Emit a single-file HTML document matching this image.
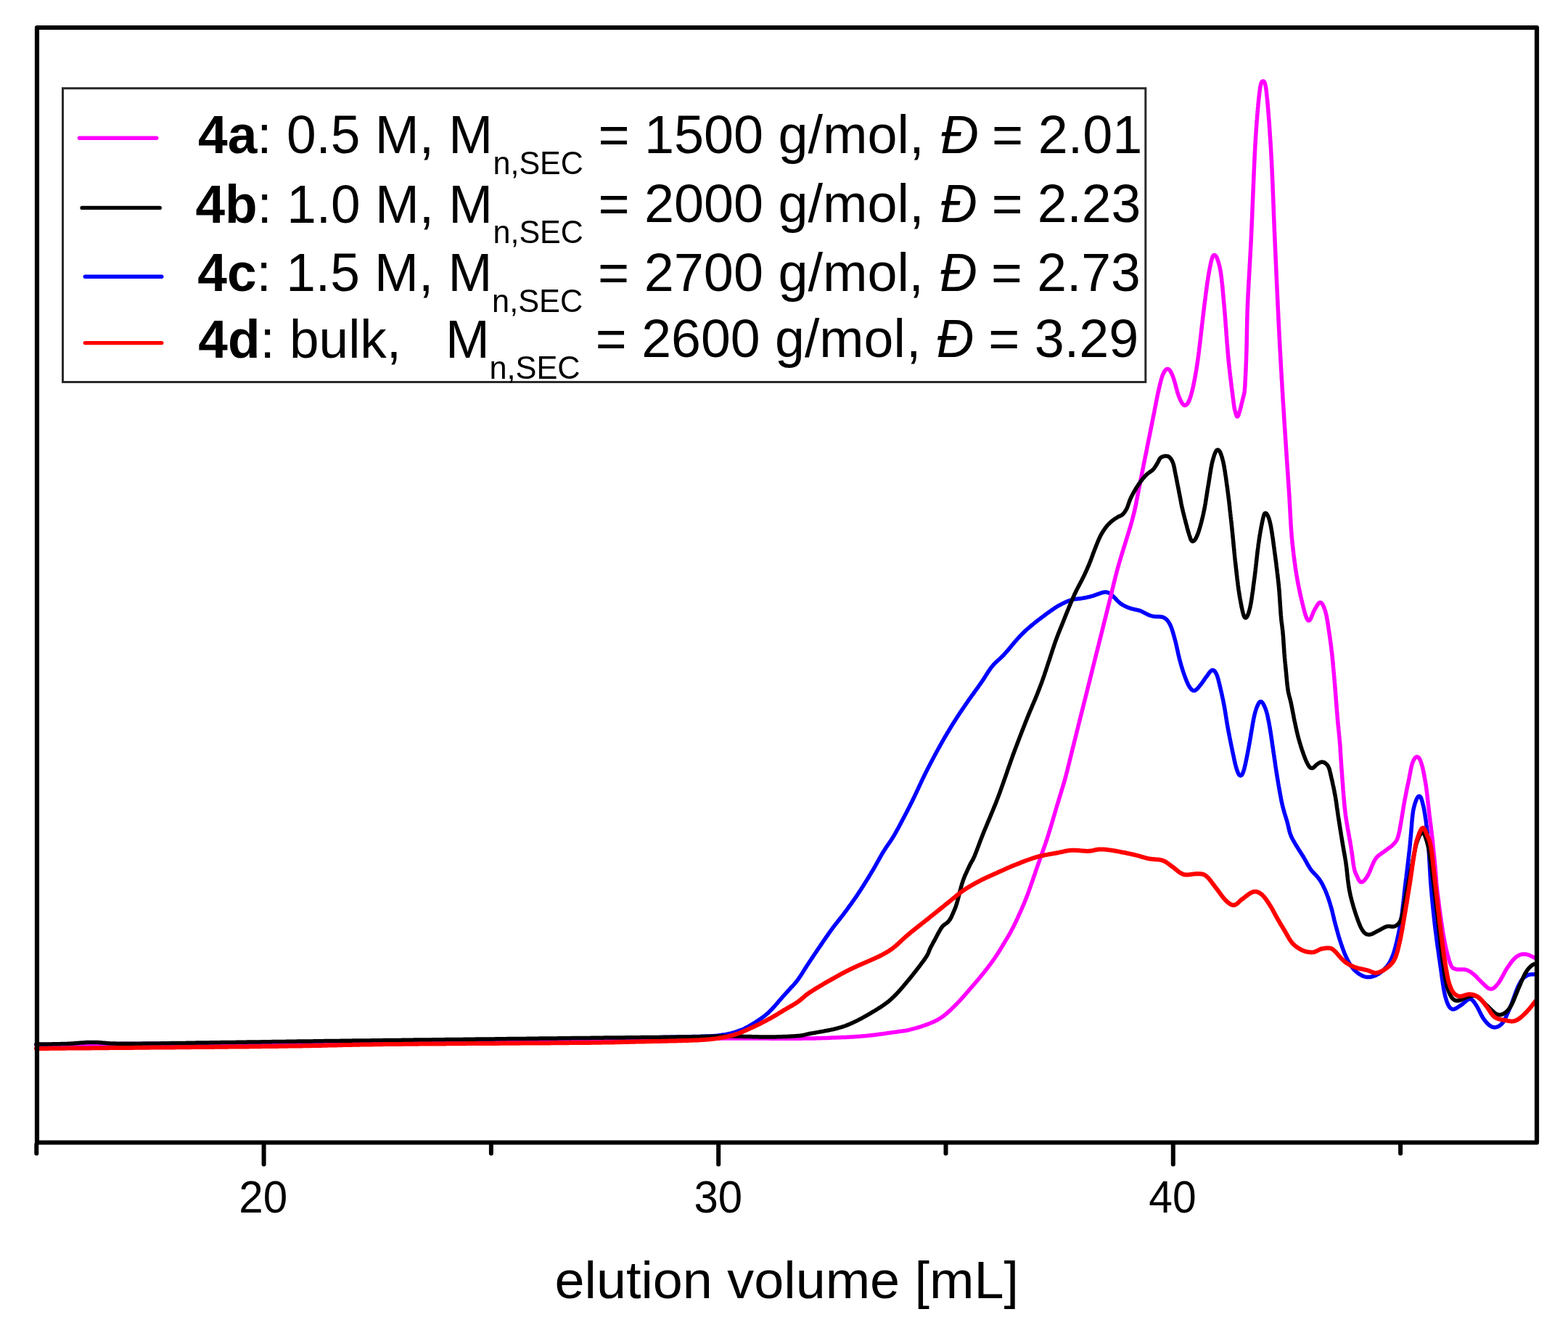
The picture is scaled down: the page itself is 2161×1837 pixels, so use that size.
<!DOCTYPE html>
<html><head><meta charset="utf-8"><title>SEC elugrams</title>
<style>
html,body{margin:0;padding:0;background:#fff;overflow:hidden;width:2161px;height:1837px;}
svg{display:block;}
text{font-family:"Liberation Sans",Arial,sans-serif;fill:#000;}
</style></head><body>
<svg width="2161" height="1837" viewBox="0 0 2161 1837">
<rect x="0" y="0" width="2161" height="1837" fill="#fff"/>
<path d="M50.0,1440.0 L52.9,1440.0 L54.0,1440.0 L55.2,1440.0 L56.5,1439.9 L57.7,1439.9 L59.1,1439.9 L60.5,1439.9 L62.0,1439.9 L63.5,1439.9 L65.0,1439.9 L66.5,1439.9 L68.0,1439.9 L69.5,1439.9 L71.0,1439.8 L72.5,1439.8 L74.0,1439.8 L75.5,1439.8 L77.0,1439.8 L78.5,1439.8 L80.0,1439.8 L81.5,1439.8 L83.0,1439.8 L84.5,1439.7 L86.0,1439.7 L87.5,1439.7 L89.0,1439.7 L90.5,1439.7 L92.0,1439.7 L93.5,1439.7 L95.0,1439.7 L96.5,1439.7 L98.0,1439.6 L99.5,1439.6 L101.0,1439.6 L102.5,1439.6 L104.0,1439.6 L105.5,1439.6 L107.0,1439.6 L108.5,1439.6 L110.0,1439.6 L111.5,1439.5 L113.0,1439.5 L114.5,1439.5 L116.0,1439.5 L117.5,1439.5 L119.0,1439.5 L120.5,1439.5 L122.0,1439.5 L123.5,1439.5 L125.0,1439.4 L126.5,1439.4 L128.0,1439.4 L129.5,1439.4 L131.0,1439.4 L132.5,1439.4 L134.0,1439.4 L135.5,1439.4 L137.0,1439.4 L138.5,1439.3 L140.0,1439.3 L141.5,1439.3 L143.0,1439.3 L144.5,1439.3 L146.0,1439.3 L147.5,1439.3 L149.0,1439.3 L150.5,1439.3 L152.0,1439.2 L153.5,1439.2 L155.0,1439.2 L156.5,1439.2 L158.0,1439.2 L159.5,1439.2 L161.0,1439.2 L162.5,1439.2 L164.0,1439.2 L165.5,1439.1 L167.0,1439.1 L168.5,1439.1 L170.0,1439.1 L171.5,1439.1 L173.0,1439.1 L174.5,1439.1 L176.0,1439.1 L177.5,1439.1 L179.0,1439.0 L180.5,1439.0 L182.0,1439.0 L183.5,1439.0 L185.0,1439.0 L186.5,1439.0 L188.0,1439.0 L189.5,1439.0 L191.0,1438.9 L192.5,1438.9 L194.0,1438.9 L195.5,1438.9 L197.0,1438.9 L198.5,1438.9 L200.0,1438.9 L201.5,1438.9 L203.0,1438.9 L204.5,1438.8 L206.0,1438.8 L207.5,1438.8 L209.0,1438.8 L210.5,1438.8 L212.0,1438.8 L213.5,1438.8 L215.0,1438.8 L216.5,1438.7 L218.0,1438.7 L219.5,1438.7 L221.0,1438.7 L222.5,1438.7 L224.0,1438.7 L225.5,1438.7 L227.0,1438.7 L228.5,1438.6 L230.0,1438.6 L231.5,1438.6 L233.0,1438.6 L234.5,1438.6 L236.0,1438.6 L237.5,1438.6 L239.0,1438.6 L240.5,1438.5 L242.0,1438.5 L243.5,1438.5 L245.0,1438.5 L246.5,1438.5 L248.0,1438.5 L249.5,1438.5 L251.0,1438.5 L252.5,1438.4 L254.0,1438.4 L255.5,1438.4 L257.0,1438.4 L258.5,1438.4 L260.0,1438.4 L261.5,1438.4 L263.0,1438.4 L264.5,1438.3 L266.0,1438.3 L267.5,1438.3 L269.0,1438.3 L270.5,1438.3 L272.0,1438.3 L273.5,1438.3 L275.0,1438.2 L276.5,1438.2 L278.0,1438.2 L279.5,1438.2 L281.0,1438.2 L282.5,1438.2 L284.0,1438.2 L285.5,1438.1 L287.0,1438.1 L288.5,1438.1 L290.0,1438.1 L291.5,1438.1 L293.0,1438.1 L294.5,1438.1 L296.0,1438.0 L297.5,1438.0 L299.0,1438.0 L300.5,1438.0 L302.0,1438.0 L303.5,1438.0 L305.0,1437.9 L306.5,1437.9 L308.0,1437.9 L309.5,1437.9 L311.0,1437.9 L312.5,1437.9 L314.0,1437.9 L315.5,1437.8 L317.0,1437.8 L318.5,1437.8 L320.0,1437.8 L321.5,1437.8 L323.0,1437.8 L324.5,1437.7 L326.0,1437.7 L327.5,1437.7 L329.0,1437.7 L330.5,1437.7 L332.0,1437.7 L333.5,1437.6 L335.0,1437.6 L336.5,1437.6 L338.0,1437.6 L339.5,1437.6 L341.0,1437.6 L342.5,1437.5 L344.0,1437.5 L345.5,1437.5 L347.0,1437.5 L348.5,1437.5 L350.0,1437.5 L351.5,1437.4 L353.0,1437.4 L354.5,1437.4 L356.0,1437.4 L357.5,1437.4 L359.0,1437.3 L360.5,1437.3 L362.0,1437.3 L363.5,1437.3 L365.0,1437.3 L366.5,1437.3 L368.0,1437.2 L369.5,1437.2 L371.0,1437.2 L372.5,1437.2 L374.0,1437.2 L375.5,1437.1 L377.0,1437.1 L378.5,1437.1 L380.0,1437.1 L381.5,1437.1 L383.0,1437.1 L384.5,1437.0 L386.0,1437.0 L387.5,1437.0 L389.0,1437.0 L390.5,1437.0 L392.0,1436.9 L393.5,1436.9 L395.0,1436.9 L396.5,1436.9 L398.0,1436.9 L399.5,1436.8 L401.0,1436.8 L402.5,1436.8 L404.0,1436.8 L405.5,1436.8 L407.0,1436.8 L408.5,1436.7 L410.0,1436.7 L411.5,1436.7 L413.0,1436.7 L414.5,1436.7 L416.0,1436.6 L417.5,1436.6 L419.0,1436.6 L420.5,1436.6 L422.0,1436.6 L423.5,1436.5 L425.0,1436.5 L426.5,1436.5 L428.0,1436.5 L429.5,1436.5 L431.0,1436.4 L432.5,1436.4 L434.0,1436.4 L435.5,1436.4 L437.0,1436.4 L438.5,1436.3 L440.0,1436.3 L441.5,1436.3 L443.0,1436.3 L444.5,1436.3 L446.0,1436.2 L447.5,1436.2 L449.0,1436.2 L450.5,1436.2 L452.0,1436.2 L453.5,1436.1 L455.0,1436.1 L456.5,1436.1 L458.0,1436.1 L459.5,1436.1 L461.0,1436.0 L462.5,1436.0 L464.0,1436.0 L465.5,1436.0 L467.0,1436.0 L468.5,1435.9 L470.0,1435.9 L471.5,1435.9 L473.0,1435.9 L474.5,1435.9 L476.0,1435.8 L477.5,1435.8 L479.0,1435.8 L480.5,1435.8 L482.0,1435.8 L483.5,1435.7 L485.0,1435.7 L486.5,1435.7 L488.0,1435.7 L489.5,1435.7 L491.0,1435.6 L492.5,1435.6 L494.0,1435.6 L495.5,1435.6 L497.0,1435.6 L498.5,1435.5 L500.0,1435.5 L501.5,1435.5 L503.0,1435.5 L504.5,1435.5 L506.0,1435.4 L507.5,1435.4 L509.0,1435.4 L510.5,1435.4 L512.0,1435.4 L513.5,1435.3 L515.0,1435.3 L516.5,1435.3 L518.0,1435.3 L519.5,1435.3 L521.0,1435.2 L522.5,1435.2 L524.0,1435.2 L525.5,1435.2 L527.0,1435.2 L528.5,1435.2 L530.0,1435.1 L531.5,1435.1 L533.0,1435.1 L534.5,1435.1 L536.0,1435.1 L537.5,1435.0 L539.0,1435.0 L540.5,1435.0 L542.0,1435.0 L543.5,1435.0 L545.0,1434.9 L546.5,1434.9 L548.0,1434.9 L549.5,1434.9 L551.0,1434.9 L552.5,1434.8 L554.0,1434.8 L555.5,1434.8 L557.0,1434.8 L558.5,1434.8 L560.0,1434.7 L561.5,1434.7 L563.0,1434.7 L564.5,1434.7 L566.0,1434.7 L567.5,1434.6 L569.0,1434.6 L570.5,1434.6 L572.0,1434.6 L573.5,1434.6 L575.0,1434.5 L576.5,1434.5 L578.0,1434.5 L579.5,1434.5 L581.0,1434.5 L582.5,1434.5 L584.0,1434.4 L585.5,1434.4 L587.0,1434.4 L588.5,1434.4 L590.0,1434.4 L591.5,1434.3 L593.0,1434.3 L594.5,1434.3 L596.0,1434.3 L597.5,1434.3 L599.0,1434.2 L600.5,1434.2 L602.0,1434.2 L603.5,1434.2 L605.0,1434.2 L606.5,1434.1 L608.0,1434.1 L609.5,1434.1 L611.0,1434.1 L612.5,1434.1 L614.0,1434.0 L615.5,1434.0 L617.0,1434.0 L618.5,1434.0 L620.0,1434.0 L621.5,1433.9 L623.0,1433.9 L624.5,1433.9 L626.0,1433.9 L627.5,1433.9 L629.0,1433.9 L630.5,1433.8 L632.0,1433.8 L633.5,1433.8 L635.0,1433.8 L636.5,1433.8 L638.0,1433.7 L639.5,1433.7 L641.0,1433.7 L642.5,1433.7 L644.0,1433.7 L645.5,1433.6 L647.0,1433.6 L648.5,1433.6 L650.0,1433.6 L651.5,1433.6 L653.0,1433.5 L654.5,1433.5 L656.0,1433.5 L657.5,1433.5 L659.0,1433.5 L660.5,1433.4 L662.0,1433.4 L663.5,1433.4 L665.0,1433.4 L666.5,1433.4 L668.0,1433.3 L669.5,1433.3 L671.0,1433.3 L672.5,1433.3 L674.0,1433.3 L675.5,1433.2 L677.0,1433.2 L678.5,1433.2 L680.0,1433.2 L681.5,1433.2 L683.0,1433.1 L684.5,1433.1 L686.0,1433.1 L687.5,1433.1 L689.0,1433.1 L690.5,1433.0 L692.0,1433.0 L693.5,1433.0 L695.0,1433.0 L696.5,1433.0 L698.0,1432.9 L699.5,1432.9 L701.0,1432.9 L702.5,1432.9 L704.0,1432.9 L705.5,1432.8 L707.0,1432.8 L708.5,1432.8 L710.0,1432.8 L711.5,1432.8 L713.0,1432.7 L714.5,1432.7 L716.0,1432.7 L717.5,1432.7 L719.0,1432.7 L720.5,1432.6 L722.0,1432.6 L723.5,1432.6 L725.0,1432.6 L726.5,1432.6 L728.0,1432.5 L729.5,1432.5 L731.0,1432.5 L732.5,1432.5 L734.0,1432.5 L735.5,1432.4 L737.0,1432.4 L738.5,1432.4 L740.0,1432.4 L741.5,1432.4 L743.0,1432.3 L744.5,1432.3 L746.0,1432.3 L747.5,1432.3 L749.0,1432.2 L750.5,1432.2 L752.0,1432.2 L753.5,1432.2 L755.0,1432.2 L756.5,1432.1 L758.0,1432.1 L759.5,1432.1 L761.0,1432.1 L762.5,1432.1 L764.0,1432.0 L765.5,1432.0 L767.0,1432.0 L768.5,1432.0 L770.0,1431.9 L771.5,1431.9 L773.0,1431.9 L774.5,1431.9 L776.0,1431.9 L777.5,1431.8 L779.0,1431.8 L780.5,1431.8 L782.0,1431.8 L783.5,1431.8 L785.0,1431.7 L786.5,1431.7 L788.0,1431.7 L789.5,1431.7 L791.0,1431.6 L792.5,1431.6 L794.0,1431.6 L795.4,1431.6 L796.9,1431.5 L798.4,1431.5 L799.9,1431.5 L801.4,1431.5 L802.9,1431.5 L804.4,1431.4 L805.9,1431.4 L807.4,1431.4 L808.9,1431.4 L810.4,1431.3 L811.9,1431.3 L813.4,1431.3 L814.9,1431.3 L816.4,1431.2 L817.9,1431.2 L819.4,1431.2 L820.9,1431.2 L822.4,1431.1 L823.9,1431.1 L825.4,1431.1 L826.9,1431.1 L828.4,1431.1 L829.9,1431.0 L831.4,1431.0 L832.9,1431.0 L834.4,1431.0 L835.9,1430.9 L837.4,1430.9 L838.9,1430.9 L840.4,1430.9 L841.9,1430.8 L843.4,1430.8 L844.9,1430.8 L846.4,1430.8 L847.9,1430.7 L849.4,1430.7 L850.9,1430.7 L852.4,1430.7 L853.9,1430.6 L855.4,1430.6 L856.9,1430.6 L858.4,1430.6 L859.9,1430.5 L861.4,1430.5 L862.9,1430.5 L864.4,1430.5 L865.9,1430.4 L867.4,1430.4 L868.9,1430.4 L870.4,1430.3 L871.9,1430.3 L873.4,1430.3 L874.9,1430.3 L876.4,1430.2 L877.9,1430.2 L879.4,1430.2 L880.9,1430.2 L882.4,1430.1 L883.9,1430.1 L885.4,1430.1 L886.9,1430.1 L888.4,1430.0 L889.9,1430.0 L891.4,1430.0 L892.9,1429.9 L894.4,1429.9 L895.9,1429.9 L897.4,1429.9 L898.9,1429.8 L900.4,1429.8 L901.9,1429.8 L903.4,1429.7 L904.9,1429.7 L906.4,1429.7 L907.9,1429.7 L909.4,1429.6 L910.9,1429.6 L912.4,1429.6 L913.9,1429.5 L915.4,1429.5 L916.9,1429.5 L918.4,1429.5 L919.9,1429.4 L921.4,1429.4 L922.9,1429.4 L924.4,1429.3 L925.9,1429.3 L927.4,1429.3 L928.9,1429.2 L930.4,1429.2 L931.9,1429.2 L933.4,1429.1 L934.9,1429.1 L936.4,1429.1 L937.9,1429.0 L939.4,1429.0 L940.9,1429.0 L942.4,1428.9 L943.9,1428.9 L945.4,1428.9 L946.9,1428.8 L948.4,1428.8 L949.9,1428.8 L951.4,1428.7 L952.9,1428.7 L954.4,1428.6 L955.9,1428.6 L957.4,1428.6 L958.9,1428.5 L960.4,1428.5 L961.9,1428.4 L963.4,1428.4 L964.9,1428.4 L966.4,1428.3 L967.9,1428.3 L969.4,1428.2 L970.9,1428.2 L972.4,1428.1 L973.9,1428.1 L975.4,1428.0 L976.9,1428.0 L978.4,1427.9 L979.9,1427.9 L981.4,1427.8 L982.9,1427.7 L984.4,1427.6 L985.9,1427.5 L987.4,1427.4 L988.9,1427.2 L990.4,1427.0 L991.9,1426.8 L993.3,1426.6 L994.8,1426.3 L996.3,1426.1 L997.8,1425.9 L999.3,1425.7 L1000.7,1425.4 L1002.2,1425.1 L1003.7,1424.8 L1005.1,1424.5 L1006.6,1424.2 L1008.1,1423.8 L1009.5,1423.4 L1011.0,1423.0 L1012.4,1422.6 L1013.8,1422.1 L1015.2,1421.7 L1016.7,1421.2 L1018.1,1420.7 L1019.5,1420.2 L1020.9,1419.6 L1022.3,1419.1 L1023.7,1418.5 L1025.0,1417.9 L1026.4,1417.2 L1027.7,1416.5 L1029.0,1415.8 L1030.4,1415.1 L1031.7,1414.4 L1033.0,1413.6 L1034.3,1412.9 L1035.6,1412.1 L1036.9,1411.4 L1038.1,1410.6 L1039.4,1409.8 L1040.7,1409.0 L1042.0,1408.2 L1043.2,1407.4 L1044.5,1406.6 L1045.7,1405.7 L1047.0,1404.9 L1048.2,1404.1 L1049.4,1403.2 L1050.6,1402.3 L1051.9,1401.4 L1053.0,1400.5 L1054.2,1399.6 L1055.4,1398.6 L1056.5,1397.7 L1057.7,1396.7 L1058.8,1395.7 L1059.9,1394.6 L1060.9,1393.6 L1062.0,1392.5 L1063.0,1391.5 L1064.1,1390.4 L1065.1,1389.3 L1066.1,1388.2 L1067.1,1387.1 L1068.1,1386.0 L1069.1,1384.8 L1070.1,1383.7 L1071.1,1382.6 L1072.1,1381.4 L1073.0,1380.3 L1074.0,1379.1 L1075.0,1378.0 L1076.0,1376.9 L1077.0,1375.7 L1077.9,1374.6 L1078.9,1373.5 L1079.9,1372.4 L1081.0,1371.3 L1082.0,1370.2 L1083.0,1369.0 L1084.0,1367.9 L1085.0,1366.8 L1086.0,1365.7 L1087.0,1364.6 L1088.0,1363.5 L1089.0,1362.3 L1090.0,1361.2 L1091.0,1360.1 L1092.1,1359.1 L1093.1,1358.0 L1094.1,1356.9 L1095.1,1355.7 L1096.1,1354.6 L1097.0,1353.5 L1098.0,1352.3 L1098.9,1351.1 L1099.8,1349.9 L1100.7,1348.7 L1101.5,1347.4 L1102.3,1346.2 L1103.2,1344.9 L1104.0,1343.7 L1104.8,1342.4 L1105.6,1341.2 L1106.4,1339.9 L1107.2,1338.6 L1108.0,1337.4 L1108.8,1336.1 L1109.6,1334.8 L1110.4,1333.6 L1111.2,1332.3 L1112.0,1331.0 L1112.8,1329.8 L1113.7,1328.5 L1114.5,1327.3 L1115.3,1326.0 L1116.1,1324.8 L1117.0,1323.5 L1117.8,1322.3 L1118.6,1321.0 L1119.5,1319.8 L1120.3,1318.5 L1121.1,1317.3 L1122.0,1316.0 L1122.8,1314.8 L1123.7,1313.5 L1124.5,1312.3 L1125.3,1311.1 L1126.2,1309.8 L1127.0,1308.6 L1127.8,1307.3 L1128.7,1306.1 L1129.5,1304.8 L1130.4,1303.6 L1131.2,1302.4 L1132.1,1301.1 L1132.9,1299.9 L1133.7,1298.6 L1134.6,1297.4 L1135.4,1296.2 L1136.3,1294.9 L1137.1,1293.7 L1138.0,1292.5 L1138.8,1291.2 L1139.7,1290.0 L1140.6,1288.8 L1141.4,1287.5 L1142.3,1286.3 L1143.1,1285.1 L1144.0,1283.9 L1144.9,1282.6 L1145.8,1281.4 L1146.7,1280.2 L1147.5,1279.0 L1148.4,1277.8 L1149.4,1276.6 L1150.3,1275.4 L1151.2,1274.2 L1152.1,1273.0 L1153.0,1271.9 L1154.0,1270.7 L1154.9,1269.5 L1155.8,1268.3 L1156.8,1267.2 L1157.7,1266.0 L1158.6,1264.8 L1159.5,1263.6 L1160.5,1262.5 L1161.4,1261.3 L1162.3,1260.1 L1163.2,1258.9 L1164.1,1257.7 L1165.0,1256.5 L1165.9,1255.3 L1166.8,1254.1 L1167.7,1252.9 L1168.6,1251.7 L1169.5,1250.4 L1170.3,1249.2 L1171.2,1248.0 L1172.1,1246.8 L1173.0,1245.6 L1173.8,1244.4 L1174.7,1243.1 L1175.6,1241.9 L1176.4,1240.7 L1177.3,1239.5 L1178.2,1238.2 L1179.0,1237.0 L1179.9,1235.8 L1180.7,1234.5 L1181.6,1233.3 L1182.4,1232.0 L1183.2,1230.8 L1184.0,1229.5 L1184.9,1228.3 L1185.7,1227.0 L1186.5,1225.8 L1187.3,1224.5 L1188.1,1223.2 L1188.9,1222.0 L1189.7,1220.7 L1190.5,1219.4 L1191.3,1218.2 L1192.1,1216.9 L1192.9,1215.6 L1193.7,1214.4 L1194.5,1213.1 L1195.3,1211.8 L1196.1,1210.5 L1196.9,1209.2 L1197.6,1208.0 L1198.4,1206.7 L1199.2,1205.4 L1200.0,1204.1 L1200.7,1202.8 L1201.5,1201.5 L1202.3,1200.3 L1203.1,1199.0 L1203.8,1197.7 L1204.6,1196.4 L1205.3,1195.1 L1206.1,1193.8 L1206.8,1192.5 L1207.5,1191.2 L1208.3,1189.9 L1209.0,1188.5 L1209.7,1187.2 L1210.5,1185.9 L1211.2,1184.6 L1211.9,1183.3 L1212.7,1182.0 L1213.4,1180.7 L1214.1,1179.4 L1214.9,1178.1 L1215.6,1176.8 L1216.4,1175.5 L1217.2,1174.2 L1218.0,1172.9 L1218.8,1171.7 L1219.6,1170.4 L1220.4,1169.2 L1221.2,1167.9 L1222.1,1166.7 L1222.9,1165.4 L1223.8,1164.2 L1224.6,1163.0 L1225.5,1161.7 L1226.3,1160.5 L1227.2,1159.3 L1228.0,1158.0 L1228.8,1156.8 L1229.6,1155.5 L1230.4,1154.2 L1231.2,1152.9 L1232.0,1151.7 L1232.7,1150.4 L1233.5,1149.1 L1234.2,1147.8 L1235.0,1146.5 L1235.7,1145.1 L1236.4,1143.8 L1237.2,1142.5 L1237.9,1141.2 L1238.6,1139.9 L1239.3,1138.6 L1240.0,1137.2 L1240.7,1135.9 L1241.4,1134.6 L1242.1,1133.3 L1242.8,1131.9 L1243.5,1130.6 L1244.2,1129.3 L1244.9,1128.0 L1245.6,1126.6 L1246.3,1125.3 L1247.0,1124.0 L1247.7,1122.6 L1248.4,1121.3 L1249.1,1120.0 L1249.8,1118.6 L1250.5,1117.3 L1251.1,1116.0 L1251.8,1114.6 L1252.5,1113.3 L1253.2,1112.0 L1253.9,1110.6 L1254.5,1109.3 L1255.2,1107.9 L1255.9,1106.6 L1256.6,1105.3 L1257.2,1103.9 L1257.9,1102.6 L1258.5,1101.2 L1259.2,1099.9 L1259.8,1098.5 L1260.5,1097.2 L1261.1,1095.8 L1261.8,1094.5 L1262.4,1093.1 L1263.1,1091.8 L1263.7,1090.4 L1264.3,1089.0 L1265.0,1087.7 L1265.6,1086.3 L1266.2,1085.0 L1266.9,1083.6 L1267.5,1082.2 L1268.1,1080.9 L1268.8,1079.5 L1269.4,1078.2 L1270.0,1076.8 L1270.7,1075.4 L1271.3,1074.1 L1272.0,1072.7 L1272.6,1071.4 L1273.3,1070.0 L1273.9,1068.7 L1274.6,1067.3 L1275.3,1066.0 L1275.9,1064.7 L1276.6,1063.3 L1277.3,1062.0 L1278.0,1060.6 L1278.6,1059.3 L1279.3,1058.0 L1280.0,1056.6 L1280.7,1055.3 L1281.4,1054.0 L1282.1,1052.6 L1282.8,1051.3 L1283.5,1050.0 L1284.2,1048.6 L1284.9,1047.3 L1285.6,1046.0 L1286.3,1044.7 L1287.0,1043.3 L1287.7,1042.0 L1288.4,1040.7 L1289.1,1039.4 L1289.8,1038.1 L1290.5,1036.7 L1291.2,1035.4 L1292.0,1034.1 L1292.7,1032.8 L1293.4,1031.5 L1294.1,1030.2 L1294.9,1028.9 L1295.6,1027.5 L1296.3,1026.2 L1297.1,1024.9 L1297.8,1023.6 L1298.5,1022.3 L1299.3,1021.0 L1300.0,1019.7 L1300.8,1018.4 L1301.5,1017.1 L1302.3,1015.8 L1303.0,1014.5 L1303.8,1013.2 L1304.6,1011.9 L1305.3,1010.6 L1306.1,1009.4 L1306.9,1008.1 L1307.6,1006.8 L1308.4,1005.5 L1309.2,1004.2 L1310.0,1002.9 L1310.7,1001.6 L1311.5,1000.4 L1312.3,999.1 L1313.1,997.8 L1313.9,996.5 L1314.7,995.3 L1315.5,994.0 L1316.3,992.7 L1317.1,991.5 L1317.9,990.2 L1318.7,989.0 L1319.5,987.7 L1320.4,986.4 L1321.2,985.2 L1322.0,983.9 L1322.8,982.7 L1323.7,981.4 L1324.5,980.2 L1325.4,979.0 L1326.2,977.7 L1327.0,976.5 L1327.9,975.2 L1328.7,974.0 L1329.6,972.7 L1330.4,971.5 L1331.3,970.3 L1332.1,969.0 L1333.0,967.8 L1333.8,966.6 L1334.7,965.3 L1335.5,964.1 L1336.4,962.9 L1337.3,961.7 L1338.2,960.4 L1339.0,959.2 L1339.9,958.0 L1340.8,956.8 L1341.7,955.6 L1342.5,954.4 L1343.4,953.1 L1344.3,951.9 L1345.2,950.7 L1346.1,949.5 L1346.9,948.3 L1347.8,947.1 L1348.7,945.8 L1349.5,944.6 L1350.4,943.4 L1351.3,942.2 L1352.1,940.9 L1353.0,939.7 L1353.8,938.5 L1354.6,937.2 L1355.5,936.0 L1356.3,934.7 L1357.1,933.4 L1357.9,932.2 L1358.7,930.9 L1359.5,929.6 L1360.3,928.4 L1361.1,927.1 L1361.9,925.9 L1362.8,924.6 L1363.6,923.4 L1364.5,922.1 L1365.3,920.9 L1366.2,919.7 L1367.2,918.5 L1368.1,917.4 L1369.1,916.2 L1370.1,915.1 L1371.1,914.1 L1372.2,913.0 L1373.3,912.0 L1374.4,911.0 L1375.5,910.0 L1376.6,909.0 L1377.7,908.0 L1378.8,907.0 L1379.9,905.9 L1381.0,904.9 L1382.1,903.8 L1383.1,902.8 L1384.1,901.7 L1385.1,900.5 L1386.1,899.4 L1387.1,898.3 L1388.1,897.2 L1389.1,896.0 L1390.0,894.9 L1391.0,893.7 L1392.0,892.6 L1392.9,891.4 L1393.9,890.3 L1394.8,889.1 L1395.8,888.0 L1396.8,886.8 L1397.7,885.7 L1398.7,884.5 L1399.7,883.4 L1400.7,882.2 L1401.7,881.1 L1402.7,880.0 L1403.7,878.9 L1404.7,877.8 L1405.7,876.7 L1406.8,875.6 L1407.8,874.6 L1408.9,873.5 L1410.0,872.5 L1411.0,871.4 L1412.1,870.4 L1413.2,869.4 L1414.3,868.3 L1415.4,867.3 L1416.5,866.3 L1417.7,865.3 L1418.8,864.4 L1419.9,863.4 L1421.1,862.4 L1422.2,861.5 L1423.4,860.5 L1424.6,859.5 L1425.7,858.6 L1426.9,857.7 L1428.1,856.7 L1429.3,855.8 L1430.4,854.9 L1431.6,854.0 L1432.8,853.1 L1434.0,852.2 L1435.2,851.3 L1436.4,850.4 L1437.6,849.5 L1438.8,848.6 L1440.0,847.7 L1441.2,846.8 L1442.4,845.9 L1443.6,845.0 L1444.9,844.1 L1446.1,843.3 L1447.3,842.4 L1448.5,841.5 L1449.7,840.6 L1451.0,839.8 L1452.2,838.9 L1453.5,838.1 L1454.7,837.3 L1456.0,836.4 L1457.2,835.7 L1458.5,834.9 L1459.8,834.2 L1461.2,833.5 L1462.5,832.8 L1463.8,832.1 L1465.2,831.4 L1466.5,830.8 L1467.9,830.1 L1469.3,829.5 L1470.6,828.9 L1472.0,828.4 L1473.4,827.8 L1474.8,827.3 L1476.3,826.9 L1477.7,826.4 L1479.2,826.1 L1480.6,825.8 L1482.1,825.6 L1483.6,825.4 L1485.1,825.2 L1486.6,825.1 L1488.1,825.0 L1489.6,824.8 L1491.0,824.6 L1492.5,824.3 L1494.0,824.1 L1495.5,823.8 L1496.9,823.5 L1498.4,823.1 L1499.9,822.8 L1501.3,822.5 L1502.8,822.1 L1504.2,821.7 L1505.7,821.3 L1507.1,820.8 L1508.5,820.3 L1509.9,819.8 L1511.3,819.3 L1512.7,818.8 L1514.2,818.3 L1515.6,817.8 L1517.0,817.3 L1518.4,816.9 L1519.9,816.5 L1521.3,816.2 L1522.8,816.1 L1524.3,816.1 L1525.8,816.3 L1527.2,816.7 L1528.6,817.3 L1529.9,818.0 L1531.1,818.9 L1532.2,819.9 L1533.3,820.9 L1534.4,822.0 L1535.4,823.0 L1536.5,824.1 L1537.5,825.2 L1538.5,826.3 L1539.6,827.4 L1540.6,828.5 L1541.7,829.5 L1542.8,830.5 L1544.0,831.4 L1545.2,832.3 L1546.5,833.1 L1547.7,833.9 L1549.1,834.6 L1550.4,835.3 L1551.8,835.9 L1553.1,836.5 L1554.5,837.1 L1555.9,837.6 L1557.3,838.1 L1558.8,838.6 L1560.2,839.0 L1561.7,839.3 L1563.1,839.7 L1564.6,840.0 L1566.0,840.3 L1567.5,840.7 L1569.0,841.0 L1570.4,841.4 L1571.8,841.9 L1573.2,842.5 L1574.6,843.1 L1575.9,843.8 L1577.2,844.5 L1578.5,845.2 L1579.9,845.9 L1581.2,846.6 L1582.6,847.2 L1584.0,847.8 L1585.4,848.3 L1586.8,848.7 L1588.2,849.1 L1589.7,849.4 L1591.2,849.6 L1592.7,849.7 L1594.2,849.8 L1595.7,849.8 L1597.2,849.8 L1598.7,849.9 L1600.2,850.0 L1601.6,850.3 L1603.1,850.7 L1604.4,851.3 L1605.7,852.1 L1606.9,853.0 L1608.0,854.0 L1609.0,855.1 L1609.9,856.3 L1610.7,857.5 L1611.5,858.8 L1612.2,860.1 L1612.9,861.5 L1613.5,862.8 L1614.1,864.2 L1614.6,865.6 L1615.1,867.0 L1615.6,868.5 L1616.0,869.9 L1616.5,871.3 L1616.9,872.8 L1617.3,874.2 L1617.7,875.6 L1618.1,877.1 L1618.5,878.5 L1618.9,880.0 L1619.3,881.4 L1619.7,882.9 L1620.1,884.3 L1620.4,885.8 L1620.8,887.2 L1621.1,888.7 L1621.4,890.2 L1621.8,891.6 L1622.1,893.1 L1622.4,894.6 L1622.7,896.0 L1623.1,897.5 L1623.4,899.0 L1623.7,900.4 L1624.0,901.9 L1624.4,903.3 L1624.7,904.8 L1625.1,906.3 L1625.4,907.7 L1625.8,909.2 L1626.2,910.6 L1626.6,912.1 L1627.0,913.5 L1627.4,915.0 L1627.8,916.4 L1628.2,917.8 L1628.7,919.3 L1629.1,920.7 L1629.5,922.1 L1630.0,923.6 L1630.4,925.0 L1630.9,926.4 L1631.4,927.9 L1631.9,929.3 L1632.4,930.7 L1632.9,932.1 L1633.4,933.5 L1633.9,934.9 L1634.5,936.3 L1635.0,937.7 L1635.6,939.1 L1636.2,940.5 L1636.8,941.8 L1637.4,943.2 L1638.1,944.5 L1638.9,945.8 L1639.7,947.1 L1640.5,948.3 L1641.5,949.5 L1642.5,950.5 L1643.7,951.3 L1645.1,951.8 L1646.5,951.7 L1647.8,951.1 L1648.9,950.2 L1650.0,949.2 L1651.0,948.1 L1652.0,947.0 L1652.9,945.8 L1653.9,944.6 L1654.8,943.5 L1655.7,942.3 L1656.6,941.1 L1657.5,939.9 L1658.4,938.6 L1659.2,937.4 L1660.1,936.1 L1660.9,934.9 L1661.8,933.7 L1662.7,932.5 L1663.6,931.3 L1664.5,930.1 L1665.3,928.9 L1666.2,927.6 L1667.1,926.5 L1668.1,925.3 L1669.2,924.3 L1670.4,923.6 L1671.7,923.5 L1673.0,924.0 L1674.1,924.9 L1674.9,926.1 L1675.7,927.4 L1676.4,928.8 L1677.0,930.1 L1677.5,931.5 L1678.0,932.9 L1678.4,934.4 L1678.9,935.8 L1679.3,937.3 L1679.6,938.7 L1680.0,940.2 L1680.3,941.6 L1680.7,943.1 L1681.0,944.5 L1681.4,946.0 L1681.7,947.5 L1682.1,948.9 L1682.4,950.4 L1682.8,951.8 L1683.1,953.3 L1683.4,954.8 L1683.8,956.2 L1684.1,957.7 L1684.4,959.2 L1684.7,960.6 L1685.0,962.1 L1685.4,963.6 L1685.7,965.0 L1686.0,966.5 L1686.2,968.0 L1686.5,969.4 L1686.8,970.9 L1687.1,972.4 L1687.4,973.9 L1687.6,975.3 L1687.9,976.8 L1688.1,978.3 L1688.4,979.8 L1688.6,981.3 L1688.9,982.7 L1689.1,984.2 L1689.3,985.7 L1689.6,987.2 L1689.8,988.7 L1690.0,990.2 L1690.3,991.6 L1690.5,993.1 L1690.7,994.6 L1691.0,996.1 L1691.2,997.6 L1691.5,999.0 L1691.7,1000.5 L1692.0,1002.0 L1692.3,1003.5 L1692.5,1004.9 L1692.8,1006.4 L1693.1,1007.9 L1693.4,1009.4 L1693.7,1010.8 L1693.9,1012.3 L1694.2,1013.8 L1694.5,1015.2 L1694.8,1016.7 L1695.1,1018.2 L1695.4,1019.7 L1695.7,1021.1 L1696.0,1022.6 L1696.3,1024.1 L1696.6,1025.5 L1696.9,1027.0 L1697.2,1028.5 L1697.5,1030.0 L1697.8,1031.4 L1698.1,1032.9 L1698.4,1034.4 L1698.7,1035.8 L1699.0,1037.3 L1699.3,1038.8 L1699.7,1040.2 L1700.0,1041.7 L1700.3,1043.2 L1700.6,1044.6 L1700.9,1046.1 L1701.2,1047.6 L1701.5,1049.0 L1701.8,1050.5 L1702.2,1052.0 L1702.5,1053.4 L1702.9,1054.9 L1703.3,1056.3 L1703.7,1057.8 L1704.1,1059.2 L1704.6,1060.6 L1705.1,1062.0 L1705.6,1063.5 L1706.1,1064.8 L1706.8,1066.2 L1707.5,1067.5 L1708.5,1068.5 L1709.6,1068.9 L1710.8,1068.5 L1711.7,1067.6 L1712.5,1066.3 L1713.0,1064.9 L1713.6,1063.5 L1714.0,1062.1 L1714.5,1060.6 L1714.9,1059.2 L1715.2,1057.7 L1715.6,1056.3 L1715.9,1054.8 L1716.3,1053.4 L1716.6,1051.9 L1716.9,1050.4 L1717.2,1049.0 L1717.5,1047.5 L1717.8,1046.0 L1718.1,1044.6 L1718.4,1043.1 L1718.7,1041.6 L1719.0,1040.1 L1719.3,1038.7 L1719.6,1037.2 L1719.8,1035.7 L1720.1,1034.3 L1720.4,1032.8 L1720.7,1031.3 L1721.0,1029.8 L1721.2,1028.4 L1721.5,1026.9 L1721.8,1025.4 L1722.0,1023.9 L1722.3,1022.5 L1722.6,1021.0 L1722.8,1019.5 L1723.1,1018.0 L1723.3,1016.5 L1723.6,1015.1 L1723.8,1013.6 L1724.0,1012.1 L1724.3,1010.6 L1724.5,1009.1 L1724.8,1007.7 L1725.0,1006.2 L1725.3,1004.7 L1725.5,1003.2 L1725.8,1001.7 L1726.0,1000.3 L1726.3,998.8 L1726.5,997.3 L1726.8,995.8 L1727.1,994.4 L1727.3,992.9 L1727.6,991.4 L1727.9,989.9 L1728.2,988.5 L1728.6,987.0 L1728.9,985.5 L1729.2,984.1 L1729.6,982.6 L1730.0,981.2 L1730.4,979.7 L1730.9,978.3 L1731.3,976.9 L1731.8,975.5 L1732.4,974.1 L1733.0,972.7 L1733.6,971.3 L1734.2,970.0 L1735.0,968.7 L1735.8,967.6 L1736.9,966.9 L1738.1,966.9 L1739.3,967.7 L1740.2,968.8 L1741.0,970.0 L1741.7,971.4 L1742.4,972.7 L1743.0,974.1 L1743.6,975.4 L1744.1,976.8 L1744.6,978.3 L1745.1,979.7 L1745.5,981.1 L1745.9,982.6 L1746.3,984.0 L1746.7,985.5 L1747.0,986.9 L1747.3,988.4 L1747.6,989.9 L1747.9,991.3 L1748.2,992.8 L1748.5,994.3 L1748.8,995.7 L1749.1,997.2 L1749.3,998.7 L1749.6,1000.2 L1749.8,1001.7 L1750.1,1003.1 L1750.4,1004.6 L1750.6,1006.1 L1750.8,1007.6 L1751.1,1009.1 L1751.3,1010.5 L1751.5,1012.0 L1751.8,1013.5 L1752.0,1015.0 L1752.2,1016.5 L1752.4,1018.0 L1752.6,1019.4 L1752.9,1020.9 L1753.1,1022.4 L1753.3,1023.9 L1753.5,1025.4 L1753.7,1026.9 L1753.9,1028.3 L1754.1,1029.8 L1754.4,1031.3 L1754.6,1032.8 L1754.8,1034.3 L1755.0,1035.8 L1755.2,1037.2 L1755.4,1038.7 L1755.7,1040.2 L1755.9,1041.7 L1756.1,1043.2 L1756.3,1044.7 L1756.5,1046.2 L1756.7,1047.6 L1757.0,1049.1 L1757.2,1050.6 L1757.4,1052.1 L1757.6,1053.6 L1757.8,1055.1 L1758.0,1056.5 L1758.3,1058.0 L1758.5,1059.5 L1758.7,1061.0 L1758.9,1062.5 L1759.2,1064.0 L1759.4,1065.4 L1759.6,1066.9 L1759.9,1068.4 L1760.1,1069.9 L1760.3,1071.4 L1760.6,1072.8 L1760.8,1074.3 L1761.1,1075.8 L1761.3,1077.3 L1761.6,1078.8 L1761.8,1080.2 L1762.1,1081.7 L1762.3,1083.2 L1762.6,1084.7 L1762.8,1086.2 L1763.1,1087.6 L1763.4,1089.1 L1763.6,1090.6 L1763.9,1092.1 L1764.2,1093.5 L1764.4,1095.0 L1764.7,1096.5 L1765.0,1098.0 L1765.3,1099.4 L1765.5,1100.9 L1765.8,1102.4 L1766.1,1103.9 L1766.4,1105.3 L1766.7,1106.8 L1767.1,1108.3 L1767.4,1109.7 L1767.7,1111.2 L1768.1,1112.6 L1768.5,1114.1 L1768.9,1115.5 L1769.3,1117.0 L1769.7,1118.4 L1770.1,1119.9 L1770.5,1121.3 L1771.0,1122.7 L1771.4,1124.2 L1771.9,1125.6 L1772.3,1127.0 L1772.8,1128.5 L1773.2,1129.9 L1773.6,1131.3 L1774.0,1132.8 L1774.4,1134.2 L1774.8,1135.7 L1775.1,1137.1 L1775.5,1138.6 L1775.8,1140.1 L1776.1,1141.5 L1776.5,1143.0 L1776.8,1144.4 L1777.2,1145.9 L1777.6,1147.3 L1778.1,1148.8 L1778.6,1150.2 L1779.1,1151.6 L1779.7,1153.0 L1780.3,1154.3 L1781.0,1155.7 L1781.7,1157.0 L1782.4,1158.3 L1783.2,1159.6 L1783.9,1160.9 L1784.7,1162.2 L1785.4,1163.5 L1786.2,1164.8 L1787.0,1166.1 L1787.8,1167.3 L1788.6,1168.6 L1789.4,1169.9 L1790.2,1171.2 L1791.0,1172.4 L1791.8,1173.7 L1792.6,1174.9 L1793.4,1176.2 L1794.2,1177.5 L1795.0,1178.7 L1795.8,1180.0 L1796.6,1181.3 L1797.3,1182.6 L1798.1,1183.9 L1798.8,1185.2 L1799.6,1186.5 L1800.3,1187.8 L1801.0,1189.1 L1801.7,1190.4 L1802.5,1191.8 L1803.2,1193.1 L1804.0,1194.3 L1804.8,1195.6 L1805.6,1196.9 L1806.4,1198.1 L1807.3,1199.3 L1808.3,1200.5 L1809.3,1201.6 L1810.3,1202.7 L1811.3,1203.8 L1812.4,1204.9 L1813.4,1205.9 L1814.4,1207.0 L1815.4,1208.2 L1816.4,1209.3 L1817.3,1210.5 L1818.2,1211.7 L1819.1,1212.9 L1819.9,1214.2 L1820.7,1215.4 L1821.4,1216.7 L1822.2,1218.0 L1822.9,1219.4 L1823.5,1220.7 L1824.2,1222.1 L1824.8,1223.4 L1825.5,1224.8 L1826.1,1226.1 L1826.7,1227.5 L1827.3,1228.9 L1827.8,1230.3 L1828.4,1231.7 L1828.9,1233.1 L1829.4,1234.5 L1830.0,1235.9 L1830.5,1237.3 L1830.9,1238.7 L1831.4,1240.2 L1831.9,1241.6 L1832.3,1243.0 L1832.8,1244.4 L1833.2,1245.9 L1833.6,1247.3 L1834.1,1248.8 L1834.5,1250.2 L1834.9,1251.6 L1835.3,1253.1 L1835.7,1254.5 L1836.1,1256.0 L1836.4,1257.4 L1836.8,1258.9 L1837.1,1260.4 L1837.5,1261.8 L1837.8,1263.3 L1838.2,1264.7 L1838.5,1266.2 L1838.8,1267.7 L1839.2,1269.1 L1839.6,1270.6 L1839.9,1272.0 L1840.3,1273.5 L1840.7,1274.9 L1841.1,1276.4 L1841.5,1277.8 L1841.9,1279.3 L1842.3,1280.7 L1842.7,1282.2 L1843.1,1283.6 L1843.5,1285.0 L1843.9,1286.5 L1844.3,1287.9 L1844.7,1289.4 L1845.1,1290.8 L1845.6,1292.2 L1846.0,1293.7 L1846.5,1295.1 L1846.9,1296.5 L1847.4,1298.0 L1847.9,1299.4 L1848.3,1300.8 L1848.8,1302.2 L1849.3,1303.7 L1849.8,1305.1 L1850.3,1306.5 L1850.8,1307.9 L1851.3,1309.3 L1851.8,1310.7 L1852.4,1312.1 L1852.9,1313.5 L1853.5,1314.9 L1854.1,1316.3 L1854.7,1317.7 L1855.3,1319.0 L1855.9,1320.4 L1856.6,1321.7 L1857.3,1323.1 L1858.0,1324.4 L1858.7,1325.7 L1859.4,1327.0 L1860.2,1328.3 L1861.0,1329.6 L1861.8,1330.8 L1862.7,1332.0 L1863.6,1333.2 L1864.5,1334.4 L1865.5,1335.6 L1866.5,1336.7 L1867.6,1337.7 L1868.7,1338.7 L1869.8,1339.7 L1871.0,1340.6 L1872.2,1341.5 L1873.4,1342.4 L1874.7,1343.2 L1876.0,1343.9 L1877.3,1344.6 L1878.7,1345.2 L1880.1,1345.7 L1881.5,1346.1 L1883.0,1346.4 L1884.5,1346.5 L1886.0,1346.5 L1887.5,1346.4 L1889.0,1346.2 L1890.4,1346.0 L1891.9,1345.6 L1893.3,1345.2 L1894.7,1344.7 L1896.1,1344.1 L1897.5,1343.4 L1898.8,1342.7 L1900.1,1342.0 L1901.3,1341.1 L1902.5,1340.2 L1903.7,1339.3 L1904.9,1338.4 L1906.0,1337.4 L1907.1,1336.4 L1908.2,1335.3 L1909.2,1334.2 L1910.2,1333.1 L1911.2,1332.0 L1912.2,1330.8 L1913.0,1329.6 L1913.9,1328.4 L1914.7,1327.1 L1915.4,1325.8 L1916.1,1324.5 L1916.8,1323.1 L1917.4,1321.8 L1918.0,1320.4 L1918.6,1319.0 L1919.2,1317.6 L1919.7,1316.2 L1920.2,1314.8 L1920.7,1313.4 L1921.1,1312.0 L1921.6,1310.5 L1922.0,1309.1 L1922.4,1307.6 L1922.8,1306.2 L1923.2,1304.8 L1923.6,1303.3 L1923.9,1301.8 L1924.3,1300.4 L1924.7,1298.9 L1925.0,1297.5 L1925.3,1296.0 L1925.7,1294.6 L1926.0,1293.1 L1926.3,1291.6 L1926.7,1290.2 L1927.0,1288.7 L1927.3,1287.2 L1927.6,1285.8 L1927.9,1284.3 L1928.2,1282.8 L1928.5,1281.4 L1928.8,1279.9 L1929.0,1278.4 L1929.3,1276.9 L1929.6,1275.5 L1929.9,1274.0 L1930.1,1272.5 L1930.4,1271.0 L1930.6,1269.5 L1930.9,1268.1 L1931.1,1266.6 L1931.3,1265.1 L1931.5,1263.6 L1931.8,1262.1 L1932.0,1260.6 L1932.2,1259.2 L1932.4,1257.7 L1932.6,1256.2 L1932.7,1254.7 L1932.9,1253.2 L1933.1,1251.7 L1933.3,1250.2 L1933.4,1248.7 L1933.6,1247.2 L1933.8,1245.8 L1933.9,1244.3 L1934.1,1242.8 L1934.3,1241.3 L1934.4,1239.8 L1934.6,1238.3 L1934.8,1236.8 L1934.9,1235.3 L1935.1,1233.8 L1935.2,1232.3 L1935.4,1230.8 L1935.6,1229.4 L1935.7,1227.9 L1935.9,1226.4 L1936.1,1224.9 L1936.3,1223.4 L1936.4,1221.9 L1936.6,1220.4 L1936.8,1218.9 L1937.0,1217.4 L1937.1,1215.9 L1937.3,1214.5 L1937.5,1213.0 L1937.7,1211.5 L1937.9,1210.0 L1938.1,1208.5 L1938.2,1207.0 L1938.4,1205.5 L1938.6,1204.0 L1938.8,1202.5 L1939.0,1201.1 L1939.2,1199.6 L1939.3,1198.1 L1939.5,1196.6 L1939.7,1195.1 L1939.9,1193.6 L1940.1,1192.1 L1940.3,1190.6 L1940.4,1189.1 L1940.6,1187.7 L1940.8,1186.2 L1941.0,1184.7 L1941.1,1183.2 L1941.3,1181.7 L1941.5,1180.2 L1941.7,1178.7 L1941.8,1177.2 L1942.0,1175.7 L1942.2,1174.2 L1942.3,1172.8 L1942.5,1171.3 L1942.6,1169.8 L1942.8,1168.3 L1942.9,1166.8 L1943.1,1165.3 L1943.2,1163.8 L1943.4,1162.3 L1943.5,1160.8 L1943.6,1159.3 L1943.8,1157.8 L1943.9,1156.3 L1944.0,1154.8 L1944.2,1153.3 L1944.3,1151.9 L1944.5,1150.4 L1944.6,1148.9 L1944.7,1147.4 L1944.9,1145.9 L1945.0,1144.4 L1945.1,1142.9 L1945.2,1141.4 L1945.4,1139.9 L1945.5,1138.4 L1945.6,1136.9 L1945.7,1135.4 L1945.8,1133.9 L1945.9,1132.4 L1946.1,1130.9 L1946.2,1129.4 L1946.3,1127.9 L1946.5,1126.4 L1946.7,1125.0 L1946.8,1123.5 L1947.0,1122.0 L1947.2,1120.5 L1947.4,1119.0 L1947.6,1117.5 L1947.9,1116.0 L1948.2,1114.6 L1948.5,1113.1 L1948.9,1111.7 L1949.3,1110.2 L1949.7,1108.8 L1950.1,1107.3 L1950.6,1105.9 L1951.1,1104.5 L1951.6,1103.1 L1952.2,1101.7 L1952.8,1100.4 L1953.6,1099.0 L1954.4,1097.9 L1955.5,1097.2 L1956.6,1097.3 L1957.5,1098.1 L1958.3,1099.3 L1958.9,1100.7 L1959.3,1102.1 L1959.8,1103.6 L1960.2,1105.0 L1960.6,1106.5 L1960.9,1107.9 L1961.3,1109.4 L1961.6,1110.8 L1962.0,1112.3 L1962.3,1113.8 L1962.6,1115.2 L1962.9,1116.7 L1963.1,1118.2 L1963.4,1119.7 L1963.6,1121.1 L1963.9,1122.6 L1964.1,1124.1 L1964.3,1125.6 L1964.5,1127.1 L1964.8,1128.5 L1965.0,1130.0 L1965.2,1131.5 L1965.4,1133.0 L1965.6,1134.5 L1965.7,1136.0 L1965.9,1137.5 L1966.1,1139.0 L1966.3,1140.4 L1966.5,1141.9 L1966.7,1143.4 L1966.9,1144.9 L1967.0,1146.4 L1967.2,1147.9 L1967.3,1149.4 L1967.5,1150.9 L1967.6,1152.4 L1967.8,1153.9 L1967.9,1155.4 L1968.0,1156.9 L1968.2,1158.3 L1968.3,1159.8 L1968.4,1161.3 L1968.5,1162.8 L1968.6,1164.3 L1968.7,1165.8 L1968.8,1167.3 L1968.9,1168.8 L1969.0,1170.3 L1969.1,1171.8 L1969.2,1173.3 L1969.3,1174.8 L1969.4,1176.3 L1969.5,1177.8 L1969.6,1179.3 L1969.7,1180.8 L1969.8,1182.3 L1969.8,1183.8 L1969.9,1185.3 L1970.0,1186.8 L1970.1,1188.3 L1970.2,1189.8 L1970.3,1191.3 L1970.4,1192.8 L1970.4,1194.3 L1970.5,1195.8 L1970.6,1197.3 L1970.7,1198.8 L1970.8,1200.3 L1970.9,1201.8 L1971.0,1203.3 L1971.0,1204.8 L1971.1,1206.3 L1971.2,1207.8 L1971.3,1209.2 L1971.4,1210.7 L1971.5,1212.2 L1971.6,1213.7 L1971.7,1215.2 L1971.8,1216.7 L1972.0,1218.2 L1972.1,1219.7 L1972.2,1221.2 L1972.3,1222.7 L1972.4,1224.2 L1972.6,1225.7 L1972.7,1227.2 L1972.8,1228.7 L1972.9,1230.2 L1973.1,1231.7 L1973.2,1233.2 L1973.3,1234.7 L1973.5,1236.2 L1973.6,1237.7 L1973.8,1239.1 L1973.9,1240.6 L1974.0,1242.1 L1974.2,1243.6 L1974.3,1245.1 L1974.5,1246.6 L1974.6,1248.1 L1974.8,1249.6 L1974.9,1251.1 L1975.1,1252.6 L1975.2,1254.1 L1975.4,1255.6 L1975.5,1257.1 L1975.7,1258.6 L1975.9,1260.0 L1976.0,1261.5 L1976.2,1263.0 L1976.3,1264.5 L1976.5,1266.0 L1976.7,1267.5 L1976.8,1269.0 L1977.0,1270.5 L1977.2,1272.0 L1977.3,1273.5 L1977.5,1275.0 L1977.7,1276.4 L1977.9,1277.9 L1978.1,1279.4 L1978.2,1280.9 L1978.4,1282.4 L1978.6,1283.9 L1978.8,1285.4 L1979.0,1286.9 L1979.2,1288.4 L1979.4,1289.8 L1979.6,1291.3 L1979.7,1292.8 L1979.9,1294.3 L1980.1,1295.8 L1980.3,1297.3 L1980.5,1298.8 L1980.7,1300.2 L1980.9,1301.7 L1981.1,1303.2 L1981.3,1304.7 L1981.5,1306.2 L1981.8,1307.7 L1982.0,1309.2 L1982.2,1310.6 L1982.4,1312.1 L1982.6,1313.6 L1982.8,1315.1 L1983.0,1316.6 L1983.2,1318.1 L1983.4,1319.6 L1983.6,1321.0 L1983.9,1322.5 L1984.1,1324.0 L1984.3,1325.5 L1984.5,1327.0 L1984.7,1328.5 L1984.9,1330.0 L1985.1,1331.4 L1985.4,1332.9 L1985.6,1334.4 L1985.8,1335.9 L1986.0,1337.4 L1986.2,1338.9 L1986.4,1340.4 L1986.6,1341.8 L1986.8,1343.3 L1987.0,1344.8 L1987.2,1346.3 L1987.4,1347.8 L1987.6,1349.3 L1987.8,1350.7 L1988.1,1352.2 L1988.3,1353.7 L1988.5,1355.2 L1988.7,1356.7 L1989.0,1358.2 L1989.2,1359.6 L1989.4,1361.1 L1989.7,1362.6 L1990.0,1364.1 L1990.2,1365.6 L1990.5,1367.0 L1990.8,1368.5 L1991.1,1370.0 L1991.5,1371.4 L1991.8,1372.9 L1992.2,1374.3 L1992.6,1375.8 L1993.0,1377.2 L1993.5,1378.7 L1993.9,1380.1 L1994.5,1381.5 L1995.0,1382.9 L1995.6,1384.2 L1996.3,1385.6 L1997.1,1386.9 L1997.9,1388.1 L1998.9,1389.2 L2000.1,1390.1 L2001.4,1390.7 L2002.8,1390.9 L2004.2,1390.7 L2005.6,1390.2 L2006.9,1389.5 L2008.2,1388.8 L2009.4,1387.9 L2010.7,1387.1 L2011.9,1386.2 L2013.2,1385.4 L2014.4,1384.6 L2015.6,1383.7 L2016.7,1382.7 L2017.9,1381.7 L2019.0,1380.7 L2020.1,1379.7 L2021.3,1378.8 L2022.5,1377.9 L2023.8,1377.2 L2025.2,1376.8 L2026.6,1376.8 L2027.9,1377.3 L2029.1,1378.1 L2030.2,1379.2 L2031.1,1380.3 L2032.0,1381.6 L2032.8,1382.8 L2033.7,1384.0 L2034.5,1385.3 L2035.3,1386.6 L2036.1,1387.9 L2036.8,1389.2 L2037.5,1390.5 L2038.1,1391.8 L2038.8,1393.2 L2039.5,1394.5 L2040.1,1395.9 L2040.8,1397.2 L2041.5,1398.6 L2042.2,1399.9 L2042.9,1401.2 L2043.7,1402.5 L2044.5,1403.8 L2045.3,1405.0 L2046.2,1406.2 L2047.2,1407.3 L2048.2,1408.5 L2049.2,1409.6 L2050.2,1410.7 L2051.3,1411.7 L2052.4,1412.7 L2053.6,1413.6 L2054.9,1414.4 L2056.2,1415.1 L2057.6,1415.5 L2059.1,1415.8 L2060.5,1415.8 L2062.0,1415.6 L2063.4,1415.2 L2064.8,1414.6 L2066.1,1413.9 L2067.3,1413.0 L2068.5,1412.1 L2069.6,1411.0 L2070.5,1409.9 L2071.5,1408.7 L2072.3,1407.5 L2073.1,1406.2 L2073.8,1404.9 L2074.5,1403.6 L2075.2,1402.2 L2075.8,1400.9 L2076.4,1399.5 L2077.0,1398.1 L2077.6,1396.8 L2078.2,1395.4 L2078.8,1394.0 L2079.4,1392.6 L2080.0,1391.2 L2080.6,1389.9 L2081.2,1388.5 L2081.7,1387.1 L2082.3,1385.7 L2082.9,1384.3 L2083.4,1382.9 L2083.9,1381.5 L2084.4,1380.1 L2084.9,1378.7 L2085.5,1377.3 L2086.0,1375.9 L2086.5,1374.5 L2087.0,1373.0 L2087.5,1371.6 L2088.0,1370.2 L2088.5,1368.8 L2089.0,1367.4 L2089.6,1366.0 L2090.1,1364.6 L2090.7,1363.2 L2091.2,1361.8 L2091.8,1360.4 L2092.4,1359.1 L2093.1,1357.7 L2093.7,1356.4 L2094.5,1355.1 L2095.2,1353.8 L2096.0,1352.5 L2096.8,1351.2 L2097.7,1350.0 L2098.7,1348.9 L2099.7,1347.8 L2100.8,1346.8 L2102.0,1345.9 L2103.3,1345.0 L2104.6,1344.3 L2105.9,1343.7 L2107.3,1343.3 L2108.8,1343.0 L2110.3,1342.8 L2111.8,1342.7 L2113.3,1342.7 L2114.7,1342.7 L2115.8,1342.7 L2117.3,1342.6" fill="none" stroke="#0000ff" stroke-width="5.5" stroke-linejoin="round" stroke-linecap="round"/>
<path d="M50.0,1439.5 L52.9,1439.5 L54.0,1439.5 L55.2,1439.5 L56.5,1439.4 L57.7,1439.4 L59.1,1439.4 L60.5,1439.4 L62.0,1439.4 L63.5,1439.4 L65.0,1439.4 L66.5,1439.4 L68.0,1439.4 L69.5,1439.4 L71.0,1439.3 L72.5,1439.3 L74.0,1439.3 L75.5,1439.3 L77.0,1439.3 L78.5,1439.3 L80.0,1439.3 L81.5,1439.3 L83.0,1439.3 L84.5,1439.2 L86.0,1439.2 L87.5,1439.2 L89.0,1439.2 L90.5,1439.2 L92.0,1439.2 L93.5,1439.2 L95.0,1439.2 L96.5,1439.2 L98.0,1439.1 L99.5,1439.1 L101.0,1439.1 L102.5,1439.1 L104.0,1439.1 L105.5,1439.1 L107.0,1439.1 L108.5,1439.1 L110.0,1439.1 L111.5,1439.0 L113.0,1439.0 L114.5,1439.0 L116.0,1439.0 L117.5,1439.0 L119.0,1439.0 L120.5,1439.0 L122.0,1439.0 L123.5,1439.0 L125.0,1438.9 L126.5,1438.9 L128.0,1438.9 L129.5,1438.9 L131.0,1438.9 L132.5,1438.9 L134.0,1438.9 L135.5,1438.9 L137.0,1438.9 L138.5,1438.8 L140.0,1438.8 L141.5,1438.8 L143.0,1438.8 L144.5,1438.8 L146.0,1438.8 L147.5,1438.8 L149.0,1438.8 L150.5,1438.8 L152.0,1438.7 L153.5,1438.7 L155.0,1438.7 L156.5,1438.7 L158.0,1438.7 L159.5,1438.7 L161.0,1438.7 L162.5,1438.7 L164.0,1438.7 L165.5,1438.6 L167.0,1438.6 L168.5,1438.6 L170.0,1438.6 L171.5,1438.6 L173.0,1438.6 L174.5,1438.6 L176.0,1438.6 L177.5,1438.6 L179.0,1438.5 L180.5,1438.5 L182.0,1438.5 L183.5,1438.5 L185.0,1438.5 L186.5,1438.5 L188.0,1438.5 L189.5,1438.5 L191.0,1438.4 L192.5,1438.4 L194.0,1438.4 L195.5,1438.4 L197.0,1438.4 L198.5,1438.4 L200.0,1438.4 L201.5,1438.4 L203.0,1438.4 L204.5,1438.3 L206.0,1438.3 L207.5,1438.3 L209.0,1438.3 L210.5,1438.3 L212.0,1438.3 L213.5,1438.3 L215.0,1438.3 L216.5,1438.2 L218.0,1438.2 L219.5,1438.2 L221.0,1438.2 L222.5,1438.2 L224.0,1438.2 L225.5,1438.2 L227.0,1438.2 L228.5,1438.1 L230.0,1438.1 L231.5,1438.1 L233.0,1438.1 L234.5,1438.1 L236.0,1438.1 L237.5,1438.1 L239.0,1438.1 L240.5,1438.0 L242.0,1438.0 L243.5,1438.0 L245.0,1438.0 L246.5,1438.0 L248.0,1438.0 L249.5,1438.0 L251.0,1438.0 L252.5,1437.9 L254.0,1437.9 L255.5,1437.9 L257.0,1437.9 L258.5,1437.9 L260.0,1437.9 L261.5,1437.9 L263.0,1437.9 L264.5,1437.8 L266.0,1437.8 L267.5,1437.8 L269.0,1437.8 L270.5,1437.8 L272.0,1437.8 L273.5,1437.8 L275.0,1437.7 L276.5,1437.7 L278.0,1437.7 L279.5,1437.7 L281.0,1437.7 L282.5,1437.7 L284.0,1437.7 L285.5,1437.6 L287.0,1437.6 L288.5,1437.6 L290.0,1437.6 L291.5,1437.6 L293.0,1437.6 L294.5,1437.6 L296.0,1437.5 L297.5,1437.5 L299.0,1437.5 L300.5,1437.5 L302.0,1437.5 L303.5,1437.5 L305.0,1437.4 L306.5,1437.4 L308.0,1437.4 L309.5,1437.4 L311.0,1437.4 L312.5,1437.4 L314.0,1437.4 L315.5,1437.3 L317.0,1437.3 L318.5,1437.3 L320.0,1437.3 L321.5,1437.3 L323.0,1437.3 L324.5,1437.2 L326.0,1437.2 L327.5,1437.2 L329.0,1437.2 L330.5,1437.2 L332.0,1437.2 L333.5,1437.1 L335.0,1437.1 L336.5,1437.1 L338.0,1437.1 L339.5,1437.1 L341.0,1437.0 L342.5,1437.0 L344.0,1437.0 L345.5,1437.0 L347.0,1437.0 L348.5,1437.0 L350.0,1436.9 L351.5,1436.9 L353.0,1436.9 L354.5,1436.9 L356.0,1436.9 L357.5,1436.9 L359.0,1436.8 L360.5,1436.8 L362.0,1436.8 L363.5,1436.8 L365.0,1436.8 L366.5,1436.7 L368.0,1436.7 L369.5,1436.7 L371.0,1436.7 L372.5,1436.7 L374.0,1436.6 L375.5,1436.6 L377.0,1436.6 L378.5,1436.6 L380.0,1436.6 L381.5,1436.6 L383.0,1436.5 L384.5,1436.5 L386.0,1436.5 L387.5,1436.5 L389.0,1436.5 L390.5,1436.4 L392.0,1436.4 L393.5,1436.4 L395.0,1436.4 L396.5,1436.4 L398.0,1436.3 L399.5,1436.3 L401.0,1436.3 L402.5,1436.3 L404.0,1436.3 L405.5,1436.2 L407.0,1436.2 L408.5,1436.2 L410.0,1436.2 L411.5,1436.2 L413.0,1436.1 L414.5,1436.1 L416.0,1436.1 L417.5,1436.1 L419.0,1436.1 L420.5,1436.0 L422.0,1436.0 L423.5,1436.0 L425.0,1436.0 L426.5,1436.0 L428.0,1435.9 L429.5,1435.9 L431.0,1435.9 L432.5,1435.9 L434.0,1435.9 L435.5,1435.8 L437.0,1435.8 L438.5,1435.8 L440.0,1435.8 L441.5,1435.8 L443.0,1435.7 L444.5,1435.7 L446.0,1435.7 L447.5,1435.7 L449.0,1435.7 L450.5,1435.6 L452.0,1435.6 L453.5,1435.6 L455.0,1435.6 L456.5,1435.6 L458.0,1435.5 L459.5,1435.5 L461.0,1435.5 L462.5,1435.5 L464.0,1435.5 L465.5,1435.4 L467.0,1435.4 L468.5,1435.4 L470.0,1435.4 L471.5,1435.4 L473.0,1435.4 L474.5,1435.3 L476.0,1435.3 L477.5,1435.3 L479.0,1435.3 L480.5,1435.3 L482.0,1435.2 L483.5,1435.2 L485.0,1435.2 L486.5,1435.2 L488.0,1435.2 L489.5,1435.1 L491.0,1435.1 L492.5,1435.1 L494.0,1435.1 L495.5,1435.1 L497.0,1435.0 L498.5,1435.0 L500.0,1435.0 L501.5,1435.0 L503.0,1435.0 L504.5,1434.9 L506.0,1434.9 L507.5,1434.9 L509.0,1434.9 L510.5,1434.9 L512.0,1434.8 L513.5,1434.8 L515.0,1434.8 L516.5,1434.8 L518.0,1434.8 L519.5,1434.8 L521.0,1434.7 L522.5,1434.7 L524.0,1434.7 L525.5,1434.7 L527.0,1434.7 L528.5,1434.6 L530.0,1434.6 L531.5,1434.6 L533.0,1434.6 L534.5,1434.6 L536.0,1434.5 L537.5,1434.5 L539.0,1434.5 L540.5,1434.5 L542.0,1434.5 L543.5,1434.5 L545.0,1434.4 L546.5,1434.4 L548.0,1434.4 L549.5,1434.4 L551.0,1434.4 L552.5,1434.3 L554.0,1434.3 L555.5,1434.3 L557.0,1434.3 L558.5,1434.3 L560.0,1434.3 L561.5,1434.2 L563.0,1434.2 L564.5,1434.2 L566.0,1434.2 L567.5,1434.2 L569.0,1434.1 L570.5,1434.1 L572.0,1434.1 L573.5,1434.1 L575.0,1434.1 L576.5,1434.1 L578.0,1434.0 L579.5,1434.0 L581.0,1434.0 L582.5,1434.0 L584.0,1434.0 L585.5,1433.9 L587.0,1433.9 L588.5,1433.9 L590.0,1433.9 L591.5,1433.9 L593.0,1433.8 L594.5,1433.8 L596.0,1433.8 L597.5,1433.8 L599.0,1433.8 L600.5,1433.7 L602.0,1433.7 L603.5,1433.7 L605.0,1433.7 L606.5,1433.7 L608.0,1433.7 L609.5,1433.6 L611.0,1433.6 L612.5,1433.6 L614.0,1433.6 L615.5,1433.6 L617.0,1433.5 L618.5,1433.5 L620.0,1433.5 L621.5,1433.5 L623.0,1433.5 L624.5,1433.4 L626.0,1433.4 L627.5,1433.4 L629.0,1433.4 L630.5,1433.4 L632.0,1433.3 L633.5,1433.3 L635.0,1433.3 L636.5,1433.3 L638.0,1433.3 L639.5,1433.3 L641.0,1433.2 L642.5,1433.2 L644.0,1433.2 L645.5,1433.2 L647.0,1433.2 L648.5,1433.1 L650.0,1433.1 L651.5,1433.1 L653.0,1433.1 L654.5,1433.1 L656.0,1433.0 L657.5,1433.0 L659.0,1433.0 L660.5,1433.0 L662.0,1433.0 L663.5,1433.0 L665.0,1432.9 L666.5,1432.9 L668.0,1432.9 L669.5,1432.9 L671.0,1432.9 L672.5,1432.8 L674.0,1432.8 L675.5,1432.8 L677.0,1432.8 L678.5,1432.8 L680.0,1432.8 L681.5,1432.7 L683.0,1432.7 L684.5,1432.7 L686.0,1432.7 L687.5,1432.7 L689.0,1432.6 L690.5,1432.6 L692.0,1432.6 L693.5,1432.6 L695.0,1432.6 L696.5,1432.6 L698.0,1432.5 L699.5,1432.5 L701.0,1432.5 L702.5,1432.5 L704.0,1432.5 L705.5,1432.4 L707.0,1432.4 L708.5,1432.4 L710.0,1432.4 L711.5,1432.4 L713.0,1432.4 L714.5,1432.3 L716.0,1432.3 L717.5,1432.3 L719.0,1432.3 L720.5,1432.3 L722.0,1432.3 L723.5,1432.2 L725.0,1432.2 L726.5,1432.2 L728.0,1432.2 L729.5,1432.2 L731.0,1432.2 L732.5,1432.1 L734.0,1432.1 L735.5,1432.1 L737.0,1432.1 L738.5,1432.1 L740.0,1432.1 L741.5,1432.0 L743.0,1432.0 L744.5,1432.0 L746.0,1432.0 L747.5,1432.0 L749.0,1432.0 L750.5,1432.0 L752.0,1431.9 L753.5,1431.9 L755.0,1431.9 L756.5,1431.9 L758.0,1431.9 L759.5,1431.9 L761.0,1431.8 L762.5,1431.8 L764.0,1431.8 L765.5,1431.8 L767.0,1431.8 L768.5,1431.8 L770.0,1431.8 L771.5,1431.7 L773.0,1431.7 L774.5,1431.7 L776.0,1431.7 L777.5,1431.7 L779.0,1431.7 L780.5,1431.7 L782.0,1431.6 L783.5,1431.6 L785.0,1431.6 L786.5,1431.6 L788.0,1431.6 L789.5,1431.6 L791.0,1431.6 L792.5,1431.6 L794.0,1431.5 L795.5,1431.5 L797.0,1431.5 L798.5,1431.5 L800.0,1431.5 L801.5,1431.5 L803.0,1431.5 L804.5,1431.5 L806.0,1431.5 L807.5,1431.4 L809.0,1431.4 L810.5,1431.4 L812.0,1431.4 L813.5,1431.4 L815.0,1431.4 L816.5,1431.4 L818.0,1431.4 L819.5,1431.4 L821.0,1431.4 L822.5,1431.3 L824.0,1431.3 L825.5,1431.3 L827.0,1431.3 L828.5,1431.3 L830.0,1431.3 L831.5,1431.3 L833.0,1431.3 L834.5,1431.3 L836.0,1431.3 L837.5,1431.3 L839.0,1431.3 L840.5,1431.3 L842.0,1431.2 L843.5,1431.2 L845.0,1431.2 L846.5,1431.2 L848.0,1431.2 L849.5,1431.2 L851.0,1431.2 L852.5,1431.2 L854.0,1431.2 L855.5,1431.2 L857.0,1431.2 L858.5,1431.2 L860.0,1431.2 L861.5,1431.2 L863.0,1431.2 L864.5,1431.2 L866.0,1431.2 L867.5,1431.1 L869.0,1431.1 L870.5,1431.1 L872.0,1431.1 L873.5,1431.1 L875.0,1431.1 L876.5,1431.1 L878.0,1431.1 L879.5,1431.1 L881.0,1431.1 L882.5,1431.1 L884.0,1431.1 L885.5,1431.1 L887.0,1431.1 L888.5,1431.1 L890.0,1431.1 L891.5,1431.1 L893.0,1431.1 L894.5,1431.1 L896.0,1431.1 L897.5,1431.1 L899.0,1431.1 L900.5,1431.1 L902.0,1431.1 L903.5,1431.1 L905.0,1431.1 L906.5,1431.1 L908.0,1431.1 L909.5,1431.1 L911.0,1431.0 L912.5,1431.0 L914.0,1431.0 L915.5,1431.0 L917.0,1431.0 L918.5,1431.0 L920.0,1431.0 L921.5,1431.0 L923.0,1431.0 L924.5,1431.0 L926.0,1431.0 L927.5,1431.0 L929.0,1431.0 L930.5,1431.0 L932.0,1431.0 L933.5,1431.0 L935.0,1431.0 L936.5,1431.0 L938.0,1431.0 L939.5,1431.0 L941.0,1431.0 L942.5,1431.0 L944.0,1431.0 L945.5,1431.0 L947.0,1431.0 L948.5,1431.0 L950.0,1431.0 L951.5,1431.0 L953.0,1431.0 L954.5,1431.0 L956.0,1431.0 L957.5,1431.0 L959.0,1431.0 L960.5,1431.0 L962.0,1431.0 L963.5,1431.0 L965.0,1431.0 L966.5,1431.0 L968.0,1431.0 L969.5,1431.0 L971.0,1431.0 L972.5,1431.0 L974.0,1431.0 L975.5,1431.0 L977.0,1431.0 L978.5,1431.0 L980.0,1431.0 L981.5,1431.0 L983.0,1431.0 L984.5,1431.0 L986.0,1431.0 L987.5,1431.0 L989.0,1431.0 L990.5,1431.0 L992.0,1431.0 L993.5,1431.0 L995.0,1431.0 L996.5,1431.0 L998.0,1431.0 L999.5,1431.0 L1001.0,1431.0 L1002.5,1431.0 L1004.0,1431.0 L1005.5,1431.0 L1007.0,1431.0 L1008.5,1431.0 L1010.0,1431.0 L1011.5,1431.0 L1013.0,1431.0 L1014.5,1431.0 L1016.0,1431.0 L1017.5,1431.0 L1019.0,1431.0 L1020.5,1431.0 L1022.0,1431.0 L1023.5,1431.0 L1025.0,1431.0 L1026.5,1431.0 L1028.0,1431.0 L1029.5,1431.0 L1031.0,1431.0 L1032.5,1431.0 L1034.0,1431.0 L1035.5,1431.0 L1037.0,1431.0 L1038.5,1431.1 L1040.0,1431.1 L1041.5,1431.1 L1043.0,1431.1 L1044.5,1431.1 L1046.0,1431.1 L1047.5,1431.1 L1049.0,1431.1 L1050.5,1431.1 L1052.0,1431.1 L1053.5,1431.1 L1055.0,1431.1 L1056.5,1431.1 L1058.0,1431.1 L1059.5,1431.1 L1061.0,1431.2 L1062.5,1431.2 L1064.0,1431.2 L1065.5,1431.2 L1067.0,1431.2 L1068.5,1431.2 L1070.0,1431.2 L1071.5,1431.2 L1073.0,1431.2 L1074.5,1431.2 L1076.0,1431.2 L1077.5,1431.2 L1079.0,1431.2 L1080.5,1431.2 L1082.0,1431.2 L1083.5,1431.2 L1085.0,1431.2 L1086.5,1431.2 L1088.0,1431.2 L1089.5,1431.2 L1091.0,1431.2 L1092.5,1431.2 L1094.0,1431.2 L1095.5,1431.2 L1097.0,1431.2 L1098.5,1431.2 L1100.0,1431.2 L1101.5,1431.2 L1103.0,1431.2 L1104.5,1431.2 L1106.0,1431.1 L1107.5,1431.1 L1109.0,1431.1 L1110.5,1431.1 L1112.0,1431.1 L1113.5,1431.1 L1115.0,1431.0 L1116.5,1431.0 L1118.0,1431.0 L1119.5,1431.0 L1121.0,1430.9 L1122.5,1430.9 L1124.0,1430.9 L1125.5,1430.8 L1127.0,1430.8 L1128.4,1430.8 L1129.9,1430.7 L1131.4,1430.7 L1132.9,1430.6 L1134.4,1430.6 L1135.9,1430.5 L1137.4,1430.5 L1138.9,1430.4 L1140.4,1430.4 L1141.9,1430.3 L1143.4,1430.3 L1144.9,1430.2 L1146.4,1430.1 L1147.9,1430.1 L1149.4,1430.0 L1150.9,1430.0 L1152.4,1429.9 L1153.9,1429.8 L1155.4,1429.8 L1156.9,1429.7 L1158.4,1429.7 L1159.9,1429.6 L1161.4,1429.6 L1162.9,1429.5 L1164.4,1429.4 L1165.9,1429.4 L1167.4,1429.3 L1168.9,1429.2 L1170.4,1429.2 L1171.9,1429.1 L1173.4,1429.0 L1174.9,1428.9 L1176.4,1428.8 L1177.9,1428.7 L1179.4,1428.6 L1180.9,1428.6 L1182.4,1428.4 L1183.9,1428.3 L1185.4,1428.2 L1186.9,1428.1 L1188.4,1428.0 L1189.9,1427.8 L1191.4,1427.7 L1192.9,1427.6 L1194.4,1427.4 L1195.8,1427.3 L1197.3,1427.1 L1198.8,1426.9 L1200.3,1426.8 L1201.8,1426.6 L1203.3,1426.4 L1204.8,1426.2 L1206.3,1426.1 L1207.8,1425.9 L1209.2,1425.7 L1210.7,1425.5 L1212.2,1425.3 L1213.7,1425.1 L1215.2,1424.9 L1216.7,1424.7 L1218.2,1424.5 L1219.7,1424.3 L1221.1,1424.1 L1222.6,1423.8 L1224.1,1423.6 L1225.6,1423.4 L1227.1,1423.2 L1228.6,1423.0 L1230.1,1422.8 L1231.5,1422.6 L1233.0,1422.4 L1234.5,1422.2 L1236.0,1422.0 L1237.5,1421.8 L1239.0,1421.5 L1240.5,1421.3 L1241.9,1421.2 L1243.4,1421.0 L1244.9,1420.8 L1246.4,1420.6 L1247.9,1420.4 L1249.4,1420.1 L1250.8,1419.8 L1252.3,1419.4 L1253.7,1419.1 L1255.2,1418.7 L1256.6,1418.3 L1258.1,1417.9 L1259.5,1417.6 L1261.0,1417.2 L1262.4,1416.8 L1263.9,1416.4 L1265.3,1415.9 L1266.8,1415.5 L1268.2,1415.1 L1269.6,1414.6 L1271.0,1414.2 L1272.5,1413.7 L1273.9,1413.2 L1275.3,1412.7 L1276.7,1412.1 L1278.1,1411.6 L1279.5,1411.1 L1280.9,1410.5 L1282.3,1410.0 L1283.7,1409.4 L1285.0,1408.8 L1286.4,1408.2 L1287.8,1407.6 L1289.1,1406.9 L1290.5,1406.3 L1291.8,1405.6 L1293.1,1404.8 L1294.4,1404.1 L1295.7,1403.3 L1296.9,1402.5 L1298.1,1401.6 L1299.4,1400.8 L1300.6,1399.9 L1301.7,1399.0 L1302.9,1398.0 L1304.1,1397.1 L1305.2,1396.1 L1306.3,1395.1 L1307.5,1394.1 L1308.6,1393.1 L1309.7,1392.1 L1310.8,1391.1 L1311.8,1390.0 L1312.9,1389.0 L1314.0,1387.9 L1315.1,1386.9 L1316.1,1385.8 L1317.2,1384.8 L1318.2,1383.7 L1319.3,1382.6 L1320.3,1381.5 L1321.4,1380.5 L1322.4,1379.4 L1323.4,1378.3 L1324.4,1377.2 L1325.4,1376.0 L1326.4,1374.9 L1327.4,1373.8 L1328.4,1372.7 L1329.4,1371.5 L1330.4,1370.4 L1331.4,1369.3 L1332.3,1368.1 L1333.3,1367.0 L1334.3,1365.9 L1335.3,1364.7 L1336.3,1363.6 L1337.2,1362.5 L1338.2,1361.3 L1339.2,1360.2 L1340.2,1359.1 L1341.2,1357.9 L1342.2,1356.8 L1343.1,1355.7 L1344.1,1354.5 L1345.1,1353.4 L1346.1,1352.2 L1347.0,1351.1 L1348.0,1350.0 L1349.0,1348.8 L1349.9,1347.7 L1350.9,1346.5 L1351.8,1345.3 L1352.8,1344.2 L1353.7,1343.0 L1354.7,1341.9 L1355.6,1340.7 L1356.6,1339.5 L1357.5,1338.3 L1358.4,1337.2 L1359.3,1336.0 L1360.3,1334.8 L1361.2,1333.6 L1362.1,1332.4 L1363.0,1331.2 L1363.9,1330.0 L1364.8,1328.8 L1365.7,1327.6 L1366.6,1326.4 L1367.5,1325.2 L1368.3,1324.0 L1369.2,1322.8 L1370.1,1321.5 L1370.9,1320.3 L1371.8,1319.1 L1372.6,1317.8 L1373.4,1316.6 L1374.3,1315.3 L1375.1,1314.1 L1375.9,1312.8 L1376.7,1311.5 L1377.5,1310.3 L1378.3,1309.0 L1379.1,1307.7 L1379.8,1306.4 L1380.6,1305.1 L1381.4,1303.9 L1382.2,1302.6 L1382.9,1301.3 L1383.7,1300.0 L1384.5,1298.7 L1385.2,1297.4 L1386.0,1296.1 L1386.8,1294.8 L1387.5,1293.6 L1388.3,1292.3 L1389.1,1291.0 L1389.8,1289.7 L1390.6,1288.4 L1391.3,1287.1 L1392.1,1285.8 L1392.8,1284.5 L1393.5,1283.1 L1394.2,1281.8 L1394.9,1280.5 L1395.6,1279.2 L1396.3,1277.8 L1397.0,1276.5 L1397.7,1275.2 L1398.3,1273.8 L1399.0,1272.5 L1399.6,1271.1 L1400.3,1269.8 L1400.9,1268.4 L1401.5,1267.0 L1402.2,1265.7 L1402.8,1264.3 L1403.4,1262.9 L1404.0,1261.6 L1404.6,1260.2 L1405.3,1258.8 L1405.9,1257.5 L1406.5,1256.1 L1407.1,1254.7 L1407.7,1253.4 L1408.3,1252.0 L1408.9,1250.6 L1409.5,1249.2 L1410.1,1247.9 L1410.7,1246.5 L1411.3,1245.1 L1411.9,1243.7 L1412.4,1242.3 L1413.0,1241.0 L1413.6,1239.6 L1414.1,1238.2 L1414.7,1236.8 L1415.2,1235.4 L1415.7,1234.0 L1416.3,1232.6 L1416.8,1231.2 L1417.3,1229.8 L1417.8,1228.3 L1418.3,1226.9 L1418.8,1225.5 L1419.3,1224.1 L1419.8,1222.7 L1420.3,1221.3 L1420.8,1219.9 L1421.3,1218.4 L1421.8,1217.0 L1422.3,1215.6 L1422.8,1214.2 L1423.3,1212.8 L1423.7,1211.3 L1424.2,1209.9 L1424.7,1208.5 L1425.2,1207.1 L1425.7,1205.7 L1426.2,1204.3 L1426.7,1202.8 L1427.1,1201.4 L1427.6,1200.0 L1428.1,1198.6 L1428.6,1197.2 L1429.1,1195.7 L1429.6,1194.3 L1430.1,1192.9 L1430.6,1191.5 L1431.1,1190.1 L1431.6,1188.7 L1432.1,1187.3 L1432.6,1185.8 L1433.1,1184.4 L1433.6,1183.0 L1434.1,1181.6 L1434.6,1180.2 L1435.1,1178.8 L1435.6,1177.4 L1436.1,1175.9 L1436.6,1174.5 L1437.1,1173.1 L1437.6,1171.7 L1438.1,1170.3 L1438.6,1168.9 L1439.1,1167.4 L1439.6,1166.0 L1440.1,1164.6 L1440.6,1163.2 L1441.1,1161.8 L1441.5,1160.4 L1442.0,1158.9 L1442.5,1157.5 L1443.0,1156.1 L1443.4,1154.7 L1443.9,1153.2 L1444.4,1151.8 L1444.8,1150.4 L1445.3,1149.0 L1445.7,1147.5 L1446.1,1146.1 L1446.6,1144.7 L1447.0,1143.2 L1447.4,1141.8 L1447.9,1140.3 L1448.3,1138.9 L1448.7,1137.5 L1449.2,1136.0 L1449.6,1134.6 L1450.0,1133.2 L1450.4,1131.7 L1450.9,1130.3 L1451.3,1128.8 L1451.7,1127.4 L1452.1,1126.0 L1452.6,1124.5 L1453.0,1123.1 L1453.4,1121.7 L1453.8,1120.2 L1454.3,1118.8 L1454.7,1117.3 L1455.1,1115.9 L1455.5,1114.5 L1456.0,1113.0 L1456.4,1111.6 L1456.8,1110.1 L1457.3,1108.7 L1457.7,1107.3 L1458.1,1105.8 L1458.6,1104.4 L1459.0,1103.0 L1459.4,1101.5 L1459.8,1100.1 L1460.3,1098.7 L1460.7,1097.2 L1461.1,1095.8 L1461.6,1094.3 L1462.0,1092.9 L1462.5,1091.5 L1462.9,1090.0 L1463.3,1088.6 L1463.8,1087.2 L1464.2,1085.7 L1464.7,1084.3 L1465.1,1082.9 L1465.5,1081.4 L1466.0,1080.0 L1466.4,1078.6 L1466.8,1077.1 L1467.2,1075.7 L1467.6,1074.2 L1468.0,1072.8 L1468.4,1071.3 L1468.8,1069.9 L1469.2,1068.4 L1469.5,1067.0 L1469.9,1065.5 L1470.3,1064.1 L1470.7,1062.6 L1471.0,1061.2 L1471.4,1059.7 L1471.7,1058.3 L1472.1,1056.8 L1472.5,1055.3 L1472.8,1053.9 L1473.2,1052.4 L1473.6,1051.0 L1473.9,1049.5 L1474.3,1048.1 L1474.6,1046.6 L1475.0,1045.2 L1475.3,1043.7 L1475.7,1042.2 L1476.1,1040.8 L1476.4,1039.3 L1476.8,1037.9 L1477.1,1036.4 L1477.5,1035.0 L1477.9,1033.5 L1478.2,1032.0 L1478.6,1030.6 L1478.9,1029.1 L1479.3,1027.7 L1479.7,1026.2 L1480.0,1024.8 L1480.4,1023.3 L1480.7,1021.9 L1481.1,1020.4 L1481.5,1018.9 L1481.8,1017.5 L1482.2,1016.0 L1482.6,1014.6 L1482.9,1013.1 L1483.3,1011.7 L1483.6,1010.2 L1484.0,1008.8 L1484.4,1007.3 L1484.7,1005.8 L1485.1,1004.4 L1485.5,1002.9 L1485.8,1001.5 L1486.2,1000.0 L1486.5,998.6 L1486.9,997.1 L1487.3,995.7 L1487.6,994.2 L1488.0,992.7 L1488.4,991.3 L1488.7,989.8 L1489.1,988.4 L1489.4,986.9 L1489.8,985.5 L1490.2,984.0 L1490.5,982.6 L1490.9,981.1 L1491.3,979.6 L1491.6,978.2 L1492.0,976.7 L1492.4,975.3 L1492.7,973.8 L1493.1,972.4 L1493.5,970.9 L1493.8,969.5 L1494.2,968.0 L1494.6,966.6 L1494.9,965.1 L1495.3,963.6 L1495.7,962.2 L1496.0,960.7 L1496.4,959.3 L1496.8,957.8 L1497.1,956.4 L1497.5,954.9 L1497.9,953.5 L1498.2,952.0 L1498.6,950.6 L1498.9,949.1 L1499.3,947.6 L1499.7,946.2 L1500.0,944.7 L1500.4,943.3 L1500.8,941.8 L1501.1,940.4 L1501.5,938.9 L1501.9,937.5 L1502.2,936.0 L1502.6,934.5 L1502.9,933.1 L1503.3,931.6 L1503.7,930.2 L1504.0,928.7 L1504.4,927.3 L1504.8,925.8 L1505.1,924.4 L1505.5,922.9 L1505.8,921.4 L1506.2,920.0 L1506.6,918.5 L1506.9,917.1 L1507.3,915.6 L1507.7,914.2 L1508.0,912.7 L1508.4,911.3 L1508.8,909.8 L1509.1,908.3 L1509.5,906.9 L1509.8,905.4 L1510.2,904.0 L1510.6,902.5 L1510.9,901.1 L1511.3,899.6 L1511.7,898.2 L1512.0,896.7 L1512.4,895.3 L1512.8,893.8 L1513.1,892.3 L1513.5,890.9 L1513.9,889.4 L1514.2,888.0 L1514.6,886.5 L1515.0,885.1 L1515.3,883.6 L1515.7,882.2 L1516.1,880.7 L1516.4,879.2 L1516.8,877.8 L1517.2,876.3 L1517.5,874.9 L1517.9,873.4 L1518.3,872.0 L1518.6,870.5 L1519.0,869.1 L1519.3,867.6 L1519.7,866.2 L1520.1,864.7 L1520.4,863.2 L1520.8,861.8 L1521.2,860.3 L1521.5,858.9 L1521.9,857.4 L1522.3,856.0 L1522.6,854.5 L1523.0,853.1 L1523.3,851.6 L1523.7,850.1 L1524.1,848.7 L1524.4,847.2 L1524.8,845.8 L1525.2,844.3 L1525.5,842.9 L1525.9,841.4 L1526.2,840.0 L1526.6,838.5 L1527.0,837.0 L1527.3,835.6 L1527.7,834.1 L1528.1,832.7 L1528.4,831.2 L1528.8,829.8 L1529.1,828.3 L1529.5,826.9 L1529.9,825.4 L1530.2,823.9 L1530.6,822.5 L1530.9,821.0 L1531.3,819.6 L1531.7,818.1 L1532.0,816.7 L1532.4,815.2 L1532.7,813.7 L1533.1,812.3 L1533.4,810.8 L1533.8,809.4 L1534.1,807.9 L1534.5,806.5 L1534.8,805.0 L1535.2,803.5 L1535.5,802.1 L1535.9,800.6 L1536.3,799.2 L1536.6,797.7 L1537.0,796.3 L1537.3,794.8 L1537.7,793.3 L1538.1,791.9 L1538.5,790.4 L1538.8,789.0 L1539.2,787.5 L1539.6,786.1 L1540.0,784.6 L1540.4,783.2 L1540.8,781.8 L1541.2,780.3 L1541.6,778.9 L1542.0,777.4 L1542.4,776.0 L1542.9,774.5 L1543.3,773.1 L1543.7,771.7 L1544.1,770.2 L1544.6,768.8 L1545.0,767.4 L1545.4,765.9 L1545.9,764.5 L1546.3,763.0 L1546.7,761.6 L1547.2,760.2 L1547.6,758.7 L1548.1,757.3 L1548.5,755.9 L1549.0,754.4 L1549.4,753.0 L1549.9,751.6 L1550.3,750.2 L1550.7,748.7 L1551.2,747.3 L1551.6,745.9 L1552.1,744.4 L1552.5,743.0 L1553.0,741.6 L1553.4,740.1 L1553.8,738.7 L1554.3,737.3 L1554.7,735.8 L1555.2,734.4 L1555.6,733.0 L1556.0,731.5 L1556.5,730.1 L1556.9,728.7 L1557.4,727.2 L1557.8,725.8 L1558.2,724.3 L1558.6,722.9 L1559.0,721.5 L1559.5,720.0 L1559.9,718.6 L1560.3,717.1 L1560.6,715.7 L1561.0,714.2 L1561.4,712.8 L1561.8,711.3 L1562.1,709.9 L1562.5,708.4 L1562.9,707.0 L1563.2,705.5 L1563.6,704.0 L1563.9,702.6 L1564.2,701.1 L1564.5,699.6 L1564.8,698.2 L1565.2,696.7 L1565.5,695.2 L1565.8,693.8 L1566.0,692.3 L1566.3,690.8 L1566.6,689.4 L1566.9,687.9 L1567.2,686.4 L1567.5,684.9 L1567.7,683.5 L1568.0,682.0 L1568.3,680.5 L1568.6,679.0 L1568.9,677.6 L1569.1,676.1 L1569.4,674.6 L1569.7,673.2 L1570.0,671.7 L1570.3,670.2 L1570.6,668.7 L1570.9,667.3 L1571.2,665.8 L1571.5,664.3 L1571.8,662.9 L1572.1,661.4 L1572.4,659.9 L1572.7,658.4 L1573.0,657.0 L1573.3,655.5 L1573.5,654.0 L1573.8,652.6 L1574.1,651.1 L1574.4,649.6 L1574.7,648.1 L1575.0,646.7 L1575.3,645.2 L1575.6,643.7 L1575.8,642.3 L1576.1,640.8 L1576.4,639.3 L1576.7,637.8 L1577.0,636.4 L1577.3,634.9 L1577.6,633.4 L1577.9,632.0 L1578.2,630.5 L1578.5,629.0 L1578.8,627.5 L1579.1,626.1 L1579.4,624.6 L1579.7,623.1 L1580.0,621.7 L1580.3,620.2 L1580.6,618.7 L1580.8,617.2 L1581.1,615.8 L1581.4,614.3 L1581.7,612.8 L1582.0,611.4 L1582.3,609.9 L1582.6,608.4 L1582.9,607.0 L1583.2,605.5 L1583.5,604.0 L1583.8,602.5 L1584.1,601.1 L1584.4,599.6 L1584.7,598.1 L1585.0,596.7 L1585.3,595.2 L1585.6,593.7 L1585.9,592.2 L1586.2,590.8 L1586.5,589.3 L1586.8,587.8 L1587.1,586.4 L1587.4,584.9 L1587.7,583.4 L1587.9,582.0 L1588.2,580.5 L1588.5,579.0 L1588.8,577.5 L1589.1,576.1 L1589.4,574.6 L1589.7,573.1 L1590.0,571.7 L1590.3,570.2 L1590.6,568.7 L1590.9,567.2 L1591.1,565.8 L1591.4,564.3 L1591.7,562.8 L1592.0,561.3 L1592.3,559.9 L1592.6,558.4 L1592.9,556.9 L1593.1,555.5 L1593.4,554.0 L1593.7,552.5 L1594.0,551.0 L1594.3,549.6 L1594.6,548.1 L1594.9,546.6 L1595.2,545.2 L1595.5,543.7 L1595.8,542.2 L1596.1,540.8 L1596.5,539.3 L1596.8,537.8 L1597.1,536.4 L1597.5,534.9 L1597.8,533.4 L1598.1,532.0 L1598.5,530.5 L1598.8,529.1 L1599.2,527.6 L1599.6,526.2 L1599.9,524.7 L1600.3,523.3 L1600.7,521.8 L1601.2,520.4 L1601.6,518.9 L1602.1,517.5 L1602.7,516.1 L1603.3,514.8 L1604.0,513.4 L1604.7,512.1 L1605.5,510.9 L1606.4,509.7 L1607.6,508.8 L1608.8,508.4 L1610.1,508.6 L1611.3,509.3 L1612.3,510.4 L1613.1,511.6 L1613.8,512.9 L1614.5,514.3 L1615.1,515.6 L1615.7,517.0 L1616.3,518.4 L1616.8,519.8 L1617.3,521.2 L1617.8,522.6 L1618.2,524.1 L1618.7,525.5 L1619.1,526.9 L1619.5,528.4 L1619.9,529.8 L1620.3,531.3 L1620.6,532.7 L1621.0,534.2 L1621.4,535.6 L1621.8,537.1 L1622.2,538.5 L1622.6,540.0 L1623.0,541.4 L1623.5,542.8 L1624.0,544.3 L1624.4,545.7 L1625.0,547.1 L1625.6,548.5 L1626.2,549.8 L1626.8,551.2 L1627.4,552.6 L1628.1,553.9 L1628.9,555.2 L1629.7,556.4 L1630.7,557.5 L1631.8,558.4 L1633.1,558.7 L1634.4,558.3 L1635.5,557.5 L1636.5,556.4 L1637.3,555.1 L1638.0,553.8 L1638.6,552.5 L1639.2,551.1 L1639.8,549.7 L1640.3,548.3 L1640.7,546.9 L1641.2,545.4 L1641.6,544.0 L1642.0,542.5 L1642.4,541.1 L1642.8,539.6 L1643.2,538.2 L1643.5,536.7 L1643.9,535.3 L1644.2,533.8 L1644.5,532.3 L1644.8,530.9 L1645.1,529.4 L1645.4,527.9 L1645.7,526.5 L1646.0,525.0 L1646.3,523.5 L1646.6,522.0 L1646.8,520.6 L1647.1,519.1 L1647.4,517.6 L1647.6,516.1 L1647.9,514.7 L1648.1,513.2 L1648.4,511.7 L1648.6,510.2 L1648.9,508.7 L1649.1,507.3 L1649.3,505.8 L1649.6,504.3 L1649.8,502.8 L1650.0,501.3 L1650.2,499.9 L1650.5,498.4 L1650.7,496.9 L1650.9,495.4 L1651.1,493.9 L1651.3,492.4 L1651.5,490.9 L1651.7,489.5 L1651.9,488.0 L1652.1,486.5 L1652.3,485.0 L1652.5,483.5 L1652.6,482.0 L1652.8,480.5 L1653.0,479.0 L1653.2,477.5 L1653.4,476.1 L1653.5,474.6 L1653.7,473.1 L1653.9,471.6 L1654.1,470.1 L1654.2,468.6 L1654.4,467.1 L1654.6,465.6 L1654.8,464.1 L1654.9,462.6 L1655.1,461.2 L1655.3,459.7 L1655.4,458.2 L1655.6,456.7 L1655.8,455.2 L1655.9,453.7 L1656.1,452.2 L1656.3,450.7 L1656.4,449.2 L1656.6,447.7 L1656.8,446.3 L1657.0,444.8 L1657.1,443.3 L1657.3,441.8 L1657.5,440.3 L1657.6,438.8 L1657.8,437.3 L1658.0,435.8 L1658.2,434.3 L1658.3,432.8 L1658.5,431.4 L1658.7,429.9 L1658.9,428.4 L1659.1,426.9 L1659.3,425.4 L1659.5,423.9 L1659.6,422.4 L1659.8,420.9 L1660.0,419.4 L1660.2,418.0 L1660.4,416.5 L1660.6,415.0 L1660.8,413.5 L1661.0,412.0 L1661.2,410.5 L1661.3,409.0 L1661.5,407.5 L1661.7,406.1 L1661.9,404.6 L1662.1,403.1 L1662.3,401.6 L1662.5,400.1 L1662.7,398.6 L1662.9,397.1 L1663.1,395.6 L1663.3,394.2 L1663.5,392.7 L1663.7,391.2 L1663.9,389.7 L1664.1,388.2 L1664.4,386.7 L1664.6,385.3 L1664.8,383.8 L1665.0,382.3 L1665.3,380.8 L1665.5,379.3 L1665.8,377.8 L1666.0,376.4 L1666.3,374.9 L1666.6,373.4 L1666.9,371.9 L1667.1,370.5 L1667.4,369.0 L1667.7,367.5 L1668.0,366.1 L1668.3,364.6 L1668.6,363.1 L1668.9,361.7 L1669.3,360.2 L1669.6,358.7 L1670.0,357.3 L1670.4,355.9 L1670.9,354.4 L1671.5,353.1 L1672.3,352.0 L1673.4,351.4 L1674.5,351.7 L1675.5,352.6 L1676.3,353.8 L1677.0,355.1 L1677.6,356.5 L1678.1,357.9 L1678.6,359.3 L1679.1,360.8 L1679.5,362.2 L1679.9,363.7 L1680.3,365.1 L1680.6,366.6 L1681.0,368.0 L1681.3,369.5 L1681.6,371.0 L1681.9,372.4 L1682.1,373.9 L1682.4,375.4 L1682.6,376.9 L1682.8,378.4 L1683.0,379.8 L1683.2,381.3 L1683.4,382.8 L1683.6,384.3 L1683.8,385.8 L1683.9,387.3 L1684.1,388.8 L1684.3,390.3 L1684.4,391.8 L1684.6,393.3 L1684.7,394.7 L1684.9,396.2 L1685.0,397.7 L1685.1,399.2 L1685.3,400.7 L1685.4,402.2 L1685.5,403.7 L1685.7,405.2 L1685.8,406.7 L1685.9,408.2 L1686.1,409.7 L1686.2,411.2 L1686.3,412.7 L1686.5,414.2 L1686.6,415.7 L1686.7,417.2 L1686.9,418.6 L1687.0,420.1 L1687.1,421.6 L1687.3,423.1 L1687.4,424.6 L1687.5,426.1 L1687.7,427.6 L1687.8,429.1 L1687.9,430.6 L1688.0,432.1 L1688.2,433.6 L1688.3,435.1 L1688.4,436.6 L1688.5,438.1 L1688.6,439.6 L1688.8,441.1 L1688.9,442.6 L1689.0,444.1 L1689.1,445.6 L1689.2,447.0 L1689.3,448.5 L1689.4,450.0 L1689.6,451.5 L1689.7,453.0 L1689.8,454.5 L1689.9,456.0 L1690.0,457.5 L1690.1,459.0 L1690.2,460.5 L1690.3,462.0 L1690.5,463.5 L1690.6,465.0 L1690.7,466.5 L1690.8,468.0 L1690.9,469.5 L1691.0,471.0 L1691.1,472.5 L1691.2,474.0 L1691.4,475.5 L1691.5,477.0 L1691.6,478.5 L1691.7,480.0 L1691.8,481.4 L1692.0,482.9 L1692.1,484.4 L1692.2,485.9 L1692.3,487.4 L1692.5,488.9 L1692.6,490.4 L1692.7,491.9 L1692.9,493.4 L1693.0,494.9 L1693.2,496.4 L1693.3,497.9 L1693.5,499.4 L1693.6,500.9 L1693.8,502.4 L1693.9,503.9 L1694.1,505.3 L1694.3,506.8 L1694.4,508.3 L1694.6,509.8 L1694.8,511.3 L1694.9,512.8 L1695.1,514.3 L1695.3,515.8 L1695.4,517.3 L1695.6,518.8 L1695.8,520.2 L1696.0,521.7 L1696.1,523.2 L1696.3,524.7 L1696.5,526.2 L1696.7,527.7 L1696.9,529.2 L1697.0,530.7 L1697.2,532.2 L1697.4,533.6 L1697.6,535.1 L1697.8,536.6 L1698.0,538.1 L1698.2,539.6 L1698.4,541.1 L1698.6,542.6 L1698.7,544.1 L1698.9,545.6 L1699.1,547.0 L1699.3,548.5 L1699.5,550.0 L1699.7,551.5 L1699.9,553.0 L1700.1,554.5 L1700.3,556.0 L1700.5,557.4 L1700.7,558.9 L1700.9,560.4 L1701.1,561.9 L1701.4,563.4 L1701.7,564.8 L1702.2,566.3 L1702.6,567.7 L1702.9,569.2 L1703.3,570.6 L1703.8,572.0 L1704.3,573.3 L1705.0,574.1 L1705.8,573.9 L1706.5,572.8 L1707.1,571.5 L1707.5,570.1 L1708.0,568.6 L1708.4,567.2 L1708.9,565.8 L1709.2,564.3 L1709.6,562.9 L1710.0,561.4 L1710.3,559.9 L1710.7,558.5 L1711.0,557.0 L1711.4,555.6 L1711.8,554.1 L1712.1,552.7 L1712.5,551.2 L1712.8,549.7 L1713.2,548.3 L1713.6,546.8 L1714.0,545.4 L1714.4,544.0 L1714.7,542.5 L1715.0,541.0 L1715.2,539.5 L1715.3,538.1 L1715.4,536.6 L1715.6,535.1 L1715.7,533.6 L1715.8,532.1 L1715.9,530.6 L1716.0,529.1 L1716.0,527.6 L1716.1,526.1 L1716.2,524.6 L1716.3,523.1 L1716.4,521.6 L1716.4,520.1 L1716.5,518.6 L1716.6,517.1 L1716.7,515.6 L1716.7,514.1 L1716.8,512.6 L1716.9,511.1 L1716.9,509.6 L1717.0,508.1 L1717.1,506.6 L1717.1,505.1 L1717.2,503.6 L1717.2,502.1 L1717.3,500.6 L1717.4,499.1 L1717.4,497.6 L1717.5,496.1 L1717.5,494.6 L1717.6,493.1 L1717.6,491.6 L1717.7,490.1 L1717.7,488.6 L1717.8,487.1 L1717.8,485.6 L1717.9,484.1 L1717.9,482.6 L1718.0,481.1 L1718.0,479.6 L1718.1,478.1 L1718.1,476.6 L1718.1,475.1 L1718.2,473.6 L1718.2,472.1 L1718.2,470.6 L1718.2,469.1 L1718.3,467.6 L1718.3,466.1 L1718.3,464.6 L1718.4,463.1 L1718.4,461.6 L1718.4,460.1 L1718.4,458.6 L1718.5,457.1 L1718.5,455.6 L1718.5,454.1 L1718.5,452.6 L1718.6,451.1 L1718.6,449.6 L1718.6,448.1 L1718.7,446.6 L1718.7,445.1 L1718.7,443.6 L1718.8,442.1 L1718.8,440.6 L1718.8,439.1 L1718.9,437.6 L1718.9,436.1 L1719.0,434.6 L1719.0,433.1 L1719.1,431.6 L1719.1,430.1 L1719.1,428.6 L1719.2,427.1 L1719.2,425.6 L1719.3,424.1 L1719.4,422.6 L1719.4,421.1 L1719.5,419.6 L1719.5,418.1 L1719.6,416.6 L1719.7,415.1 L1719.7,413.6 L1719.8,412.1 L1719.9,410.6 L1719.9,409.2 L1720.0,407.7 L1720.1,406.2 L1720.2,404.7 L1720.2,403.2 L1720.3,401.7 L1720.4,400.2 L1720.5,398.7 L1720.6,397.2 L1720.6,395.7 L1720.7,394.2 L1720.8,392.7 L1720.9,391.2 L1721.0,389.7 L1721.0,388.2 L1721.1,386.7 L1721.2,385.2 L1721.3,383.7 L1721.4,382.2 L1721.5,380.7 L1721.6,379.2 L1721.6,377.7 L1721.7,376.2 L1721.8,374.7 L1721.9,373.2 L1722.0,371.7 L1722.1,370.2 L1722.2,368.7 L1722.2,367.2 L1722.3,365.7 L1722.4,364.2 L1722.5,362.7 L1722.6,361.2 L1722.7,359.7 L1722.7,358.2 L1722.8,356.7 L1722.9,355.2 L1723.0,353.7 L1723.1,352.2 L1723.2,350.7 L1723.2,349.2 L1723.3,347.7 L1723.4,346.2 L1723.5,344.7 L1723.6,343.3 L1723.6,341.8 L1723.7,340.3 L1723.8,338.8 L1723.9,337.3 L1724.0,335.8 L1724.0,334.3 L1724.1,332.8 L1724.2,331.3 L1724.3,329.8 L1724.3,328.3 L1724.4,326.8 L1724.5,325.3 L1724.5,323.8 L1724.6,322.3 L1724.7,320.8 L1724.7,319.3 L1724.8,317.8 L1724.9,316.3 L1724.9,314.8 L1725.0,313.3 L1725.1,311.8 L1725.1,310.3 L1725.2,308.8 L1725.3,307.3 L1725.3,305.8 L1725.4,304.3 L1725.5,302.8 L1725.5,301.3 L1725.6,299.8 L1725.7,298.3 L1725.7,296.8 L1725.8,295.3 L1725.8,293.8 L1725.9,292.3 L1726.0,290.8 L1726.0,289.3 L1726.1,287.8 L1726.1,286.3 L1726.2,284.8 L1726.3,283.3 L1726.3,281.8 L1726.4,280.3 L1726.5,278.8 L1726.5,277.3 L1726.6,275.8 L1726.6,274.3 L1726.7,272.8 L1726.8,271.3 L1726.8,269.8 L1726.9,268.3 L1726.9,266.8 L1727.0,265.3 L1727.1,263.8 L1727.1,262.3 L1727.2,260.8 L1727.2,259.3 L1727.3,257.8 L1727.4,256.3 L1727.4,254.8 L1727.5,253.3 L1727.6,251.8 L1727.6,250.3 L1727.7,248.8 L1727.7,247.3 L1727.8,245.8 L1727.9,244.3 L1727.9,242.8 L1728.0,241.3 L1728.1,239.8 L1728.1,238.4 L1728.2,236.9 L1728.2,235.4 L1728.3,233.9 L1728.4,232.4 L1728.4,230.9 L1728.5,229.4 L1728.6,227.9 L1728.6,226.4 L1728.7,224.9 L1728.8,223.4 L1728.9,221.9 L1728.9,220.4 L1729.0,218.9 L1729.1,217.4 L1729.1,215.9 L1729.2,214.4 L1729.3,212.9 L1729.4,211.4 L1729.4,209.9 L1729.5,208.4 L1729.6,206.9 L1729.7,205.4 L1729.7,203.9 L1729.8,202.4 L1729.9,200.9 L1730.0,199.4 L1730.1,197.9 L1730.2,196.4 L1730.3,194.9 L1730.3,193.4 L1730.4,191.9 L1730.5,190.4 L1730.6,188.9 L1730.7,187.4 L1730.8,185.9 L1730.9,184.4 L1731.0,182.9 L1731.1,181.4 L1731.2,179.9 L1731.3,178.4 L1731.4,176.9 L1731.5,175.4 L1731.6,173.9 L1731.7,172.5 L1731.8,171.0 L1731.9,169.5 L1732.0,168.0 L1732.1,166.5 L1732.3,165.0 L1732.4,163.5 L1732.5,162.0 L1732.6,160.5 L1732.7,159.0 L1732.8,157.5 L1733.0,156.0 L1733.1,154.5 L1733.2,153.0 L1733.4,151.5 L1733.5,150.0 L1733.6,148.5 L1733.8,147.0 L1733.9,145.5 L1734.0,144.0 L1734.2,142.6 L1734.3,141.1 L1734.5,139.6 L1734.6,138.1 L1734.8,136.6 L1734.9,135.1 L1735.1,133.6 L1735.3,132.1 L1735.4,130.6 L1735.6,129.1 L1735.8,127.6 L1736.0,126.2 L1736.2,124.7 L1736.4,123.2 L1736.6,121.7 L1736.8,120.2 L1737.1,118.7 L1737.4,117.3 L1737.8,115.8 L1738.2,114.4 L1738.8,113.1 L1739.7,112.1 L1740.8,111.8 L1741.9,112.3 L1742.8,113.4 L1743.3,114.7 L1743.7,116.2 L1744.0,117.6 L1744.3,119.1 L1744.6,120.6 L1744.8,122.1 L1745.0,123.5 L1745.2,125.0 L1745.4,126.5 L1745.6,128.0 L1745.7,129.5 L1745.9,131.0 L1746.0,132.5 L1746.2,134.0 L1746.3,135.5 L1746.5,137.0 L1746.6,138.4 L1746.8,139.9 L1746.9,141.4 L1747.0,142.9 L1747.2,144.4 L1747.3,145.9 L1747.4,147.4 L1747.6,148.9 L1747.7,150.4 L1747.8,151.9 L1747.9,153.4 L1748.0,154.9 L1748.2,156.4 L1748.3,157.9 L1748.4,159.4 L1748.5,160.9 L1748.6,162.4 L1748.7,163.9 L1748.9,165.4 L1749.0,166.9 L1749.1,168.3 L1749.2,169.8 L1749.3,171.3 L1749.4,172.8 L1749.5,174.3 L1749.6,175.8 L1749.7,177.3 L1749.8,178.8 L1749.9,180.3 L1750.0,181.8 L1750.1,183.3 L1750.2,184.8 L1750.3,186.3 L1750.4,187.8 L1750.5,189.3 L1750.6,190.8 L1750.7,192.3 L1750.8,193.8 L1750.9,195.3 L1751.0,196.8 L1751.1,198.3 L1751.2,199.8 L1751.3,201.3 L1751.4,202.8 L1751.5,204.3 L1751.6,205.8 L1751.7,207.3 L1751.7,208.8 L1751.8,210.3 L1751.9,211.8 L1752.0,213.3 L1752.1,214.8 L1752.2,216.2 L1752.2,217.7 L1752.3,219.2 L1752.4,220.7 L1752.5,222.2 L1752.6,223.7 L1752.6,225.2 L1752.7,226.7 L1752.8,228.2 L1752.8,229.7 L1752.9,231.2 L1753.0,232.7 L1753.1,234.2 L1753.1,235.7 L1753.2,237.2 L1753.3,238.7 L1753.3,240.2 L1753.4,241.7 L1753.5,243.2 L1753.5,244.7 L1753.6,246.2 L1753.6,247.7 L1753.7,249.2 L1753.8,250.7 L1753.8,252.2 L1753.9,253.7 L1754.0,255.2 L1754.0,256.7 L1754.1,258.2 L1754.1,259.7 L1754.2,261.2 L1754.3,262.7 L1754.3,264.2 L1754.4,265.7 L1754.4,267.2 L1754.5,268.7 L1754.6,270.2 L1754.6,271.7 L1754.7,273.2 L1754.7,274.7 L1754.8,276.2 L1754.8,277.7 L1754.9,279.2 L1755.0,280.7 L1755.0,282.2 L1755.1,283.7 L1755.1,285.2 L1755.2,286.7 L1755.2,288.2 L1755.3,289.7 L1755.4,291.2 L1755.4,292.7 L1755.5,294.2 L1755.5,295.7 L1755.6,297.2 L1755.6,298.7 L1755.7,300.2 L1755.8,301.7 L1755.8,303.2 L1755.9,304.7 L1755.9,306.2 L1756.0,307.7 L1756.1,309.2 L1756.1,310.7 L1756.2,312.2 L1756.2,313.7 L1756.3,315.2 L1756.4,316.7 L1756.4,318.2 L1756.5,319.7 L1756.6,321.2 L1756.6,322.7 L1756.7,324.2 L1756.8,325.7 L1756.8,327.2 L1756.9,328.6 L1757.0,330.1 L1757.0,331.6 L1757.1,333.1 L1757.2,334.6 L1757.2,336.1 L1757.3,337.6 L1757.4,339.1 L1757.4,340.6 L1757.5,342.1 L1757.5,343.6 L1757.6,345.1 L1757.7,346.6 L1757.8,348.1 L1757.8,349.6 L1757.9,351.1 L1758.0,352.6 L1758.0,354.1 L1758.1,355.6 L1758.2,357.1 L1758.2,358.6 L1758.3,360.1 L1758.4,361.6 L1758.4,363.1 L1758.5,364.6 L1758.6,366.1 L1758.6,367.6 L1758.7,369.1 L1758.8,370.6 L1758.8,372.1 L1758.9,373.6 L1759.0,375.1 L1759.0,376.6 L1759.1,378.1 L1759.2,379.6 L1759.2,381.1 L1759.3,382.6 L1759.4,384.1 L1759.4,385.6 L1759.5,387.1 L1759.6,388.6 L1759.6,390.1 L1759.7,391.6 L1759.8,393.1 L1759.9,394.6 L1759.9,396.1 L1760.0,397.6 L1760.1,399.1 L1760.1,400.6 L1760.2,402.1 L1760.3,403.6 L1760.3,405.1 L1760.4,406.6 L1760.5,408.1 L1760.5,409.6 L1760.6,411.1 L1760.7,412.6 L1760.8,414.1 L1760.8,415.6 L1760.9,417.1 L1761.0,418.6 L1761.0,420.1 L1761.1,421.6 L1761.2,423.1 L1761.3,424.5 L1761.3,426.0 L1761.4,427.5 L1761.5,429.0 L1761.5,430.5 L1761.6,432.0 L1761.7,433.5 L1761.8,435.0 L1761.8,436.5 L1761.9,438.0 L1762.0,439.5 L1762.1,441.0 L1762.1,442.5 L1762.2,444.0 L1762.3,445.5 L1762.3,447.0 L1762.4,448.5 L1762.5,450.0 L1762.6,451.5 L1762.6,453.0 L1762.7,454.5 L1762.8,456.0 L1762.9,457.5 L1763.0,459.0 L1763.0,460.5 L1763.1,462.0 L1763.2,463.5 L1763.3,465.0 L1763.3,466.5 L1763.4,468.0 L1763.5,469.5 L1763.6,471.0 L1763.7,472.5 L1763.7,474.0 L1763.8,475.5 L1763.9,477.0 L1764.0,478.5 L1764.0,480.0 L1764.1,481.5 L1764.2,483.0 L1764.3,484.5 L1764.4,486.0 L1764.5,487.5 L1764.5,489.0 L1764.6,490.5 L1764.7,492.0 L1764.8,493.5 L1764.9,495.0 L1765.0,496.5 L1765.0,498.0 L1765.1,499.4 L1765.2,500.9 L1765.3,502.4 L1765.4,503.9 L1765.5,505.4 L1765.5,506.9 L1765.6,508.4 L1765.7,509.9 L1765.8,511.4 L1765.9,512.9 L1766.0,514.4 L1766.1,515.9 L1766.2,517.4 L1766.2,518.9 L1766.3,520.4 L1766.4,521.9 L1766.5,523.4 L1766.6,524.9 L1766.7,526.4 L1766.8,527.9 L1766.9,529.4 L1766.9,530.9 L1767.0,532.4 L1767.1,533.9 L1767.2,535.4 L1767.3,536.9 L1767.4,538.4 L1767.5,539.9 L1767.6,541.4 L1767.7,542.9 L1767.8,544.4 L1767.9,545.9 L1767.9,547.4 L1768.0,548.9 L1768.1,550.4 L1768.2,551.9 L1768.3,553.4 L1768.4,554.9 L1768.5,556.3 L1768.6,557.8 L1768.7,559.3 L1768.8,560.8 L1768.9,562.3 L1769.0,563.8 L1769.1,565.3 L1769.2,566.8 L1769.3,568.3 L1769.4,569.8 L1769.5,571.3 L1769.5,572.8 L1769.6,574.3 L1769.7,575.8 L1769.8,577.3 L1769.9,578.8 L1770.0,580.3 L1770.1,581.8 L1770.2,583.3 L1770.3,584.8 L1770.4,586.3 L1770.5,587.8 L1770.6,589.3 L1770.7,590.8 L1770.8,592.3 L1770.9,593.8 L1771.0,595.3 L1771.1,596.8 L1771.2,598.3 L1771.3,599.8 L1771.4,601.3 L1771.5,602.8 L1771.6,604.3 L1771.7,605.7 L1771.8,607.2 L1771.9,608.7 L1772.0,610.2 L1772.1,611.7 L1772.2,613.2 L1772.3,614.7 L1772.4,616.2 L1772.5,617.7 L1772.6,619.2 L1772.7,620.7 L1772.8,622.2 L1772.9,623.7 L1773.0,625.2 L1773.1,626.7 L1773.2,628.2 L1773.3,629.7 L1773.4,631.2 L1773.5,632.7 L1773.6,634.2 L1773.7,635.7 L1773.8,637.2 L1773.9,638.7 L1774.0,640.2 L1774.1,641.7 L1774.2,643.2 L1774.3,644.7 L1774.4,646.2 L1774.5,647.7 L1774.6,649.1 L1774.7,650.6 L1774.8,652.1 L1774.9,653.6 L1775.0,655.1 L1775.1,656.6 L1775.2,658.1 L1775.3,659.6 L1775.4,661.1 L1775.5,662.6 L1775.6,664.1 L1775.7,665.6 L1775.8,667.1 L1775.9,668.6 L1776.0,670.1 L1776.1,671.6 L1776.2,673.1 L1776.3,674.6 L1776.4,676.1 L1776.5,677.6 L1776.6,679.1 L1776.7,680.6 L1776.8,682.1 L1776.9,683.6 L1777.0,685.1 L1777.1,686.6 L1777.1,688.1 L1777.2,689.6 L1777.3,691.1 L1777.4,692.6 L1777.5,694.1 L1777.6,695.6 L1777.6,697.1 L1777.7,698.5 L1777.8,700.0 L1777.9,701.5 L1778.0,703.0 L1778.0,704.5 L1778.1,706.0 L1778.2,707.5 L1778.3,709.0 L1778.4,710.5 L1778.4,712.0 L1778.5,713.5 L1778.6,715.0 L1778.7,716.5 L1778.8,718.0 L1778.9,719.5 L1778.9,721.0 L1779.0,722.5 L1779.1,724.0 L1779.2,725.5 L1779.3,727.0 L1779.4,728.5 L1779.5,730.0 L1779.6,731.5 L1779.8,733.0 L1779.9,734.5 L1780.0,736.0 L1780.1,737.5 L1780.2,739.0 L1780.4,740.5 L1780.5,742.0 L1780.7,743.5 L1780.8,744.9 L1780.9,746.4 L1781.1,747.9 L1781.2,749.4 L1781.4,750.9 L1781.6,752.4 L1781.7,753.9 L1781.9,755.4 L1782.0,756.9 L1782.2,758.4 L1782.4,759.9 L1782.6,761.3 L1782.7,762.8 L1782.9,764.3 L1783.1,765.8 L1783.3,767.3 L1783.5,768.8 L1783.7,770.3 L1783.9,771.8 L1784.1,773.3 L1784.3,774.7 L1784.5,776.2 L1784.7,777.7 L1784.9,779.2 L1785.1,780.7 L1785.3,782.2 L1785.5,783.7 L1785.7,785.1 L1786.0,786.6 L1786.2,788.1 L1786.4,789.6 L1786.7,791.1 L1786.9,792.5 L1787.2,794.0 L1787.4,795.5 L1787.7,797.0 L1787.9,798.5 L1788.2,799.9 L1788.5,801.4 L1788.7,802.9 L1789.0,804.4 L1789.3,805.8 L1789.6,807.3 L1789.9,808.8 L1790.2,810.2 L1790.5,811.7 L1790.8,813.2 L1791.1,814.7 L1791.4,816.1 L1791.7,817.6 L1792.0,819.0 L1792.4,820.5 L1792.7,822.0 L1793.0,823.4 L1793.4,824.9 L1793.7,826.4 L1794.1,827.8 L1794.5,829.3 L1794.8,830.7 L1795.2,832.2 L1795.5,833.6 L1795.9,835.1 L1796.2,836.6 L1796.6,838.0 L1797.0,839.5 L1797.3,840.9 L1797.7,842.4 L1798.1,843.8 L1798.5,845.3 L1798.9,846.7 L1799.4,848.1 L1799.9,849.6 L1800.4,851.0 L1801.0,852.3 L1801.6,853.6 L1802.5,854.7 L1803.6,855.2 L1804.7,854.8 L1805.6,853.8 L1806.4,852.5 L1807.0,851.2 L1807.6,849.8 L1808.2,848.4 L1808.8,847.0 L1809.3,845.6 L1809.9,844.2 L1810.4,842.8 L1811.1,841.5 L1811.8,840.2 L1812.5,838.9 L1813.3,837.6 L1814.1,836.3 L1814.8,835.0 L1815.6,833.7 L1816.4,832.5 L1817.4,831.3 L1818.5,830.5 L1819.7,830.3 L1820.9,830.7 L1821.9,831.7 L1822.8,832.9 L1823.5,834.3 L1824.1,835.6 L1824.7,837.0 L1825.2,838.4 L1825.7,839.8 L1826.2,841.2 L1826.6,842.7 L1827.0,844.1 L1827.4,845.6 L1827.7,847.0 L1828.1,848.5 L1828.4,850.0 L1828.6,851.4 L1828.9,852.9 L1829.2,854.4 L1829.4,855.9 L1829.7,857.4 L1829.9,858.8 L1830.1,860.3 L1830.4,861.8 L1830.6,863.3 L1830.8,864.8 L1831.0,866.2 L1831.2,867.7 L1831.5,869.2 L1831.7,870.7 L1831.9,872.2 L1832.1,873.7 L1832.4,875.1 L1832.6,876.6 L1832.8,878.1 L1833.0,879.6 L1833.2,881.1 L1833.4,882.6 L1833.6,884.1 L1833.8,885.5 L1834.0,887.0 L1834.2,888.5 L1834.4,890.0 L1834.6,891.5 L1834.8,893.0 L1835.0,894.5 L1835.1,896.0 L1835.3,897.5 L1835.5,898.9 L1835.7,900.4 L1835.8,901.9 L1836.0,903.4 L1836.1,904.9 L1836.3,906.4 L1836.4,907.9 L1836.6,909.4 L1836.7,910.9 L1836.9,912.4 L1837.0,913.9 L1837.2,915.4 L1837.3,916.8 L1837.4,918.3 L1837.6,919.8 L1837.7,921.3 L1837.9,922.8 L1838.0,924.3 L1838.1,925.8 L1838.3,927.3 L1838.4,928.8 L1838.5,930.3 L1838.7,931.8 L1838.8,933.3 L1838.9,934.8 L1839.1,936.3 L1839.2,937.8 L1839.3,939.3 L1839.4,940.8 L1839.6,942.2 L1839.7,943.7 L1839.8,945.2 L1839.9,946.7 L1840.0,948.2 L1840.2,949.7 L1840.3,951.2 L1840.4,952.7 L1840.5,954.2 L1840.6,955.7 L1840.7,957.2 L1840.9,958.7 L1841.0,960.2 L1841.1,961.7 L1841.2,963.2 L1841.3,964.7 L1841.4,966.2 L1841.6,967.7 L1841.7,969.2 L1841.8,970.7 L1841.9,972.2 L1842.0,973.7 L1842.1,975.1 L1842.3,976.6 L1842.4,978.1 L1842.5,979.6 L1842.6,981.1 L1842.7,982.6 L1842.9,984.1 L1843.0,985.6 L1843.1,987.1 L1843.2,988.6 L1843.4,990.1 L1843.5,991.6 L1843.6,993.1 L1843.8,994.6 L1843.9,996.1 L1844.0,997.6 L1844.2,999.1 L1844.3,1000.6 L1844.5,1002.0 L1844.7,1003.5 L1844.8,1005.0 L1845.0,1006.5 L1845.1,1008.0 L1845.3,1009.5 L1845.4,1011.0 L1845.6,1012.5 L1845.7,1014.0 L1845.9,1015.5 L1846.0,1017.0 L1846.1,1018.5 L1846.3,1020.0 L1846.4,1021.4 L1846.5,1022.9 L1846.6,1024.4 L1846.8,1025.9 L1846.9,1027.4 L1847.0,1028.9 L1847.1,1030.4 L1847.2,1031.9 L1847.3,1033.4 L1847.3,1034.9 L1847.4,1036.4 L1847.5,1037.9 L1847.6,1039.4 L1847.7,1040.9 L1847.8,1042.4 L1847.9,1043.9 L1848.0,1045.4 L1848.1,1046.9 L1848.2,1048.4 L1848.3,1049.9 L1848.4,1051.4 L1848.5,1052.9 L1848.6,1054.4 L1848.7,1055.9 L1848.8,1057.4 L1848.9,1058.9 L1849.0,1060.4 L1849.1,1061.9 L1849.3,1063.4 L1849.4,1064.8 L1849.5,1066.3 L1849.6,1067.8 L1849.7,1069.3 L1849.8,1070.8 L1849.9,1072.3 L1850.0,1073.8 L1850.1,1075.3 L1850.2,1076.8 L1850.4,1078.3 L1850.5,1079.8 L1850.6,1081.3 L1850.7,1082.8 L1850.8,1084.3 L1850.9,1085.8 L1851.0,1087.3 L1851.1,1088.8 L1851.3,1090.3 L1851.4,1091.8 L1851.5,1093.3 L1851.6,1094.8 L1851.7,1096.3 L1851.9,1097.8 L1852.0,1099.2 L1852.1,1100.7 L1852.2,1102.2 L1852.4,1103.7 L1852.5,1105.2 L1852.7,1106.7 L1852.8,1108.2 L1852.9,1109.7 L1853.1,1111.2 L1853.2,1112.7 L1853.4,1114.2 L1853.6,1115.7 L1853.7,1117.2 L1853.9,1118.7 L1854.1,1120.1 L1854.3,1121.6 L1854.4,1123.1 L1854.6,1124.6 L1854.9,1126.1 L1855.1,1127.6 L1855.3,1129.1 L1855.5,1130.5 L1855.7,1132.0 L1856.0,1133.5 L1856.2,1135.0 L1856.5,1136.5 L1856.7,1137.9 L1857.0,1139.4 L1857.2,1140.9 L1857.5,1142.4 L1857.8,1143.9 L1858.0,1145.3 L1858.3,1146.8 L1858.6,1148.3 L1858.8,1149.8 L1859.1,1151.2 L1859.4,1152.7 L1859.6,1154.2 L1859.9,1155.7 L1860.2,1157.1 L1860.5,1158.6 L1860.7,1160.1 L1861.0,1161.6 L1861.2,1163.0 L1861.5,1164.5 L1861.7,1166.0 L1861.9,1167.5 L1862.2,1169.0 L1862.4,1170.5 L1862.6,1171.9 L1862.8,1173.4 L1863.0,1174.9 L1863.3,1176.4 L1863.5,1177.9 L1863.7,1179.4 L1863.9,1180.8 L1864.1,1182.3 L1864.3,1183.8 L1864.5,1185.3 L1864.7,1186.8 L1864.9,1188.3 L1865.1,1189.8 L1865.3,1191.2 L1865.6,1192.7 L1865.8,1194.2 L1866.1,1195.7 L1866.4,1197.2 L1866.7,1198.6 L1867.1,1200.1 L1867.5,1201.5 L1868.0,1202.9 L1868.6,1204.3 L1869.3,1205.6 L1869.9,1207.0 L1870.6,1208.3 L1871.2,1209.7 L1871.8,1211.0 L1872.5,1212.4 L1873.3,1213.7 L1874.2,1214.8 L1875.4,1215.5 L1876.7,1215.6 L1878.0,1215.1 L1879.2,1214.3 L1880.3,1213.2 L1881.3,1212.1 L1882.2,1210.9 L1883.1,1209.7 L1883.9,1208.5 L1884.7,1207.2 L1885.4,1205.9 L1886.1,1204.6 L1886.8,1203.2 L1887.4,1201.8 L1888.0,1200.5 L1888.5,1199.1 L1889.1,1197.7 L1889.7,1196.3 L1890.2,1194.9 L1890.8,1193.5 L1891.4,1192.1 L1892.0,1190.8 L1892.6,1189.4 L1893.2,1188.0 L1893.9,1186.7 L1894.6,1185.4 L1895.4,1184.1 L1896.3,1182.9 L1897.2,1181.7 L1898.2,1180.6 L1899.3,1179.6 L1900.5,1178.6 L1901.7,1177.7 L1902.9,1176.9 L1904.1,1176.0 L1905.3,1175.1 L1906.6,1174.3 L1907.8,1173.4 L1909.0,1172.5 L1910.2,1171.6 L1911.4,1170.7 L1912.6,1169.8 L1913.8,1169.0 L1915.1,1168.1 L1916.3,1167.2 L1917.4,1166.3 L1918.6,1165.3 L1919.7,1164.3 L1920.7,1163.2 L1921.7,1162.1 L1922.7,1161.0 L1923.6,1159.8 L1924.5,1158.6 L1925.2,1157.2 L1925.8,1155.9 L1926.3,1154.5 L1926.7,1153.0 L1927.2,1151.6 L1927.5,1150.1 L1927.9,1148.7 L1928.2,1147.2 L1928.6,1145.8 L1928.9,1144.3 L1929.2,1142.8 L1929.4,1141.4 L1929.7,1139.9 L1930.0,1138.4 L1930.2,1136.9 L1930.5,1135.4 L1930.7,1134.0 L1931.0,1132.5 L1931.2,1131.0 L1931.5,1129.5 L1931.7,1128.0 L1932.0,1126.6 L1932.2,1125.1 L1932.4,1123.6 L1932.7,1122.1 L1932.9,1120.6 L1933.2,1119.2 L1933.4,1117.7 L1933.6,1116.2 L1933.9,1114.7 L1934.1,1113.2 L1934.4,1111.8 L1934.6,1110.3 L1934.9,1108.8 L1935.1,1107.3 L1935.4,1105.9 L1935.7,1104.4 L1935.9,1102.9 L1936.2,1101.4 L1936.5,1100.0 L1936.8,1098.5 L1937.1,1097.0 L1937.4,1095.5 L1937.7,1094.1 L1937.9,1092.6 L1938.2,1091.1 L1938.5,1089.7 L1938.8,1088.2 L1939.1,1086.7 L1939.4,1085.2 L1939.7,1083.8 L1940.0,1082.3 L1940.4,1080.8 L1940.7,1079.4 L1941.0,1077.9 L1941.3,1076.4 L1941.6,1075.0 L1941.9,1073.5 L1942.2,1072.0 L1942.5,1070.6 L1942.7,1069.1 L1943.0,1067.6 L1943.3,1066.1 L1943.6,1064.7 L1943.8,1063.2 L1944.1,1061.7 L1944.4,1060.2 L1944.7,1058.8 L1945.0,1057.3 L1945.4,1055.8 L1945.7,1054.4 L1946.2,1052.9 L1946.6,1051.5 L1947.2,1050.1 L1947.7,1048.7 L1948.4,1047.4 L1949.1,1046.1 L1949.9,1044.8 L1950.9,1043.7 L1952.0,1043.1 L1953.3,1043.0 L1954.5,1043.6 L1955.6,1044.6 L1956.4,1045.8 L1957.1,1047.1 L1957.7,1048.5 L1958.2,1049.9 L1958.7,1051.3 L1959.2,1052.8 L1959.6,1054.2 L1960.0,1055.6 L1960.4,1057.1 L1960.7,1058.6 L1961.1,1060.0 L1961.4,1061.5 L1961.7,1062.9 L1962.0,1064.4 L1962.3,1065.9 L1962.6,1067.4 L1962.9,1068.8 L1963.1,1070.3 L1963.4,1071.8 L1963.7,1073.3 L1963.9,1074.7 L1964.2,1076.2 L1964.4,1077.7 L1964.7,1079.2 L1964.9,1080.7 L1965.2,1082.1 L1965.4,1083.6 L1965.6,1085.1 L1965.8,1086.6 L1966.0,1088.1 L1966.2,1089.6 L1966.4,1091.0 L1966.6,1092.5 L1966.7,1094.0 L1966.9,1095.5 L1967.1,1097.0 L1967.2,1098.5 L1967.4,1100.0 L1967.6,1101.5 L1967.7,1103.0 L1967.9,1104.5 L1968.1,1106.0 L1968.2,1107.4 L1968.4,1108.9 L1968.6,1110.4 L1968.7,1111.9 L1968.9,1113.4 L1969.1,1114.9 L1969.2,1116.4 L1969.4,1117.9 L1969.6,1119.4 L1969.8,1120.9 L1969.9,1122.3 L1970.1,1123.8 L1970.3,1125.3 L1970.5,1126.8 L1970.7,1128.3 L1970.9,1129.8 L1971.0,1131.3 L1971.2,1132.8 L1971.4,1134.3 L1971.6,1135.7 L1971.8,1137.2 L1972.0,1138.7 L1972.2,1140.2 L1972.3,1141.7 L1972.5,1143.2 L1972.7,1144.7 L1972.9,1146.2 L1973.1,1147.7 L1973.3,1149.1 L1973.4,1150.6 L1973.6,1152.1 L1973.8,1153.6 L1974.0,1155.1 L1974.1,1156.6 L1974.3,1158.1 L1974.4,1159.6 L1974.6,1161.1 L1974.8,1162.6 L1974.9,1164.0 L1975.1,1165.5 L1975.2,1167.0 L1975.4,1168.5 L1975.5,1170.0 L1975.7,1171.5 L1975.8,1173.0 L1976.0,1174.5 L1976.1,1176.0 L1976.3,1177.5 L1976.4,1179.0 L1976.6,1180.5 L1976.7,1182.0 L1976.8,1183.5 L1977.0,1184.9 L1977.1,1186.4 L1977.3,1187.9 L1977.4,1189.4 L1977.5,1190.9 L1977.7,1192.4 L1977.8,1193.9 L1978.0,1195.4 L1978.1,1196.9 L1978.2,1198.4 L1978.4,1199.9 L1978.5,1201.4 L1978.6,1202.9 L1978.7,1204.4 L1978.8,1205.9 L1978.9,1207.4 L1979.1,1208.9 L1979.2,1210.4 L1979.3,1211.8 L1979.4,1213.3 L1979.5,1214.8 L1979.6,1216.3 L1979.8,1217.8 L1979.9,1219.3 L1980.0,1220.8 L1980.2,1222.3 L1980.4,1223.8 L1980.5,1225.3 L1980.7,1226.8 L1980.9,1228.3 L1981.0,1229.8 L1981.2,1231.2 L1981.4,1232.7 L1981.6,1234.2 L1981.8,1235.7 L1982.0,1237.2 L1982.2,1238.7 L1982.4,1240.2 L1982.6,1241.7 L1982.7,1243.2 L1982.9,1244.6 L1983.1,1246.1 L1983.3,1247.6 L1983.5,1249.1 L1983.7,1250.6 L1983.9,1252.1 L1984.1,1253.6 L1984.3,1255.0 L1984.5,1256.5 L1984.7,1258.0 L1984.9,1259.5 L1985.1,1261.0 L1985.3,1262.5 L1985.6,1264.0 L1985.8,1265.4 L1986.0,1266.9 L1986.2,1268.4 L1986.4,1269.9 L1986.6,1271.4 L1986.8,1272.9 L1987.0,1274.4 L1987.3,1275.8 L1987.5,1277.3 L1987.7,1278.8 L1987.9,1280.3 L1988.2,1281.8 L1988.4,1283.3 L1988.6,1284.7 L1988.9,1286.2 L1989.1,1287.7 L1989.4,1289.2 L1989.6,1290.7 L1989.9,1292.1 L1990.2,1293.6 L1990.4,1295.1 L1990.7,1296.6 L1991.0,1298.0 L1991.3,1299.5 L1991.6,1301.0 L1991.9,1302.4 L1992.2,1303.9 L1992.5,1305.4 L1992.9,1306.8 L1993.2,1308.3 L1993.5,1309.8 L1993.9,1311.2 L1994.2,1312.7 L1994.6,1314.1 L1995.0,1315.6 L1995.4,1317.0 L1995.8,1318.5 L1996.2,1319.9 L1996.6,1321.4 L1997.0,1322.8 L1997.5,1324.2 L1998.0,1325.6 L1998.5,1327.1 L1999.0,1328.5 L1999.6,1329.9 L2000.2,1331.2 L2000.9,1332.5 L2001.9,1333.6 L2003.1,1334.4 L2004.5,1335.0 L2005.9,1335.4 L2007.3,1335.7 L2008.8,1335.9 L2010.3,1336.0 L2011.8,1336.0 L2013.3,1335.9 L2014.8,1335.9 L2016.3,1335.9 L2017.8,1336.0 L2019.3,1336.2 L2020.7,1336.5 L2022.1,1337.0 L2023.5,1337.6 L2024.8,1338.3 L2026.1,1339.0 L2027.4,1339.9 L2028.6,1340.8 L2029.8,1341.7 L2031.0,1342.6 L2032.1,1343.6 L2033.2,1344.6 L2034.3,1345.6 L2035.3,1346.7 L2036.3,1347.8 L2037.3,1348.9 L2038.4,1350.0 L2039.4,1351.1 L2040.5,1352.1 L2041.6,1353.2 L2042.7,1354.2 L2043.7,1355.2 L2044.8,1356.3 L2045.9,1357.4 L2047.0,1358.4 L2048.1,1359.4 L2049.2,1360.4 L2050.4,1361.3 L2051.6,1362.1 L2053.0,1362.6 L2054.4,1362.9 L2055.9,1362.8 L2057.3,1362.4 L2058.6,1361.7 L2059.8,1360.8 L2060.9,1359.8 L2061.9,1358.7 L2062.9,1357.6 L2063.8,1356.4 L2064.8,1355.2 L2065.7,1354.0 L2066.5,1352.8 L2067.3,1351.5 L2068.1,1350.2 L2068.8,1348.9 L2069.5,1347.6 L2070.3,1346.3 L2071.0,1345.0 L2071.7,1343.7 L2072.4,1342.3 L2073.1,1341.0 L2073.8,1339.7 L2074.5,1338.4 L2075.3,1337.1 L2076.1,1335.8 L2076.9,1334.5 L2077.7,1333.3 L2078.5,1332.0 L2079.4,1330.8 L2080.3,1329.6 L2081.1,1328.4 L2082.0,1327.2 L2082.9,1326.0 L2083.8,1324.8 L2084.8,1323.6 L2085.8,1322.5 L2086.8,1321.4 L2087.8,1320.3 L2089.0,1319.3 L2090.1,1318.4 L2091.4,1317.5 L2092.7,1316.8 L2094.0,1316.1 L2095.4,1315.6 L2096.8,1315.2 L2098.3,1315.0 L2099.8,1314.9 L2101.3,1314.9 L2102.8,1315.0 L2104.2,1315.3 L2105.7,1315.7 L2107.1,1316.2 L2108.5,1316.8 L2109.8,1317.4 L2111.2,1318.1 L2112.5,1318.7 L2113.9,1319.4 L2115.1,1320.0 L2116.1,1320.5 L2117.5,1321.2" fill="none" stroke="#ff00ff" stroke-width="5.5" stroke-linejoin="round" stroke-linecap="round"/>
<path d="M50.0,1439.0 L52.9,1439.0 L54.0,1439.0 L55.2,1439.0 L56.5,1439.0 L57.7,1438.9 L59.1,1438.9 L60.5,1438.9 L62.0,1438.9 L63.5,1438.9 L65.0,1438.9 L66.5,1438.9 L68.0,1438.9 L69.5,1438.9 L71.0,1438.9 L72.5,1438.8 L74.0,1438.8 L75.5,1438.8 L77.0,1438.8 L78.5,1438.8 L80.0,1438.7 L81.5,1438.7 L83.0,1438.7 L84.5,1438.6 L86.0,1438.6 L87.5,1438.6 L89.0,1438.5 L90.5,1438.5 L92.0,1438.4 L93.5,1438.3 L95.0,1438.2 L96.5,1438.2 L98.0,1438.1 L99.5,1438.0 L101.0,1437.9 L102.5,1437.7 L104.0,1437.6 L105.5,1437.5 L107.0,1437.4 L108.5,1437.3 L109.9,1437.2 L111.4,1437.1 L112.9,1437.0 L114.4,1436.9 L115.9,1436.8 L117.4,1436.7 L118.9,1436.6 L120.4,1436.5 L121.9,1436.5 L123.4,1436.4 L124.9,1436.4 L126.4,1436.4 L127.9,1436.4 L129.4,1436.4 L130.9,1436.4 L132.4,1436.5 L133.9,1436.5 L135.4,1436.6 L136.9,1436.7 L138.4,1436.8 L139.9,1436.9 L141.4,1437.1 L142.9,1437.2 L144.4,1437.3 L145.9,1437.5 L147.4,1437.6 L148.9,1437.7 L150.4,1437.8 L151.9,1437.9 L153.4,1437.9 L154.9,1438.0 L156.4,1438.0 L157.9,1438.1 L159.4,1438.1 L160.9,1438.2 L162.4,1438.2 L163.9,1438.2 L165.4,1438.3 L166.9,1438.3 L168.4,1438.3 L169.9,1438.3 L171.4,1438.3 L172.9,1438.3 L174.4,1438.3 L175.9,1438.3 L177.4,1438.3 L178.9,1438.3 L180.4,1438.3 L181.9,1438.3 L183.4,1438.3 L184.9,1438.3 L186.4,1438.2 L187.9,1438.2 L189.4,1438.2 L190.9,1438.2 L192.4,1438.2 L193.9,1438.2 L195.4,1438.2 L196.9,1438.1 L198.4,1438.1 L199.9,1438.1 L201.4,1438.1 L202.9,1438.1 L204.4,1438.1 L205.9,1438.1 L207.4,1438.0 L208.9,1438.0 L210.4,1438.0 L211.9,1438.0 L213.4,1438.0 L214.9,1437.9 L216.4,1437.9 L217.9,1437.9 L219.4,1437.9 L220.9,1437.9 L222.4,1437.8 L223.9,1437.8 L225.4,1437.8 L226.9,1437.8 L228.4,1437.8 L229.9,1437.7 L231.4,1437.7 L232.9,1437.7 L234.4,1437.7 L235.9,1437.6 L237.4,1437.6 L238.9,1437.6 L240.4,1437.6 L241.9,1437.6 L243.4,1437.5 L244.9,1437.5 L246.4,1437.5 L247.8,1437.5 L249.3,1437.4 L250.8,1437.4 L252.3,1437.4 L253.8,1437.4 L255.3,1437.4 L256.8,1437.3 L258.3,1437.3 L259.8,1437.3 L261.3,1437.3 L262.8,1437.2 L264.3,1437.2 L265.8,1437.2 L267.3,1437.2 L268.8,1437.2 L270.3,1437.1 L271.8,1437.1 L273.3,1437.1 L274.8,1437.1 L276.3,1437.0 L277.8,1437.0 L279.3,1437.0 L280.8,1437.0 L282.3,1436.9 L283.8,1436.9 L285.3,1436.9 L286.8,1436.9 L288.3,1436.9 L289.8,1436.8 L291.3,1436.8 L292.8,1436.8 L294.3,1436.8 L295.8,1436.8 L297.3,1436.7 L298.8,1436.7 L300.3,1436.7 L301.8,1436.7 L303.3,1436.7 L304.8,1436.6 L306.3,1436.6 L307.8,1436.6 L309.3,1436.6 L310.8,1436.6 L312.3,1436.5 L313.8,1436.5 L315.3,1436.5 L316.8,1436.5 L318.3,1436.5 L319.8,1436.4 L321.3,1436.4 L322.8,1436.4 L324.3,1436.4 L325.8,1436.3 L327.3,1436.3 L328.8,1436.3 L330.3,1436.3 L331.8,1436.3 L333.3,1436.2 L334.8,1436.2 L336.3,1436.2 L337.8,1436.2 L339.3,1436.2 L340.8,1436.1 L342.3,1436.1 L343.8,1436.1 L345.3,1436.1 L346.8,1436.0 L348.3,1436.0 L349.8,1436.0 L351.3,1436.0 L352.8,1436.0 L354.3,1435.9 L355.8,1435.9 L357.3,1435.9 L358.8,1435.9 L360.3,1435.8 L361.8,1435.8 L363.3,1435.8 L364.8,1435.8 L366.3,1435.8 L367.8,1435.7 L369.3,1435.7 L370.8,1435.7 L372.3,1435.7 L373.8,1435.7 L375.3,1435.6 L376.8,1435.6 L378.3,1435.6 L379.8,1435.6 L381.3,1435.5 L382.8,1435.5 L384.3,1435.5 L385.8,1435.5 L387.3,1435.5 L388.8,1435.4 L390.3,1435.4 L391.8,1435.4 L393.3,1435.4 L394.8,1435.3 L396.3,1435.3 L397.8,1435.3 L399.3,1435.3 L400.8,1435.3 L402.3,1435.2 L403.8,1435.2 L405.3,1435.2 L406.8,1435.2 L408.3,1435.2 L409.8,1435.1 L411.3,1435.1 L412.8,1435.1 L414.3,1435.1 L415.8,1435.1 L417.3,1435.0 L418.8,1435.0 L420.3,1435.0 L421.8,1435.0 L423.3,1435.0 L424.8,1434.9 L426.3,1434.9 L427.8,1434.9 L429.3,1434.9 L430.8,1434.9 L432.3,1434.8 L433.8,1434.8 L435.3,1434.8 L436.8,1434.8 L438.3,1434.8 L439.8,1434.7 L441.3,1434.7 L442.8,1434.7 L444.3,1434.7 L445.8,1434.7 L447.3,1434.6 L448.8,1434.6 L450.3,1434.6 L451.8,1434.6 L453.3,1434.6 L454.8,1434.5 L456.3,1434.5 L457.8,1434.5 L459.3,1434.5 L460.8,1434.5 L462.3,1434.4 L463.8,1434.4 L465.3,1434.4 L466.8,1434.4 L468.3,1434.4 L469.8,1434.3 L471.3,1434.3 L472.8,1434.3 L474.3,1434.3 L475.8,1434.3 L477.3,1434.3 L478.8,1434.2 L480.3,1434.2 L481.8,1434.2 L483.3,1434.2 L484.8,1434.2 L486.3,1434.1 L487.8,1434.1 L489.3,1434.1 L490.8,1434.1 L492.3,1434.1 L493.8,1434.1 L495.3,1434.0 L496.8,1434.0 L498.3,1434.0 L499.8,1434.0 L501.3,1434.0 L502.8,1433.9 L504.3,1433.9 L505.8,1433.9 L507.3,1433.9 L508.8,1433.9 L510.3,1433.9 L511.8,1433.8 L513.3,1433.8 L514.8,1433.8 L516.3,1433.8 L517.8,1433.8 L519.3,1433.7 L520.8,1433.7 L522.3,1433.7 L523.8,1433.7 L525.3,1433.7 L526.8,1433.7 L528.3,1433.6 L529.8,1433.6 L531.3,1433.6 L532.8,1433.6 L534.3,1433.6 L535.8,1433.5 L537.3,1433.5 L538.8,1433.5 L540.3,1433.5 L541.8,1433.5 L543.3,1433.5 L544.8,1433.4 L546.3,1433.4 L547.8,1433.4 L549.3,1433.4 L550.8,1433.4 L552.3,1433.4 L553.8,1433.3 L555.3,1433.3 L556.8,1433.3 L558.3,1433.3 L559.8,1433.3 L561.3,1433.2 L562.8,1433.2 L564.3,1433.2 L565.8,1433.2 L567.3,1433.2 L568.8,1433.2 L570.3,1433.1 L571.8,1433.1 L573.3,1433.1 L574.8,1433.1 L576.3,1433.1 L577.8,1433.1 L579.3,1433.0 L580.8,1433.0 L582.3,1433.0 L583.8,1433.0 L585.3,1433.0 L586.8,1432.9 L588.3,1432.9 L589.8,1432.9 L591.3,1432.9 L592.8,1432.9 L594.3,1432.9 L595.8,1432.8 L597.3,1432.8 L598.8,1432.8 L600.3,1432.8 L601.8,1432.8 L603.3,1432.8 L604.8,1432.7 L606.3,1432.7 L607.8,1432.7 L609.3,1432.7 L610.8,1432.7 L612.3,1432.7 L613.8,1432.6 L615.3,1432.6 L616.8,1432.6 L618.3,1432.6 L619.8,1432.6 L621.3,1432.5 L622.8,1432.5 L624.3,1432.5 L625.8,1432.5 L627.3,1432.5 L628.8,1432.5 L630.3,1432.4 L631.8,1432.4 L633.3,1432.4 L634.8,1432.4 L636.3,1432.4 L637.8,1432.4 L639.3,1432.3 L640.8,1432.3 L642.3,1432.3 L643.8,1432.3 L645.3,1432.3 L646.8,1432.3 L648.3,1432.2 L649.8,1432.2 L651.3,1432.2 L652.8,1432.2 L654.3,1432.2 L655.8,1432.1 L657.3,1432.1 L658.8,1432.1 L660.3,1432.1 L661.8,1432.1 L663.3,1432.1 L664.8,1432.0 L666.3,1432.0 L667.8,1432.0 L669.3,1432.0 L670.8,1432.0 L672.3,1432.0 L673.8,1431.9 L675.3,1431.9 L676.8,1431.9 L678.3,1431.9 L679.8,1431.9 L681.3,1431.9 L682.8,1431.8 L684.3,1431.8 L685.8,1431.8 L687.3,1431.8 L688.8,1431.8 L690.3,1431.7 L691.8,1431.7 L693.3,1431.7 L694.8,1431.7 L696.3,1431.7 L697.8,1431.7 L699.3,1431.6 L700.8,1431.6 L702.3,1431.6 L703.8,1431.6 L705.3,1431.6 L706.8,1431.6 L708.3,1431.5 L709.8,1431.5 L711.3,1431.5 L712.8,1431.5 L714.3,1431.5 L715.8,1431.5 L717.3,1431.4 L718.8,1431.4 L720.3,1431.4 L721.8,1431.4 L723.3,1431.4 L724.8,1431.4 L726.3,1431.3 L727.8,1431.3 L729.3,1431.3 L730.8,1431.3 L732.3,1431.3 L733.8,1431.2 L735.3,1431.2 L736.8,1431.2 L738.3,1431.2 L739.8,1431.2 L741.3,1431.2 L742.8,1431.1 L744.3,1431.1 L745.8,1431.1 L747.3,1431.1 L748.8,1431.1 L750.3,1431.1 L751.8,1431.0 L753.3,1431.0 L754.8,1431.0 L756.3,1431.0 L757.8,1431.0 L759.3,1431.0 L760.8,1430.9 L762.3,1430.9 L763.8,1430.9 L765.3,1430.9 L766.8,1430.9 L768.3,1430.9 L769.8,1430.8 L771.3,1430.8 L772.8,1430.8 L774.3,1430.8 L775.8,1430.8 L777.3,1430.8 L778.8,1430.7 L780.3,1430.7 L781.8,1430.7 L783.3,1430.7 L784.8,1430.7 L786.3,1430.7 L787.8,1430.6 L789.3,1430.6 L790.8,1430.6 L792.3,1430.6 L793.8,1430.6 L795.3,1430.6 L796.8,1430.5 L798.3,1430.5 L799.8,1430.5 L801.3,1430.5 L802.8,1430.5 L804.3,1430.5 L805.8,1430.4 L807.3,1430.4 L808.8,1430.4 L810.3,1430.4 L811.8,1430.4 L813.3,1430.4 L814.8,1430.3 L816.3,1430.3 L817.8,1430.3 L819.3,1430.3 L820.8,1430.3 L822.3,1430.3 L823.8,1430.2 L825.3,1430.2 L826.8,1430.2 L828.3,1430.2 L829.8,1430.2 L831.3,1430.2 L832.8,1430.1 L834.3,1430.1 L835.8,1430.1 L837.3,1430.1 L838.8,1430.1 L840.3,1430.1 L841.8,1430.1 L843.3,1430.0 L844.8,1430.0 L846.3,1430.0 L847.8,1430.0 L849.3,1430.0 L850.8,1430.0 L852.3,1429.9 L853.8,1429.9 L855.3,1429.9 L856.8,1429.9 L858.3,1429.9 L859.8,1429.9 L861.3,1429.9 L862.8,1429.8 L864.3,1429.8 L865.8,1429.8 L867.3,1429.8 L868.8,1429.8 L870.3,1429.8 L871.8,1429.8 L873.3,1429.7 L874.8,1429.7 L876.3,1429.7 L877.8,1429.7 L879.3,1429.7 L880.8,1429.7 L882.3,1429.7 L883.8,1429.6 L885.3,1429.6 L886.8,1429.6 L888.3,1429.6 L889.8,1429.6 L891.3,1429.6 L892.8,1429.6 L894.3,1429.5 L895.8,1429.5 L897.3,1429.5 L898.8,1429.5 L900.3,1429.5 L901.8,1429.5 L903.3,1429.4 L904.8,1429.4 L906.3,1429.4 L907.8,1429.4 L909.3,1429.4 L910.8,1429.4 L912.3,1429.4 L913.8,1429.3 L915.3,1429.3 L916.8,1429.3 L918.3,1429.3 L919.8,1429.3 L921.3,1429.3 L922.8,1429.3 L924.3,1429.2 L925.8,1429.2 L927.3,1429.2 L928.8,1429.2 L930.3,1429.2 L931.8,1429.2 L933.3,1429.1 L934.8,1429.1 L936.3,1429.1 L937.8,1429.1 L939.3,1429.1 L940.8,1429.0 L942.3,1429.0 L943.8,1429.0 L945.3,1429.0 L946.8,1429.0 L948.3,1429.0 L949.8,1428.9 L951.3,1428.9 L952.8,1428.9 L954.3,1428.9 L955.8,1428.8 L957.3,1428.8 L958.8,1428.8 L960.3,1428.8 L961.8,1428.7 L963.3,1428.7 L964.8,1428.7 L966.3,1428.6 L967.8,1428.6 L969.3,1428.6 L970.8,1428.5 L972.3,1428.5 L973.8,1428.5 L975.3,1428.4 L976.8,1428.4 L978.3,1428.3 L979.8,1428.3 L981.3,1428.3 L982.8,1428.2 L984.3,1428.2 L985.8,1428.2 L987.3,1428.1 L988.8,1428.1 L990.3,1428.1 L991.8,1428.1 L993.3,1428.0 L994.8,1428.0 L996.3,1428.0 L997.8,1428.0 L999.3,1428.0 L1000.8,1428.0 L1002.3,1428.0 L1003.8,1428.0 L1005.3,1428.0 L1006.8,1428.1 L1008.3,1428.1 L1009.8,1428.1 L1011.3,1428.1 L1012.8,1428.1 L1014.3,1428.2 L1015.8,1428.2 L1017.3,1428.2 L1018.8,1428.2 L1020.3,1428.3 L1021.8,1428.3 L1023.3,1428.3 L1024.8,1428.4 L1026.3,1428.4 L1027.8,1428.5 L1029.3,1428.5 L1030.8,1428.5 L1032.3,1428.6 L1033.8,1428.6 L1035.3,1428.6 L1036.8,1428.7 L1038.3,1428.7 L1039.8,1428.7 L1041.3,1428.8 L1042.8,1428.8 L1044.3,1428.8 L1045.8,1428.9 L1047.3,1428.9 L1048.8,1428.9 L1050.3,1428.9 L1051.8,1429.0 L1053.3,1429.0 L1054.8,1429.0 L1056.3,1429.0 L1057.8,1429.0 L1059.3,1429.0 L1060.8,1429.0 L1062.3,1429.0 L1063.8,1429.0 L1065.3,1428.9 L1066.8,1428.9 L1068.3,1428.9 L1069.8,1428.9 L1071.3,1428.8 L1072.8,1428.8 L1074.3,1428.8 L1075.8,1428.7 L1077.3,1428.7 L1078.8,1428.6 L1080.3,1428.6 L1081.8,1428.5 L1083.3,1428.5 L1084.8,1428.4 L1086.3,1428.3 L1087.8,1428.3 L1089.3,1428.2 L1090.8,1428.1 L1092.3,1428.0 L1093.8,1427.9 L1095.3,1427.8 L1096.7,1427.7 L1098.2,1427.6 L1099.7,1427.5 L1101.2,1427.4 L1102.7,1427.2 L1104.2,1427.0 L1105.7,1426.8 L1107.2,1426.5 L1108.6,1426.2 L1110.1,1425.8 L1111.5,1425.4 L1113.0,1425.1 L1114.5,1424.8 L1115.9,1424.5 L1117.4,1424.2 L1118.9,1423.9 L1120.3,1423.7 L1121.8,1423.4 L1123.3,1423.2 L1124.8,1422.9 L1126.3,1422.6 L1127.7,1422.4 L1129.2,1422.1 L1130.7,1421.9 L1132.2,1421.6 L1133.7,1421.4 L1135.1,1421.1 L1136.6,1420.8 L1138.1,1420.6 L1139.6,1420.3 L1141.0,1420.0 L1142.5,1419.7 L1144.0,1419.4 L1145.4,1419.1 L1146.9,1418.8 L1148.4,1418.5 L1149.8,1418.1 L1151.3,1417.8 L1152.7,1417.4 L1154.2,1417.0 L1155.6,1416.6 L1157.1,1416.2 L1158.5,1415.8 L1160.0,1415.4 L1161.4,1414.9 L1162.8,1414.5 L1164.2,1414.0 L1165.6,1413.5 L1167.0,1412.9 L1168.4,1412.4 L1169.8,1411.8 L1171.2,1411.2 L1172.6,1410.6 L1173.9,1410.0 L1175.3,1409.4 L1176.7,1408.7 L1178.0,1408.1 L1179.4,1407.4 L1180.7,1406.8 L1182.1,1406.1 L1183.4,1405.4 L1184.7,1404.7 L1186.1,1404.0 L1187.4,1403.3 L1188.7,1402.6 L1190.0,1401.9 L1191.3,1401.2 L1192.6,1400.5 L1194.0,1399.7 L1195.3,1399.0 L1196.6,1398.2 L1197.9,1397.5 L1199.2,1396.7 L1200.4,1396.0 L1201.7,1395.2 L1203.0,1394.4 L1204.3,1393.6 L1205.6,1392.9 L1206.9,1392.1 L1208.1,1391.3 L1209.4,1390.5 L1210.7,1389.7 L1212.0,1388.9 L1213.2,1388.1 L1214.5,1387.3 L1215.7,1386.5 L1217.0,1385.6 L1218.2,1384.8 L1219.4,1383.9 L1220.6,1383.0 L1221.8,1382.1 L1223.0,1381.2 L1224.2,1380.3 L1225.4,1379.3 L1226.5,1378.3 L1227.6,1377.4 L1228.8,1376.4 L1229.9,1375.3 L1230.9,1374.3 L1232.0,1373.3 L1233.1,1372.2 L1234.1,1371.1 L1235.2,1370.1 L1236.2,1369.0 L1237.2,1367.9 L1238.3,1366.8 L1239.3,1365.7 L1240.3,1364.5 L1241.2,1363.4 L1242.2,1362.3 L1243.2,1361.1 L1244.2,1360.0 L1245.2,1358.9 L1246.1,1357.7 L1247.1,1356.6 L1248.1,1355.4 L1249.0,1354.3 L1250.0,1353.1 L1250.9,1352.0 L1251.9,1350.8 L1252.9,1349.7 L1253.8,1348.5 L1254.8,1347.3 L1255.7,1346.2 L1256.6,1345.0 L1257.6,1343.8 L1258.5,1342.7 L1259.4,1341.5 L1260.4,1340.3 L1261.3,1339.1 L1262.2,1337.9 L1263.1,1336.8 L1264.1,1335.6 L1265.0,1334.4 L1265.9,1333.2 L1266.8,1332.0 L1267.7,1330.8 L1268.6,1329.6 L1269.5,1328.4 L1270.4,1327.2 L1271.3,1326.0 L1272.2,1324.8 L1273.1,1323.6 L1273.9,1322.4 L1274.8,1321.1 L1275.7,1319.9 L1276.5,1318.6 L1277.3,1317.4 L1278.0,1316.1 L1278.7,1314.8 L1279.4,1313.4 L1279.9,1312.0 L1280.5,1310.6 L1281.0,1309.2 L1281.6,1307.8 L1282.2,1306.5 L1282.9,1305.1 L1283.6,1303.8 L1284.3,1302.5 L1285.0,1301.2 L1285.7,1299.8 L1286.4,1298.5 L1287.2,1297.2 L1287.9,1295.9 L1288.6,1294.6 L1289.3,1293.2 L1290.0,1291.9 L1290.7,1290.6 L1291.4,1289.3 L1292.1,1287.9 L1292.8,1286.6 L1293.5,1285.3 L1294.3,1284.0 L1295.0,1282.7 L1295.8,1281.4 L1296.5,1280.1 L1297.3,1278.9 L1298.2,1277.6 L1299.1,1276.5 L1300.2,1275.4 L1301.3,1274.5 L1302.6,1273.6 L1303.8,1272.8 L1305.0,1271.9 L1306.1,1270.9 L1307.1,1269.8 L1308.1,1268.7 L1309.0,1267.5 L1309.8,1266.2 L1310.5,1264.9 L1311.2,1263.6 L1311.8,1262.2 L1312.4,1260.8 L1313.0,1259.5 L1313.6,1258.1 L1314.2,1256.7 L1314.8,1255.3 L1315.4,1253.9 L1316.0,1252.6 L1316.5,1251.2 L1317.1,1249.8 L1317.6,1248.4 L1318.0,1246.9 L1318.5,1245.5 L1318.9,1244.1 L1319.3,1242.6 L1319.7,1241.2 L1320.1,1239.7 L1320.5,1238.3 L1320.9,1236.8 L1321.2,1235.4 L1321.6,1233.9 L1322.0,1232.5 L1322.3,1231.0 L1322.7,1229.5 L1323.0,1228.1 L1323.4,1226.6 L1323.8,1225.2 L1324.2,1223.7 L1324.6,1222.3 L1325.0,1220.9 L1325.4,1219.4 L1325.8,1218.0 L1326.3,1216.5 L1326.7,1215.1 L1327.2,1213.7 L1327.7,1212.3 L1328.2,1210.9 L1328.8,1209.5 L1329.3,1208.1 L1329.9,1206.7 L1330.5,1205.3 L1331.2,1204.0 L1331.8,1202.6 L1332.4,1201.2 L1333.0,1199.9 L1333.6,1198.5 L1334.3,1197.1 L1334.9,1195.8 L1335.5,1194.4 L1336.2,1193.1 L1336.8,1191.7 L1337.5,1190.4 L1338.2,1189.1 L1339.0,1187.8 L1339.7,1186.5 L1340.5,1185.2 L1341.2,1183.8 L1341.8,1182.5 L1342.5,1181.1 L1343.1,1179.8 L1343.6,1178.4 L1344.2,1177.0 L1344.8,1175.6 L1345.3,1174.2 L1345.8,1172.8 L1346.4,1171.4 L1346.9,1170.0 L1347.4,1168.6 L1347.9,1167.2 L1348.5,1165.8 L1349.0,1164.4 L1349.5,1163.0 L1350.0,1161.6 L1350.6,1160.2 L1351.1,1158.7 L1351.6,1157.3 L1352.2,1155.9 L1352.7,1154.6 L1353.3,1153.2 L1353.8,1151.8 L1354.4,1150.4 L1354.9,1149.0 L1355.5,1147.6 L1356.1,1146.2 L1356.6,1144.8 L1357.2,1143.4 L1357.8,1142.0 L1358.3,1140.6 L1358.9,1139.3 L1359.5,1137.9 L1360.1,1136.5 L1360.7,1135.1 L1361.2,1133.7 L1361.8,1132.3 L1362.4,1131.0 L1363.0,1129.6 L1363.6,1128.2 L1364.1,1126.8 L1364.7,1125.4 L1365.3,1124.0 L1365.9,1122.7 L1366.4,1121.3 L1367.0,1119.9 L1367.6,1118.5 L1368.2,1117.1 L1368.7,1115.7 L1369.3,1114.3 L1369.9,1112.9 L1370.4,1111.6 L1371.0,1110.2 L1371.6,1108.8 L1372.1,1107.4 L1372.7,1106.0 L1373.2,1104.6 L1373.8,1103.2 L1374.3,1101.8 L1374.8,1100.4 L1375.4,1099.0 L1375.9,1097.6 L1376.4,1096.2 L1377.0,1094.8 L1377.5,1093.4 L1378.0,1092.0 L1378.5,1090.6 L1379.0,1089.1 L1379.5,1087.7 L1380.0,1086.3 L1380.5,1084.9 L1381.0,1083.5 L1381.5,1082.1 L1382.0,1080.7 L1382.5,1079.3 L1383.0,1077.8 L1383.5,1076.4 L1384.0,1075.0 L1384.5,1073.6 L1385.0,1072.2 L1385.5,1070.8 L1386.0,1069.3 L1386.5,1067.9 L1387.0,1066.5 L1387.5,1065.1 L1388.0,1063.7 L1388.4,1062.3 L1388.9,1060.8 L1389.4,1059.4 L1389.9,1058.0 L1390.4,1056.6 L1390.9,1055.2 L1391.4,1053.8 L1391.9,1052.3 L1392.4,1050.9 L1392.9,1049.5 L1393.4,1048.1 L1393.9,1046.7 L1394.4,1045.3 L1394.9,1043.9 L1395.4,1042.4 L1395.9,1041.0 L1396.4,1039.6 L1397.0,1038.2 L1397.5,1036.8 L1398.0,1035.4 L1398.5,1034.0 L1399.0,1032.6 L1399.6,1031.2 L1400.1,1029.8 L1400.6,1028.4 L1401.2,1027.0 L1401.7,1025.6 L1402.2,1024.2 L1402.8,1022.8 L1403.3,1021.4 L1403.8,1020.0 L1404.4,1018.6 L1404.9,1017.2 L1405.4,1015.8 L1406.0,1014.4 L1406.5,1013.0 L1407.1,1011.6 L1407.6,1010.2 L1408.1,1008.8 L1408.7,1007.4 L1409.2,1006.0 L1409.8,1004.6 L1410.3,1003.2 L1410.9,1001.8 L1411.4,1000.4 L1412.0,999.0 L1412.5,997.6 L1413.1,996.2 L1413.6,994.8 L1414.2,993.4 L1414.7,992.0 L1415.3,990.6 L1415.8,989.2 L1416.4,987.8 L1417.0,986.4 L1417.5,985.1 L1418.1,983.7 L1418.7,982.3 L1419.2,980.9 L1419.8,979.5 L1420.4,978.1 L1421.0,976.8 L1421.6,975.4 L1422.2,974.0 L1422.8,972.6 L1423.3,971.2 L1423.9,969.9 L1424.5,968.5 L1425.1,967.1 L1425.7,965.7 L1426.3,964.3 L1426.9,963.0 L1427.4,961.6 L1428.0,960.2 L1428.6,958.8 L1429.1,957.4 L1429.7,956.0 L1430.2,954.6 L1430.8,953.2 L1431.3,951.8 L1431.9,950.4 L1432.4,949.0 L1432.9,947.6 L1433.5,946.2 L1434.0,944.8 L1434.5,943.4 L1435.1,942.0 L1435.6,940.6 L1436.1,939.2 L1436.6,937.8 L1437.1,936.4 L1437.6,934.9 L1438.1,933.5 L1438.6,932.1 L1439.1,930.7 L1439.6,929.3 L1440.0,927.8 L1440.5,926.4 L1441.0,925.0 L1441.5,923.6 L1441.9,922.2 L1442.4,920.7 L1442.9,919.3 L1443.3,917.9 L1443.8,916.5 L1444.3,915.0 L1444.7,913.6 L1445.2,912.2 L1445.7,910.8 L1446.2,909.3 L1446.6,907.9 L1447.1,906.5 L1447.6,905.1 L1448.0,903.6 L1448.5,902.2 L1449.0,900.8 L1449.4,899.4 L1449.9,897.9 L1450.4,896.5 L1450.8,895.1 L1451.3,893.7 L1451.8,892.2 L1452.3,890.8 L1452.7,889.4 L1453.2,888.0 L1453.7,886.6 L1454.2,885.1 L1454.7,883.7 L1455.2,882.3 L1455.7,880.9 L1456.2,879.5 L1456.8,878.1 L1457.3,876.7 L1457.8,875.3 L1458.4,873.9 L1458.9,872.5 L1459.5,871.1 L1460.1,869.7 L1460.6,868.3 L1461.2,866.9 L1461.7,865.5 L1462.3,864.2 L1462.9,862.8 L1463.4,861.4 L1464.0,860.0 L1464.6,858.6 L1465.1,857.2 L1465.7,855.8 L1466.2,854.4 L1466.8,853.0 L1467.3,851.6 L1467.9,850.2 L1468.4,848.8 L1469.0,847.4 L1469.5,846.0 L1470.1,844.7 L1470.7,843.3 L1471.2,841.9 L1471.8,840.5 L1472.4,839.1 L1472.9,837.7 L1473.5,836.3 L1474.1,834.9 L1474.7,833.6 L1475.2,832.2 L1475.8,830.8 L1476.4,829.4 L1477.0,828.0 L1477.6,826.6 L1478.2,825.3 L1478.8,823.9 L1479.4,822.5 L1480.0,821.2 L1480.6,819.8 L1481.2,818.4 L1481.9,817.1 L1482.5,815.7 L1483.2,814.4 L1483.8,813.0 L1484.5,811.7 L1485.2,810.3 L1485.9,809.0 L1486.6,807.7 L1487.3,806.4 L1488.0,805.0 L1488.7,803.7 L1489.4,802.4 L1490.1,801.1 L1490.8,799.7 L1491.5,798.4 L1492.1,797.0 L1492.8,795.7 L1493.5,794.4 L1494.1,793.0 L1494.8,791.7 L1495.4,790.3 L1496.0,788.9 L1496.7,787.6 L1497.3,786.2 L1497.9,784.8 L1498.5,783.5 L1499.1,782.1 L1499.7,780.7 L1500.3,779.3 L1500.9,778.0 L1501.4,776.6 L1502.0,775.2 L1502.5,773.8 L1503.1,772.4 L1503.6,771.0 L1504.1,769.6 L1504.6,768.2 L1505.2,766.8 L1505.7,765.3 L1506.2,763.9 L1506.7,762.5 L1507.3,761.1 L1507.8,759.7 L1508.3,758.3 L1508.9,756.9 L1509.4,755.5 L1510.0,754.1 L1510.5,752.7 L1511.1,751.3 L1511.6,749.9 L1512.2,748.6 L1512.7,747.2 L1513.3,745.8 L1513.9,744.4 L1514.5,743.0 L1515.1,741.7 L1515.8,740.3 L1516.4,739.0 L1517.1,737.6 L1517.8,736.3 L1518.6,735.0 L1519.3,733.7 L1520.1,732.4 L1520.9,731.2 L1521.8,729.9 L1522.6,728.7 L1523.5,727.5 L1524.4,726.3 L1525.4,725.1 L1526.3,724.0 L1527.3,722.9 L1528.4,721.8 L1529.4,720.7 L1530.5,719.7 L1531.6,718.7 L1532.8,717.8 L1534.0,716.9 L1535.2,716.0 L1536.5,715.1 L1537.7,714.3 L1539.0,713.5 L1540.2,712.7 L1541.5,712.0 L1542.9,711.3 L1544.3,710.8 L1545.6,710.1 L1546.8,709.3 L1547.9,708.3 L1548.9,707.1 L1549.8,705.9 L1550.6,704.7 L1551.4,703.4 L1552.2,702.1 L1552.9,700.8 L1553.5,699.4 L1554.1,698.1 L1554.6,696.7 L1555.1,695.2 L1555.5,693.8 L1556.0,692.4 L1556.5,691.0 L1557.0,689.6 L1557.6,688.2 L1558.2,686.8 L1558.8,685.4 L1559.5,684.1 L1560.2,682.8 L1560.9,681.4 L1561.6,680.1 L1562.3,678.8 L1563.1,677.5 L1563.8,676.2 L1564.6,674.9 L1565.3,673.6 L1566.1,672.4 L1566.9,671.1 L1567.7,669.8 L1568.6,668.6 L1569.4,667.3 L1570.2,666.1 L1571.1,664.9 L1572.0,663.6 L1572.9,662.4 L1573.8,661.3 L1574.7,660.1 L1575.7,658.9 L1576.7,657.8 L1577.7,656.7 L1578.7,655.6 L1579.8,654.5 L1580.8,653.5 L1582.0,652.5 L1583.2,651.6 L1584.4,650.7 L1585.6,649.9 L1586.9,649.0 L1588.0,648.1 L1589.1,647.1 L1590.1,646.0 L1591.0,644.8 L1591.9,643.5 L1592.7,642.3 L1593.5,641.0 L1594.3,639.7 L1595.0,638.4 L1595.8,637.1 L1596.5,635.8 L1597.1,634.5 L1597.8,633.1 L1598.6,631.9 L1599.6,630.8 L1600.8,629.9 L1602.1,629.3 L1603.6,628.9 L1605.0,628.6 L1606.5,628.5 L1608.0,628.6 L1609.4,628.8 L1610.8,629.4 L1612.0,630.3 L1613.0,631.4 L1613.9,632.5 L1614.7,633.8 L1615.4,635.1 L1616.0,636.5 L1616.6,637.9 L1617.1,639.3 L1617.5,640.7 L1617.8,642.2 L1618.2,643.6 L1618.5,645.1 L1618.7,646.6 L1619.0,648.1 L1619.3,649.5 L1619.6,651.0 L1619.9,652.5 L1620.2,654.0 L1620.5,655.4 L1620.8,656.9 L1621.1,658.4 L1621.4,659.8 L1621.7,661.3 L1621.9,662.8 L1622.2,664.2 L1622.5,665.7 L1622.8,667.2 L1623.1,668.7 L1623.4,670.1 L1623.7,671.6 L1624.0,673.1 L1624.3,674.6 L1624.6,676.0 L1624.8,677.5 L1625.1,679.0 L1625.4,680.4 L1625.7,681.9 L1626.0,683.4 L1626.3,684.9 L1626.6,686.3 L1626.9,687.8 L1627.1,689.3 L1627.4,690.7 L1627.7,692.2 L1627.9,693.7 L1628.2,695.2 L1628.5,696.6 L1628.8,698.1 L1629.1,699.6 L1629.5,701.0 L1629.8,702.5 L1630.2,704.0 L1630.5,705.4 L1630.9,706.9 L1631.3,708.3 L1631.6,709.8 L1632.0,711.2 L1632.4,712.7 L1632.7,714.1 L1633.1,715.6 L1633.5,717.0 L1633.8,718.5 L1634.2,720.0 L1634.6,721.4 L1635.0,722.9 L1635.4,724.3 L1635.8,725.8 L1636.1,727.2 L1636.5,728.7 L1636.9,730.1 L1637.3,731.5 L1637.7,733.0 L1638.2,734.4 L1638.6,735.9 L1639.0,737.3 L1639.5,738.7 L1640.0,740.1 L1640.4,741.6 L1641.0,743.0 L1641.6,744.3 L1642.4,745.4 L1643.5,746.0 L1644.7,745.8 L1645.8,745.1 L1646.8,743.9 L1647.6,742.7 L1648.3,741.4 L1649.0,740.1 L1649.6,738.7 L1650.2,737.3 L1650.8,735.9 L1651.3,734.5 L1651.8,733.1 L1652.3,731.7 L1652.7,730.2 L1653.1,728.8 L1653.6,727.4 L1654.0,725.9 L1654.4,724.5 L1654.8,723.0 L1655.2,721.6 L1655.6,720.1 L1655.9,718.7 L1656.3,717.2 L1656.7,715.8 L1657.0,714.3 L1657.4,712.9 L1657.7,711.4 L1658.1,709.9 L1658.4,708.5 L1658.7,707.0 L1659.0,705.5 L1659.3,704.1 L1659.6,702.6 L1659.9,701.1 L1660.2,699.7 L1660.5,698.2 L1660.7,696.7 L1661.0,695.2 L1661.3,693.7 L1661.5,692.3 L1661.7,690.8 L1662.0,689.3 L1662.2,687.8 L1662.4,686.3 L1662.7,684.9 L1662.9,683.4 L1663.1,681.9 L1663.4,680.4 L1663.6,678.9 L1663.8,677.5 L1664.1,676.0 L1664.3,674.5 L1664.5,673.0 L1664.8,671.5 L1665.0,670.0 L1665.3,668.6 L1665.5,667.1 L1665.8,665.6 L1666.0,664.1 L1666.2,662.6 L1666.5,661.2 L1666.7,659.7 L1666.9,658.2 L1667.2,656.7 L1667.4,655.2 L1667.6,653.8 L1667.9,652.3 L1668.1,650.8 L1668.4,649.3 L1668.6,647.8 L1668.8,646.4 L1669.1,644.9 L1669.4,643.4 L1669.7,641.9 L1669.9,640.5 L1670.2,639.0 L1670.6,637.5 L1670.9,636.1 L1671.3,634.6 L1671.7,633.2 L1672.1,631.7 L1672.5,630.3 L1673.0,628.8 L1673.4,627.4 L1673.9,626.0 L1674.5,624.6 L1675.1,623.2 L1675.8,621.9 L1676.6,620.8 L1677.7,620.0 L1678.9,620.0 L1680.0,620.8 L1680.9,621.9 L1681.6,623.2 L1682.2,624.6 L1682.7,626.0 L1683.2,627.4 L1683.7,628.8 L1684.1,630.2 L1684.6,631.7 L1684.9,633.1 L1685.3,634.6 L1685.7,636.0 L1686.0,637.5 L1686.3,639.0 L1686.6,640.4 L1686.9,641.9 L1687.1,643.4 L1687.4,644.9 L1687.6,646.4 L1687.9,647.8 L1688.1,649.3 L1688.4,650.8 L1688.6,652.3 L1688.8,653.8 L1689.0,655.2 L1689.3,656.7 L1689.5,658.2 L1689.7,659.7 L1689.9,661.2 L1690.1,662.7 L1690.3,664.1 L1690.5,665.6 L1690.7,667.1 L1690.9,668.6 L1691.1,670.1 L1691.4,671.6 L1691.6,673.1 L1691.7,674.6 L1691.9,676.0 L1692.1,677.5 L1692.3,679.0 L1692.5,680.5 L1692.7,682.0 L1692.9,683.5 L1693.1,685.0 L1693.2,686.5 L1693.4,687.9 L1693.6,689.4 L1693.8,690.9 L1694.0,692.4 L1694.1,693.9 L1694.3,695.4 L1694.5,696.9 L1694.6,698.4 L1694.8,699.9 L1695.0,701.4 L1695.1,702.8 L1695.3,704.3 L1695.5,705.8 L1695.6,707.3 L1695.8,708.8 L1696.0,710.3 L1696.1,711.8 L1696.3,713.3 L1696.5,714.8 L1696.6,716.3 L1696.8,717.8 L1697.0,719.2 L1697.1,720.7 L1697.3,722.2 L1697.4,723.7 L1697.6,725.2 L1697.7,726.7 L1697.9,728.2 L1698.0,729.7 L1698.2,731.2 L1698.3,732.7 L1698.5,734.2 L1698.6,735.7 L1698.8,737.2 L1698.9,738.6 L1699.1,740.1 L1699.2,741.6 L1699.4,743.1 L1699.5,744.6 L1699.7,746.1 L1699.8,747.6 L1699.9,749.1 L1700.1,750.6 L1700.2,752.1 L1700.4,753.6 L1700.5,755.1 L1700.7,756.6 L1700.8,758.1 L1701.0,759.6 L1701.1,761.0 L1701.3,762.5 L1701.4,764.0 L1701.6,765.5 L1701.7,767.0 L1701.9,768.5 L1702.0,770.0 L1702.2,771.5 L1702.3,773.0 L1702.5,774.5 L1702.7,776.0 L1702.8,777.5 L1703.0,778.9 L1703.2,780.4 L1703.3,781.9 L1703.5,783.4 L1703.7,784.9 L1703.8,786.4 L1704.0,787.9 L1704.2,789.4 L1704.3,790.9 L1704.5,792.4 L1704.7,793.8 L1704.9,795.3 L1705.0,796.8 L1705.2,798.3 L1705.4,799.8 L1705.6,801.3 L1705.8,802.8 L1706.0,804.3 L1706.1,805.8 L1706.3,807.2 L1706.5,808.7 L1706.7,810.2 L1706.9,811.7 L1707.1,813.2 L1707.4,814.7 L1707.6,816.2 L1707.8,817.6 L1708.0,819.1 L1708.3,820.6 L1708.5,822.1 L1708.8,823.6 L1709.0,825.0 L1709.3,826.5 L1709.6,828.0 L1709.8,829.5 L1710.1,830.9 L1710.4,832.4 L1710.7,833.9 L1710.9,835.4 L1711.2,836.8 L1711.6,838.3 L1711.9,839.8 L1712.2,841.2 L1712.6,842.7 L1712.9,844.1 L1713.3,845.6 L1713.7,847.0 L1714.2,848.4 L1714.8,849.8 L1715.6,850.9 L1716.7,851.4 L1717.7,851.0 L1718.6,850.0 L1719.3,848.7 L1719.9,847.3 L1720.4,845.9 L1720.9,844.5 L1721.3,843.0 L1721.7,841.6 L1722.1,840.1 L1722.4,838.7 L1722.8,837.2 L1723.1,835.8 L1723.4,834.3 L1723.7,832.8 L1724.0,831.4 L1724.2,829.9 L1724.5,828.4 L1724.7,826.9 L1725.0,825.4 L1725.2,824.0 L1725.4,822.5 L1725.6,821.0 L1725.8,819.5 L1726.0,818.0 L1726.3,816.5 L1726.5,815.0 L1726.7,813.6 L1726.9,812.1 L1727.0,810.6 L1727.2,809.1 L1727.4,807.6 L1727.6,806.1 L1727.8,804.6 L1728.0,803.1 L1728.2,801.7 L1728.4,800.2 L1728.6,798.7 L1728.8,797.2 L1729.0,795.7 L1729.2,794.2 L1729.4,792.7 L1729.6,791.2 L1729.7,789.8 L1729.9,788.3 L1730.1,786.8 L1730.3,785.3 L1730.4,783.8 L1730.6,782.3 L1730.8,780.8 L1730.9,779.3 L1731.1,777.8 L1731.3,776.3 L1731.4,774.8 L1731.6,773.4 L1731.8,771.9 L1731.9,770.4 L1732.1,768.9 L1732.3,767.4 L1732.4,765.9 L1732.6,764.4 L1732.8,762.9 L1732.9,761.4 L1733.1,759.9 L1733.3,758.5 L1733.5,757.0 L1733.7,755.5 L1733.9,754.0 L1734.0,752.5 L1734.2,751.0 L1734.4,749.5 L1734.7,748.0 L1734.9,746.6 L1735.1,745.1 L1735.3,743.6 L1735.5,742.1 L1735.8,740.6 L1736.0,739.1 L1736.2,737.7 L1736.5,736.2 L1736.7,734.7 L1737.0,733.2 L1737.2,731.7 L1737.5,730.3 L1737.8,728.8 L1738.0,727.3 L1738.3,725.8 L1738.6,724.4 L1738.9,722.9 L1739.2,721.4 L1739.5,720.0 L1739.8,718.5 L1740.1,717.0 L1740.4,715.6 L1740.7,714.1 L1741.1,712.6 L1741.5,711.2 L1741.9,709.8 L1742.4,708.4 L1743.2,707.4 L1744.2,707.1 L1745.3,707.7 L1746.2,708.8 L1747.0,710.1 L1747.6,711.4 L1748.2,712.8 L1748.7,714.2 L1749.2,715.7 L1749.6,717.1 L1750.0,718.6 L1750.3,720.0 L1750.7,721.5 L1751.0,722.9 L1751.3,724.4 L1751.6,725.9 L1751.8,727.4 L1752.1,728.8 L1752.4,730.3 L1752.6,731.8 L1752.8,733.3 L1753.1,734.8 L1753.3,736.2 L1753.5,737.7 L1753.7,739.2 L1754.0,740.7 L1754.2,742.2 L1754.4,743.7 L1754.6,745.1 L1754.8,746.6 L1755.0,748.1 L1755.2,749.6 L1755.4,751.1 L1755.6,752.6 L1755.8,754.1 L1756.0,755.5 L1756.2,757.0 L1756.4,758.5 L1756.6,760.0 L1756.8,761.5 L1757.0,763.0 L1757.2,764.5 L1757.4,766.0 L1757.6,767.4 L1757.8,768.9 L1758.0,770.4 L1758.2,771.9 L1758.4,773.4 L1758.6,774.9 L1758.8,776.4 L1759.0,777.9 L1759.1,779.3 L1759.3,780.8 L1759.5,782.3 L1759.7,783.8 L1759.9,785.3 L1760.1,786.8 L1760.2,788.3 L1760.4,789.8 L1760.6,791.3 L1760.8,792.7 L1760.9,794.2 L1761.1,795.7 L1761.3,797.2 L1761.4,798.7 L1761.6,800.2 L1761.8,801.7 L1761.9,803.2 L1762.1,804.7 L1762.2,806.2 L1762.4,807.7 L1762.5,809.1 L1762.7,810.6 L1762.8,812.1 L1762.9,813.6 L1763.1,815.1 L1763.2,816.6 L1763.3,818.1 L1763.4,819.6 L1763.5,821.1 L1763.6,822.6 L1763.7,824.1 L1763.8,825.6 L1763.9,827.1 L1764.0,828.6 L1764.1,830.1 L1764.2,831.6 L1764.3,833.1 L1764.4,834.6 L1764.5,836.1 L1764.6,837.6 L1764.7,839.1 L1764.8,840.6 L1764.9,842.1 L1765.0,843.6 L1765.1,845.1 L1765.2,846.6 L1765.3,848.0 L1765.5,849.5 L1765.6,851.0 L1765.7,852.5 L1765.9,854.0 L1766.0,855.5 L1766.2,857.0 L1766.4,858.5 L1766.6,860.0 L1766.8,861.5 L1767.0,863.0 L1767.2,864.4 L1767.3,865.9 L1767.5,867.4 L1767.7,868.9 L1767.8,870.4 L1768.0,871.9 L1768.1,873.4 L1768.2,874.9 L1768.4,876.4 L1768.5,877.9 L1768.6,879.4 L1768.7,880.9 L1768.8,882.4 L1768.9,883.9 L1769.0,885.4 L1769.1,886.9 L1769.2,888.4 L1769.3,889.8 L1769.4,891.3 L1769.5,892.8 L1769.6,894.3 L1769.7,895.8 L1769.8,897.3 L1769.9,898.8 L1770.0,900.3 L1770.2,901.8 L1770.3,903.3 L1770.4,904.8 L1770.5,906.3 L1770.7,907.8 L1770.8,909.3 L1770.9,910.8 L1771.1,912.3 L1771.2,913.8 L1771.4,915.3 L1771.5,916.8 L1771.6,918.2 L1771.8,919.7 L1771.9,921.2 L1772.1,922.7 L1772.2,924.2 L1772.4,925.7 L1772.5,927.2 L1772.7,928.7 L1772.8,930.2 L1772.9,931.7 L1773.1,933.2 L1773.2,934.7 L1773.4,936.2 L1773.5,937.7 L1773.6,939.2 L1773.8,940.6 L1773.9,942.1 L1774.1,943.6 L1774.3,945.1 L1774.5,946.6 L1774.7,948.1 L1774.9,949.6 L1775.1,951.1 L1775.3,952.5 L1775.6,954.0 L1775.9,955.5 L1776.3,956.9 L1776.6,958.4 L1777.0,959.9 L1777.4,961.3 L1777.8,962.8 L1778.2,964.2 L1778.5,965.7 L1778.9,967.1 L1779.2,968.6 L1779.5,970.0 L1779.8,971.5 L1780.1,973.0 L1780.4,974.5 L1780.7,975.9 L1781.0,977.4 L1781.3,978.9 L1781.5,980.3 L1781.8,981.8 L1782.1,983.3 L1782.4,984.8 L1782.7,986.2 L1783.0,987.7 L1783.2,989.2 L1783.5,990.7 L1783.8,992.1 L1784.1,993.6 L1784.5,995.1 L1784.8,996.5 L1785.1,998.0 L1785.4,999.5 L1785.7,1000.9 L1786.0,1002.4 L1786.3,1003.9 L1786.7,1005.3 L1787.0,1006.8 L1787.3,1008.3 L1787.7,1009.7 L1788.0,1011.2 L1788.4,1012.6 L1788.7,1014.1 L1789.1,1015.5 L1789.5,1017.0 L1789.9,1018.4 L1790.3,1019.9 L1790.7,1021.3 L1791.1,1022.8 L1791.5,1024.2 L1792.0,1025.6 L1792.4,1027.1 L1792.8,1028.5 L1793.3,1029.9 L1793.8,1031.4 L1794.2,1032.8 L1794.7,1034.2 L1795.2,1035.6 L1795.7,1037.0 L1796.2,1038.5 L1796.7,1039.9 L1797.2,1041.3 L1797.7,1042.7 L1798.3,1044.1 L1798.8,1045.5 L1799.4,1046.9 L1800.0,1048.3 L1800.6,1049.6 L1801.2,1051.0 L1801.9,1052.3 L1802.6,1053.6 L1803.4,1054.9 L1804.2,1056.2 L1805.1,1057.3 L1806.3,1058.2 L1807.6,1058.6 L1808.9,1058.5 L1810.2,1057.8 L1811.3,1056.9 L1812.4,1055.9 L1813.5,1054.8 L1814.6,1053.8 L1815.7,1052.8 L1817.0,1052.0 L1818.2,1051.2 L1819.6,1050.6 L1821.0,1050.2 L1822.4,1050.1 L1823.9,1050.4 L1825.2,1050.9 L1826.5,1051.7 L1827.7,1052.6 L1828.7,1053.7 L1829.7,1054.8 L1830.5,1056.1 L1831.1,1057.4 L1831.7,1058.8 L1832.2,1060.2 L1832.6,1061.7 L1832.9,1063.1 L1833.3,1064.6 L1833.6,1066.1 L1833.9,1067.5 L1834.3,1069.0 L1834.6,1070.4 L1834.9,1071.9 L1835.3,1073.4 L1835.6,1074.8 L1836.0,1076.3 L1836.3,1077.7 L1836.6,1079.2 L1836.9,1080.7 L1837.2,1082.1 L1837.6,1083.6 L1837.9,1085.1 L1838.2,1086.5 L1838.5,1088.0 L1838.8,1089.5 L1839.1,1091.0 L1839.3,1092.4 L1839.6,1093.9 L1839.9,1095.4 L1840.2,1096.9 L1840.4,1098.3 L1840.7,1099.8 L1840.9,1101.3 L1841.1,1102.8 L1841.4,1104.3 L1841.6,1105.7 L1841.8,1107.2 L1842.0,1108.7 L1842.2,1110.2 L1842.4,1111.7 L1842.6,1113.2 L1842.8,1114.7 L1843.1,1116.1 L1843.3,1117.6 L1843.5,1119.1 L1843.7,1120.6 L1843.9,1122.1 L1844.1,1123.6 L1844.3,1125.0 L1844.6,1126.5 L1844.8,1128.0 L1845.0,1129.5 L1845.3,1131.0 L1845.5,1132.5 L1845.7,1133.9 L1846.0,1135.4 L1846.2,1136.9 L1846.4,1138.4 L1846.7,1139.9 L1846.9,1141.3 L1847.1,1142.8 L1847.4,1144.3 L1847.6,1145.8 L1847.9,1147.3 L1848.1,1148.7 L1848.3,1150.2 L1848.6,1151.7 L1848.8,1153.2 L1849.1,1154.7 L1849.3,1156.2 L1849.5,1157.6 L1849.8,1159.1 L1850.0,1160.6 L1850.3,1162.1 L1850.5,1163.6 L1850.8,1165.0 L1851.0,1166.5 L1851.3,1168.0 L1851.5,1169.5 L1851.8,1171.0 L1852.0,1172.4 L1852.3,1173.9 L1852.6,1175.4 L1852.8,1176.9 L1853.1,1178.3 L1853.4,1179.8 L1853.6,1181.3 L1853.9,1182.8 L1854.1,1184.2 L1854.4,1185.7 L1854.6,1187.2 L1854.8,1188.7 L1855.0,1190.2 L1855.2,1191.7 L1855.4,1193.1 L1855.6,1194.6 L1855.8,1196.1 L1856.0,1197.6 L1856.1,1199.1 L1856.3,1200.6 L1856.5,1202.1 L1856.6,1203.6 L1856.8,1205.1 L1856.9,1206.6 L1857.1,1208.1 L1857.3,1209.5 L1857.4,1211.0 L1857.6,1212.5 L1857.8,1214.0 L1858.0,1215.5 L1858.2,1217.0 L1858.4,1218.5 L1858.6,1220.0 L1858.8,1221.4 L1859.0,1222.9 L1859.3,1224.4 L1859.5,1225.9 L1859.8,1227.4 L1860.1,1228.8 L1860.4,1230.3 L1860.7,1231.8 L1861.0,1233.2 L1861.3,1234.7 L1861.7,1236.2 L1862.1,1237.6 L1862.4,1239.1 L1862.8,1240.5 L1863.2,1242.0 L1863.6,1243.4 L1864.0,1244.9 L1864.4,1246.3 L1864.8,1247.7 L1865.2,1249.2 L1865.6,1250.6 L1866.1,1252.1 L1866.5,1253.5 L1867.0,1254.9 L1867.4,1256.4 L1867.9,1257.8 L1868.3,1259.2 L1868.8,1260.6 L1869.3,1262.1 L1869.8,1263.5 L1870.3,1264.9 L1870.8,1266.3 L1871.3,1267.7 L1871.8,1269.1 L1872.3,1270.5 L1872.9,1271.9 L1873.4,1273.3 L1874.0,1274.7 L1874.6,1276.1 L1875.2,1277.4 L1875.9,1278.8 L1876.6,1280.1 L1877.4,1281.4 L1878.2,1282.7 L1879.1,1283.9 L1880.0,1285.0 L1881.1,1286.0 L1882.3,1286.9 L1883.6,1287.5 L1885.1,1287.9 L1886.5,1288.1 L1888.0,1287.9 L1889.4,1287.6 L1890.8,1287.1 L1892.2,1286.5 L1893.5,1285.8 L1894.9,1285.1 L1896.2,1284.3 L1897.5,1283.6 L1898.8,1282.9 L1900.2,1282.3 L1901.5,1281.6 L1902.8,1280.8 L1904.1,1280.1 L1905.4,1279.4 L1906.8,1278.7 L1908.1,1278.0 L1909.5,1277.4 L1910.9,1276.9 L1912.3,1276.6 L1913.8,1276.5 L1915.3,1276.6 L1916.8,1276.8 L1918.2,1277.0 L1919.7,1277.1 L1921.2,1276.8 L1922.6,1276.4 L1923.9,1275.7 L1925.1,1274.9 L1926.3,1274.0 L1927.4,1272.9 L1928.3,1271.8 L1929.1,1270.5 L1929.8,1269.2 L1930.4,1267.8 L1931.0,1266.4 L1931.5,1265.0 L1931.9,1263.6 L1932.3,1262.1 L1932.7,1260.7 L1933.0,1259.2 L1933.3,1257.7 L1933.6,1256.3 L1933.9,1254.8 L1934.2,1253.3 L1934.4,1251.8 L1934.7,1250.4 L1935.0,1248.9 L1935.2,1247.4 L1935.5,1245.9 L1935.7,1244.5 L1936.0,1243.0 L1936.2,1241.5 L1936.5,1240.0 L1936.8,1238.5 L1937.0,1237.1 L1937.3,1235.6 L1937.6,1234.1 L1937.8,1232.6 L1938.1,1231.2 L1938.4,1229.7 L1938.7,1228.2 L1939.0,1226.8 L1939.3,1225.3 L1939.6,1223.8 L1939.9,1222.3 L1940.2,1220.9 L1940.4,1219.4 L1940.7,1217.9 L1941.0,1216.5 L1941.3,1215.0 L1941.6,1213.5 L1941.9,1212.0 L1942.2,1210.6 L1942.5,1209.1 L1942.8,1207.6 L1943.1,1206.2 L1943.4,1204.7 L1943.6,1203.2 L1943.9,1201.7 L1944.2,1200.3 L1944.5,1198.8 L1944.8,1197.3 L1945.1,1195.9 L1945.4,1194.4 L1945.7,1192.9 L1946.0,1191.4 L1946.3,1190.0 L1946.6,1188.5 L1946.9,1187.0 L1947.2,1185.6 L1947.5,1184.1 L1947.8,1182.6 L1948.1,1181.2 L1948.4,1179.7 L1948.7,1178.2 L1949.0,1176.7 L1949.3,1175.3 L1949.6,1173.8 L1949.9,1172.3 L1950.2,1170.9 L1950.5,1169.4 L1950.8,1167.9 L1951.2,1166.5 L1951.5,1165.0 L1951.9,1163.6 L1952.3,1162.1 L1952.8,1160.7 L1953.3,1159.3 L1953.8,1157.9 L1954.3,1156.5 L1954.9,1155.1 L1955.5,1153.7 L1956.1,1152.3 L1956.8,1151.0 L1957.5,1149.7 L1958.4,1148.6 L1959.5,1147.8 L1960.7,1147.6 L1961.8,1148.2 L1962.7,1149.3 L1963.4,1150.6 L1963.9,1152.0 L1964.5,1153.4 L1964.9,1154.8 L1965.4,1156.3 L1965.8,1157.7 L1966.3,1159.1 L1966.7,1160.6 L1967.1,1162.0 L1967.5,1163.5 L1967.8,1164.9 L1968.2,1166.4 L1968.5,1167.9 L1968.8,1169.3 L1969.1,1170.8 L1969.4,1172.3 L1969.7,1173.7 L1969.9,1175.2 L1970.1,1176.7 L1970.4,1178.2 L1970.6,1179.7 L1970.8,1181.2 L1971.1,1182.6 L1971.3,1184.1 L1971.5,1185.6 L1971.7,1187.1 L1971.9,1188.6 L1972.1,1190.1 L1972.3,1191.5 L1972.5,1193.0 L1972.7,1194.5 L1972.9,1196.0 L1973.1,1197.5 L1973.3,1199.0 L1973.5,1200.5 L1973.7,1202.0 L1973.9,1203.4 L1974.1,1204.9 L1974.3,1206.4 L1974.5,1207.9 L1974.6,1209.4 L1974.8,1210.9 L1975.0,1212.4 L1975.2,1213.9 L1975.4,1215.3 L1975.6,1216.8 L1975.8,1218.3 L1976.0,1219.8 L1976.1,1221.3 L1976.3,1222.8 L1976.5,1224.3 L1976.7,1225.8 L1976.9,1227.3 L1977.1,1228.7 L1977.2,1230.2 L1977.4,1231.7 L1977.6,1233.2 L1977.8,1234.7 L1978.0,1236.2 L1978.2,1237.7 L1978.3,1239.2 L1978.5,1240.7 L1978.7,1242.1 L1978.9,1243.6 L1979.1,1245.1 L1979.2,1246.6 L1979.4,1248.1 L1979.6,1249.6 L1979.8,1251.1 L1980.0,1252.6 L1980.1,1254.1 L1980.3,1255.5 L1980.5,1257.0 L1980.7,1258.5 L1980.9,1260.0 L1981.0,1261.5 L1981.2,1263.0 L1981.4,1264.5 L1981.6,1266.0 L1981.7,1267.5 L1981.9,1269.0 L1982.1,1270.4 L1982.2,1271.9 L1982.4,1273.4 L1982.6,1274.9 L1982.8,1276.4 L1982.9,1277.9 L1983.1,1279.4 L1983.3,1280.9 L1983.4,1282.4 L1983.6,1283.9 L1983.7,1285.4 L1983.9,1286.8 L1984.1,1288.3 L1984.2,1289.8 L1984.4,1291.3 L1984.6,1292.8 L1984.7,1294.3 L1984.9,1295.8 L1985.1,1297.3 L1985.2,1298.8 L1985.4,1300.3 L1985.6,1301.8 L1985.8,1303.2 L1985.9,1304.7 L1986.1,1306.2 L1986.3,1307.7 L1986.4,1309.2 L1986.6,1310.7 L1986.8,1312.2 L1987.0,1313.7 L1987.2,1315.2 L1987.3,1316.6 L1987.5,1318.1 L1987.7,1319.6 L1987.9,1321.1 L1988.1,1322.6 L1988.3,1324.1 L1988.5,1325.6 L1988.7,1327.1 L1988.9,1328.5 L1989.1,1330.0 L1989.3,1331.5 L1989.5,1333.0 L1989.7,1334.5 L1989.9,1336.0 L1990.1,1337.5 L1990.3,1338.9 L1990.6,1340.4 L1990.8,1341.9 L1991.0,1343.4 L1991.3,1344.9 L1991.5,1346.4 L1991.8,1347.8 L1992.1,1349.3 L1992.4,1350.8 L1992.7,1352.2 L1993.0,1353.7 L1993.3,1355.2 L1993.7,1356.6 L1994.1,1358.1 L1994.4,1359.5 L1994.8,1361.0 L1995.3,1362.4 L1995.7,1363.8 L1996.2,1365.3 L1996.7,1366.7 L1997.3,1368.1 L1997.9,1369.4 L1998.5,1370.8 L1999.2,1372.1 L1999.9,1373.4 L2000.8,1374.7 L2001.7,1375.9 L2002.7,1376.9 L2003.9,1377.8 L2005.2,1378.5 L2006.6,1378.9 L2008.1,1379.0 L2009.6,1379.0 L2011.1,1378.7 L2012.5,1378.3 L2013.8,1377.7 L2015.2,1377.0 L2016.5,1376.3 L2017.8,1375.6 L2019.2,1375.0 L2020.6,1374.4 L2022.0,1373.9 L2023.4,1373.5 L2024.9,1373.1 L2026.3,1372.7 L2027.8,1372.4 L2029.2,1372.2 L2030.7,1372.1 L2032.2,1372.3 L2033.7,1372.7 L2035.0,1373.2 L2036.3,1373.9 L2037.6,1374.8 L2038.7,1375.7 L2039.9,1376.7 L2041.0,1377.7 L2042.1,1378.7 L2043.1,1379.8 L2044.2,1380.9 L2045.3,1381.9 L2046.3,1383.0 L2047.4,1384.0 L2048.5,1385.0 L2049.6,1386.0 L2050.7,1387.1 L2051.8,1388.1 L2052.8,1389.2 L2053.9,1390.2 L2055.0,1391.3 L2056.0,1392.3 L2057.1,1393.4 L2058.2,1394.4 L2059.4,1395.4 L2060.5,1396.3 L2061.8,1397.1 L2063.1,1397.8 L2064.5,1398.3 L2066.0,1398.5 L2067.4,1398.5 L2068.9,1398.3 L2070.3,1397.9 L2071.7,1397.3 L2073.0,1396.5 L2074.3,1395.7 L2075.5,1394.9 L2076.6,1393.9 L2077.7,1392.8 L2078.7,1391.7 L2079.6,1390.5 L2080.4,1389.3 L2081.2,1388.0 L2082.0,1386.7 L2082.8,1385.4 L2083.5,1384.1 L2084.1,1382.8 L2084.8,1381.4 L2085.4,1380.1 L2086.0,1378.7 L2086.6,1377.3 L2087.1,1375.9 L2087.7,1374.5 L2088.3,1373.1 L2088.8,1371.7 L2089.4,1370.4 L2090.0,1369.0 L2090.5,1367.6 L2091.1,1366.2 L2091.7,1364.8 L2092.2,1363.4 L2092.8,1362.0 L2093.4,1360.6 L2094.0,1359.3 L2094.6,1357.9 L2095.2,1356.5 L2095.8,1355.1 L2096.3,1353.7 L2096.9,1352.4 L2097.5,1351.0 L2098.1,1349.6 L2098.7,1348.2 L2099.3,1346.9 L2100.0,1345.5 L2100.6,1344.2 L2101.3,1342.8 L2102.0,1341.5 L2102.8,1340.2 L2103.6,1338.9 L2104.4,1337.7 L2105.3,1336.5 L2106.2,1335.3 L2107.2,1334.2 L2108.2,1333.1 L2109.3,1332.0 L2110.4,1331.0 L2111.5,1330.1 L2112.8,1329.3 L2114.1,1328.8 L2115.3,1328.6 L2117.1,1328.4" fill="none" stroke="#000000" stroke-width="5.5" stroke-linejoin="round" stroke-linecap="round"/>
<path d="M50.0,1445.0 L52.9,1445.0 L54.0,1445.0 L55.2,1445.0 L56.5,1444.9 L57.7,1444.9 L59.1,1444.9 L60.5,1444.9 L62.0,1444.9 L63.5,1444.9 L65.0,1444.9 L66.5,1444.9 L68.0,1444.8 L69.5,1444.8 L71.0,1444.8 L72.5,1444.8 L74.0,1444.8 L75.5,1444.8 L77.0,1444.8 L78.5,1444.8 L80.0,1444.7 L81.5,1444.7 L83.0,1444.7 L84.5,1444.7 L86.0,1444.7 L87.5,1444.7 L89.0,1444.7 L90.5,1444.7 L92.0,1444.6 L93.5,1444.6 L95.0,1444.6 L96.5,1444.6 L98.0,1444.6 L99.5,1444.6 L101.0,1444.6 L102.5,1444.5 L104.0,1444.5 L105.5,1444.5 L107.0,1444.5 L108.5,1444.5 L110.0,1444.5 L111.5,1444.5 L113.0,1444.5 L114.5,1444.4 L116.0,1444.4 L117.5,1444.4 L119.0,1444.4 L120.5,1444.4 L122.0,1444.4 L123.5,1444.4 L125.0,1444.4 L126.5,1444.3 L128.0,1444.3 L129.5,1444.3 L131.0,1444.3 L132.5,1444.3 L134.0,1444.3 L135.5,1444.3 L137.0,1444.3 L138.5,1444.2 L140.0,1444.2 L141.5,1444.2 L143.0,1444.2 L144.5,1444.2 L146.0,1444.2 L147.5,1444.2 L149.0,1444.2 L150.5,1444.1 L152.0,1444.1 L153.5,1444.1 L155.0,1444.1 L156.5,1444.1 L158.0,1444.1 L159.5,1444.1 L161.0,1444.0 L162.5,1444.0 L164.0,1444.0 L165.5,1444.0 L167.0,1444.0 L168.5,1444.0 L170.0,1444.0 L171.5,1444.0 L173.0,1443.9 L174.5,1443.9 L176.0,1443.9 L177.5,1443.9 L179.0,1443.9 L180.5,1443.9 L182.0,1443.9 L183.5,1443.9 L185.0,1443.8 L186.5,1443.8 L188.0,1443.8 L189.5,1443.8 L191.0,1443.8 L192.5,1443.8 L194.0,1443.8 L195.5,1443.8 L197.0,1443.7 L198.5,1443.7 L200.0,1443.7 L201.5,1443.7 L203.0,1443.7 L204.5,1443.7 L206.0,1443.7 L207.5,1443.6 L209.0,1443.6 L210.5,1443.6 L212.0,1443.6 L213.5,1443.6 L215.0,1443.6 L216.5,1443.6 L218.0,1443.6 L219.5,1443.5 L221.0,1443.5 L222.5,1443.5 L224.0,1443.5 L225.5,1443.5 L227.0,1443.5 L228.5,1443.5 L230.0,1443.4 L231.5,1443.4 L233.0,1443.4 L234.5,1443.4 L236.0,1443.4 L237.5,1443.4 L239.0,1443.4 L240.5,1443.4 L242.0,1443.3 L243.5,1443.3 L245.0,1443.3 L246.5,1443.3 L248.0,1443.3 L249.5,1443.3 L251.0,1443.3 L252.5,1443.2 L254.0,1443.2 L255.5,1443.2 L257.0,1443.2 L258.5,1443.2 L260.0,1443.2 L261.5,1443.2 L263.0,1443.2 L264.5,1443.1 L266.0,1443.1 L267.5,1443.1 L269.0,1443.1 L270.5,1443.1 L272.0,1443.1 L273.5,1443.1 L275.0,1443.0 L276.5,1443.0 L278.0,1443.0 L279.5,1443.0 L281.0,1443.0 L282.5,1443.0 L284.0,1443.0 L285.5,1442.9 L287.0,1442.9 L288.5,1442.9 L290.0,1442.9 L291.5,1442.9 L293.0,1442.9 L294.5,1442.9 L296.0,1442.8 L297.5,1442.8 L299.0,1442.8 L300.5,1442.8 L302.0,1442.8 L303.5,1442.8 L305.0,1442.7 L306.5,1442.7 L308.0,1442.7 L309.5,1442.7 L311.0,1442.7 L312.5,1442.7 L314.0,1442.7 L315.5,1442.6 L317.0,1442.6 L318.5,1442.6 L320.0,1442.6 L321.5,1442.6 L323.0,1442.6 L324.5,1442.6 L326.0,1442.5 L327.5,1442.5 L329.0,1442.5 L330.5,1442.5 L332.0,1442.5 L333.5,1442.5 L335.0,1442.4 L336.5,1442.4 L338.0,1442.4 L339.5,1442.4 L341.0,1442.4 L342.5,1442.4 L344.0,1442.3 L345.5,1442.3 L347.0,1442.3 L348.5,1442.3 L350.0,1442.3 L351.5,1442.3 L353.0,1442.2 L354.5,1442.2 L356.0,1442.2 L357.5,1442.2 L359.0,1442.2 L360.5,1442.1 L362.0,1442.1 L363.5,1442.1 L365.0,1442.1 L366.5,1442.1 L368.0,1442.1 L369.5,1442.0 L371.0,1442.0 L372.5,1442.0 L374.0,1442.0 L375.5,1442.0 L377.0,1441.9 L378.5,1441.9 L380.0,1441.9 L381.5,1441.9 L383.0,1441.9 L384.5,1441.8 L386.0,1441.8 L387.5,1441.8 L389.0,1441.8 L390.5,1441.8 L392.0,1441.7 L393.5,1441.7 L395.0,1441.7 L396.5,1441.7 L398.0,1441.6 L399.5,1441.6 L401.0,1441.6 L402.5,1441.6 L404.0,1441.5 L405.5,1441.5 L407.0,1441.5 L408.5,1441.5 L410.0,1441.5 L411.5,1441.4 L413.0,1441.4 L414.5,1441.4 L416.0,1441.4 L417.5,1441.3 L419.0,1441.3 L420.5,1441.3 L422.0,1441.3 L423.5,1441.2 L425.0,1441.2 L426.5,1441.2 L428.0,1441.2 L429.5,1441.1 L431.0,1441.1 L432.5,1441.1 L434.0,1441.0 L435.5,1441.0 L437.0,1441.0 L438.5,1441.0 L440.0,1440.9 L441.5,1440.9 L443.0,1440.9 L444.5,1440.8 L446.0,1440.8 L447.5,1440.8 L449.0,1440.7 L450.5,1440.7 L452.0,1440.6 L453.5,1440.6 L455.0,1440.6 L456.5,1440.5 L458.0,1440.5 L459.5,1440.5 L461.0,1440.4 L462.5,1440.4 L464.0,1440.4 L465.5,1440.3 L467.0,1440.3 L468.5,1440.2 L470.0,1440.2 L471.5,1440.2 L473.0,1440.1 L474.5,1440.1 L476.0,1440.1 L477.5,1440.0 L479.0,1440.0 L480.5,1440.0 L482.0,1439.9 L483.5,1439.9 L485.0,1439.9 L486.5,1439.8 L488.0,1439.8 L489.5,1439.8 L491.0,1439.7 L492.5,1439.7 L494.0,1439.7 L495.5,1439.7 L497.0,1439.6 L498.5,1439.6 L500.0,1439.6 L501.5,1439.6 L503.0,1439.5 L504.5,1439.5 L506.0,1439.5 L507.5,1439.4 L509.0,1439.4 L510.5,1439.4 L512.0,1439.4 L513.5,1439.4 L515.0,1439.3 L516.5,1439.3 L518.0,1439.3 L519.5,1439.3 L521.0,1439.2 L522.5,1439.2 L524.0,1439.2 L525.5,1439.2 L527.0,1439.2 L528.5,1439.1 L530.0,1439.1 L531.5,1439.1 L533.0,1439.1 L534.5,1439.1 L536.0,1439.0 L537.5,1439.0 L539.0,1439.0 L540.5,1439.0 L542.0,1439.0 L543.5,1439.0 L545.0,1438.9 L546.5,1438.9 L548.0,1438.9 L549.5,1438.9 L551.0,1438.9 L552.5,1438.9 L554.0,1438.9 L555.5,1438.8 L557.0,1438.8 L558.5,1438.8 L560.0,1438.8 L561.5,1438.8 L563.0,1438.8 L564.5,1438.8 L566.0,1438.7 L567.5,1438.7 L569.0,1438.7 L570.5,1438.7 L572.0,1438.7 L573.5,1438.7 L575.0,1438.7 L576.5,1438.7 L578.0,1438.6 L579.5,1438.6 L581.0,1438.6 L582.5,1438.6 L584.0,1438.6 L585.5,1438.6 L587.0,1438.6 L588.5,1438.6 L590.0,1438.5 L591.5,1438.5 L593.0,1438.5 L594.5,1438.5 L596.0,1438.5 L597.5,1438.5 L599.0,1438.5 L600.5,1438.5 L602.0,1438.4 L603.5,1438.4 L605.0,1438.4 L606.5,1438.4 L608.0,1438.4 L609.5,1438.4 L611.0,1438.4 L612.5,1438.4 L614.0,1438.4 L615.5,1438.3 L617.0,1438.3 L618.5,1438.3 L620.0,1438.3 L621.5,1438.3 L623.0,1438.3 L624.5,1438.3 L626.0,1438.3 L627.5,1438.3 L629.0,1438.3 L630.5,1438.2 L632.0,1438.2 L633.5,1438.2 L635.0,1438.2 L636.5,1438.2 L638.0,1438.2 L639.5,1438.2 L641.0,1438.2 L642.5,1438.2 L644.0,1438.1 L645.5,1438.1 L647.0,1438.1 L648.5,1438.1 L650.0,1438.1 L651.5,1438.1 L653.0,1438.1 L654.5,1438.1 L656.0,1438.1 L657.5,1438.1 L659.0,1438.0 L660.5,1438.0 L662.0,1438.0 L663.5,1438.0 L665.0,1438.0 L666.5,1438.0 L668.0,1438.0 L669.5,1438.0 L671.0,1438.0 L672.5,1438.0 L674.0,1437.9 L675.5,1437.9 L677.0,1437.9 L678.5,1437.9 L680.0,1437.9 L681.5,1437.9 L683.0,1437.9 L684.5,1437.9 L686.0,1437.9 L687.5,1437.9 L689.0,1437.8 L690.5,1437.8 L692.0,1437.8 L693.5,1437.8 L695.0,1437.8 L696.5,1437.8 L698.0,1437.8 L699.5,1437.8 L701.0,1437.8 L702.5,1437.8 L704.0,1437.7 L705.5,1437.7 L707.0,1437.7 L708.5,1437.7 L710.0,1437.7 L711.5,1437.7 L713.0,1437.7 L714.5,1437.7 L716.0,1437.7 L717.5,1437.6 L719.0,1437.6 L720.5,1437.6 L722.0,1437.6 L723.5,1437.6 L725.0,1437.6 L726.5,1437.6 L728.0,1437.6 L729.5,1437.6 L731.0,1437.6 L732.5,1437.5 L734.0,1437.5 L735.5,1437.5 L737.0,1437.5 L738.5,1437.5 L740.0,1437.5 L741.5,1437.5 L743.0,1437.5 L744.5,1437.5 L746.0,1437.4 L747.5,1437.4 L749.0,1437.4 L750.5,1437.4 L752.0,1437.4 L753.5,1437.4 L755.0,1437.4 L756.5,1437.4 L758.0,1437.4 L759.5,1437.3 L761.0,1437.3 L762.5,1437.3 L764.0,1437.3 L765.5,1437.3 L767.0,1437.3 L768.5,1437.3 L770.0,1437.3 L771.5,1437.3 L773.0,1437.2 L774.5,1437.2 L776.0,1437.2 L777.5,1437.2 L779.0,1437.2 L780.5,1437.2 L782.0,1437.2 L783.5,1437.2 L785.0,1437.1 L786.5,1437.1 L788.0,1437.1 L789.5,1437.1 L791.0,1437.1 L792.5,1437.1 L794.0,1437.1 L795.5,1437.0 L796.9,1437.0 L798.4,1437.0 L799.9,1437.0 L801.4,1437.0 L802.9,1437.0 L804.4,1437.0 L805.9,1436.9 L807.4,1436.9 L808.9,1436.9 L810.4,1436.9 L811.9,1436.9 L813.4,1436.9 L814.9,1436.8 L816.4,1436.8 L817.9,1436.8 L819.4,1436.8 L820.9,1436.8 L822.4,1436.7 L823.9,1436.7 L825.4,1436.7 L826.9,1436.7 L828.4,1436.7 L829.9,1436.6 L831.4,1436.6 L832.9,1436.6 L834.4,1436.6 L835.9,1436.5 L837.4,1436.5 L838.9,1436.5 L840.4,1436.5 L841.9,1436.5 L843.4,1436.4 L844.9,1436.4 L846.4,1436.4 L847.9,1436.3 L849.4,1436.3 L850.9,1436.3 L852.4,1436.2 L853.9,1436.2 L855.4,1436.2 L856.9,1436.1 L858.4,1436.1 L859.9,1436.1 L861.4,1436.0 L862.9,1436.0 L864.4,1436.0 L865.9,1435.9 L867.4,1435.9 L868.9,1435.8 L870.4,1435.8 L871.9,1435.8 L873.4,1435.7 L874.9,1435.7 L876.4,1435.6 L877.9,1435.6 L879.4,1435.6 L880.9,1435.5 L882.4,1435.5 L883.9,1435.5 L885.4,1435.4 L886.9,1435.4 L888.4,1435.4 L889.9,1435.3 L891.4,1435.3 L892.9,1435.3 L894.4,1435.2 L895.9,1435.2 L897.4,1435.2 L898.9,1435.1 L900.4,1435.1 L901.9,1435.1 L903.4,1435.0 L904.9,1435.0 L906.4,1435.0 L907.9,1434.9 L909.4,1434.9 L910.9,1434.9 L912.4,1434.8 L913.9,1434.8 L915.4,1434.8 L916.9,1434.7 L918.4,1434.7 L919.9,1434.7 L921.4,1434.6 L922.9,1434.6 L924.4,1434.6 L925.9,1434.5 L927.4,1434.5 L928.9,1434.5 L930.4,1434.4 L931.9,1434.4 L933.4,1434.3 L934.9,1434.3 L936.4,1434.3 L937.9,1434.2 L939.4,1434.2 L940.9,1434.1 L942.4,1434.1 L943.9,1434.0 L945.4,1434.0 L946.9,1433.9 L948.4,1433.9 L949.9,1433.8 L951.4,1433.8 L952.9,1433.7 L954.4,1433.7 L955.9,1433.6 L957.4,1433.6 L958.9,1433.5 L960.4,1433.4 L961.9,1433.4 L963.4,1433.3 L964.9,1433.2 L966.4,1433.1 L967.9,1433.0 L969.4,1432.9 L970.9,1432.8 L972.4,1432.7 L973.9,1432.6 L975.4,1432.5 L976.9,1432.4 L978.4,1432.2 L979.9,1432.1 L981.3,1431.9 L982.8,1431.7 L984.3,1431.6 L985.8,1431.4 L987.3,1431.2 L988.8,1430.9 L990.3,1430.7 L991.7,1430.5 L993.2,1430.2 L994.7,1430.0 L996.2,1429.7 L997.7,1429.4 L999.1,1429.2 L1000.6,1428.8 L1002.1,1428.5 L1003.5,1428.2 L1005.0,1427.8 L1006.4,1427.5 L1007.9,1427.1 L1009.3,1426.7 L1010.8,1426.3 L1012.2,1425.9 L1013.6,1425.4 L1015.1,1425.0 L1016.5,1424.5 L1017.9,1424.0 L1019.3,1423.5 L1020.7,1422.9 L1022.1,1422.3 L1023.5,1421.8 L1024.9,1421.2 L1026.2,1420.6 L1027.6,1420.0 L1029.0,1419.4 L1030.4,1418.8 L1031.7,1418.2 L1033.1,1417.6 L1034.5,1416.9 L1035.8,1416.3 L1037.2,1415.7 L1038.6,1415.1 L1039.9,1414.4 L1041.3,1413.8 L1042.6,1413.1 L1044.0,1412.5 L1045.3,1411.8 L1046.7,1411.2 L1048.0,1410.5 L1049.3,1409.8 L1050.7,1409.1 L1052.0,1408.4 L1053.3,1407.8 L1054.7,1407.1 L1056.0,1406.4 L1057.3,1405.6 L1058.6,1404.9 L1060.0,1404.2 L1061.3,1403.5 L1062.6,1402.8 L1063.9,1402.0 L1065.2,1401.3 L1066.5,1400.5 L1067.8,1399.8 L1069.1,1399.0 L1070.4,1398.3 L1071.7,1397.5 L1072.9,1396.7 L1074.2,1395.9 L1075.5,1395.2 L1076.8,1394.4 L1078.1,1393.6 L1079.3,1392.8 L1080.6,1392.0 L1081.9,1391.3 L1083.2,1390.5 L1084.5,1389.7 L1085.8,1389.0 L1087.1,1388.2 L1088.4,1387.5 L1089.7,1386.7 L1091.0,1386.0 L1092.3,1385.3 L1093.6,1384.5 L1094.9,1383.7 L1096.2,1382.9 L1097.4,1382.1 L1098.7,1381.3 L1099.9,1380.4 L1101.1,1379.6 L1102.3,1378.6 L1103.5,1377.7 L1104.6,1376.7 L1105.7,1375.7 L1106.9,1374.8 L1108.0,1373.8 L1109.2,1372.8 L1110.3,1371.9 L1111.5,1370.9 L1112.7,1370.0 L1113.9,1369.1 L1115.1,1368.3 L1116.3,1367.4 L1117.6,1366.6 L1118.9,1365.8 L1120.1,1365.0 L1121.4,1364.2 L1122.7,1363.4 L1123.9,1362.6 L1125.2,1361.8 L1126.5,1361.0 L1127.8,1360.3 L1129.1,1359.5 L1130.4,1358.7 L1131.7,1358.0 L1133.0,1357.2 L1134.2,1356.4 L1135.5,1355.7 L1136.8,1354.9 L1138.1,1354.2 L1139.4,1353.4 L1140.7,1352.7 L1142.0,1352.0 L1143.4,1351.2 L1144.7,1350.5 L1146.0,1349.7 L1147.3,1349.0 L1148.6,1348.3 L1149.9,1347.5 L1151.2,1346.8 L1152.5,1346.0 L1153.8,1345.3 L1155.1,1344.6 L1156.4,1343.9 L1157.7,1343.1 L1159.1,1342.4 L1160.4,1341.7 L1161.7,1341.0 L1163.0,1340.3 L1164.4,1339.6 L1165.7,1338.9 L1167.0,1338.2 L1168.4,1337.6 L1169.7,1336.9 L1171.0,1336.2 L1172.4,1335.6 L1173.7,1334.9 L1175.1,1334.3 L1176.5,1333.6 L1177.8,1333.0 L1179.2,1332.4 L1180.5,1331.7 L1181.9,1331.1 L1183.3,1330.5 L1184.6,1329.9 L1186.0,1329.3 L1187.4,1328.7 L1188.8,1328.1 L1190.1,1327.5 L1191.5,1326.9 L1192.9,1326.3 L1194.3,1325.7 L1195.7,1325.1 L1197.0,1324.5 L1198.4,1323.9 L1199.8,1323.3 L1201.1,1322.7 L1202.5,1322.1 L1203.9,1321.5 L1205.3,1320.9 L1206.6,1320.2 L1208.0,1319.6 L1209.3,1319.0 L1210.7,1318.3 L1212.0,1317.7 L1213.4,1317.0 L1214.7,1316.3 L1216.0,1315.6 L1217.4,1314.9 L1218.7,1314.2 L1220.0,1313.5 L1221.3,1312.7 L1222.6,1312.0 L1223.9,1311.2 L1225.1,1310.4 L1226.4,1309.6 L1227.6,1308.7 L1228.9,1307.9 L1230.1,1307.0 L1231.3,1306.1 L1232.4,1305.1 L1233.6,1304.2 L1234.8,1303.2 L1235.9,1302.3 L1237.0,1301.3 L1238.1,1300.2 L1239.2,1299.2 L1240.3,1298.2 L1241.4,1297.2 L1242.5,1296.1 L1243.6,1295.1 L1244.7,1294.1 L1245.8,1293.1 L1246.9,1292.1 L1248.0,1291.1 L1249.1,1290.1 L1250.3,1289.1 L1251.4,1288.1 L1252.6,1287.2 L1253.7,1286.2 L1254.9,1285.3 L1256.1,1284.3 L1257.2,1283.4 L1258.4,1282.4 L1259.6,1281.5 L1260.7,1280.6 L1261.9,1279.6 L1263.1,1278.7 L1264.3,1277.8 L1265.4,1276.8 L1266.6,1275.9 L1267.8,1275.0 L1269.0,1274.1 L1270.1,1273.1 L1271.3,1272.2 L1272.5,1271.3 L1273.7,1270.3 L1274.9,1269.4 L1276.0,1268.5 L1277.2,1267.5 L1278.4,1266.6 L1279.5,1265.7 L1280.7,1264.7 L1281.9,1263.8 L1283.1,1262.8 L1284.2,1261.9 L1285.4,1261.0 L1286.6,1260.0 L1287.7,1259.1 L1288.9,1258.2 L1290.1,1257.2 L1291.2,1256.3 L1292.4,1255.3 L1293.6,1254.4 L1294.8,1253.5 L1295.9,1252.5 L1297.1,1251.6 L1298.3,1250.6 L1299.4,1249.7 L1300.6,1248.8 L1301.8,1247.8 L1302.9,1246.9 L1304.1,1245.9 L1305.3,1245.0 L1306.4,1244.1 L1307.6,1243.1 L1308.8,1242.2 L1309.9,1241.2 L1311.1,1240.3 L1312.3,1239.3 L1313.4,1238.4 L1314.6,1237.4 L1315.7,1236.5 L1316.9,1235.5 L1318.0,1234.5 L1319.2,1233.6 L1320.4,1232.6 L1321.5,1231.7 L1322.7,1230.8 L1323.9,1229.9 L1325.1,1229.0 L1326.3,1228.1 L1327.6,1227.2 L1328.8,1226.4 L1330.0,1225.6 L1331.3,1224.8 L1332.6,1223.9 L1333.8,1223.2 L1335.1,1222.4 L1336.4,1221.6 L1337.7,1220.8 L1339.0,1220.1 L1340.3,1219.3 L1341.6,1218.6 L1342.9,1217.9 L1344.2,1217.1 L1345.5,1216.4 L1346.9,1215.7 L1348.2,1215.0 L1349.5,1214.3 L1350.8,1213.6 L1352.2,1212.9 L1353.5,1212.2 L1354.9,1211.6 L1356.2,1210.9 L1357.6,1210.3 L1358.9,1209.6 L1360.3,1209.0 L1361.6,1208.4 L1363.0,1207.8 L1364.4,1207.1 L1365.7,1206.5 L1367.1,1205.9 L1368.5,1205.3 L1369.8,1204.7 L1371.2,1204.1 L1372.6,1203.5 L1374.0,1202.9 L1375.3,1202.3 L1376.7,1201.6 L1378.1,1201.0 L1379.4,1200.4 L1380.8,1199.8 L1382.2,1199.2 L1383.5,1198.6 L1384.9,1197.9 L1386.3,1197.3 L1387.6,1196.7 L1389.0,1196.1 L1390.4,1195.5 L1391.8,1194.9 L1393.1,1194.3 L1394.5,1193.7 L1395.9,1193.2 L1397.3,1192.6 L1398.7,1192.0 L1400.1,1191.5 L1401.5,1190.9 L1402.9,1190.4 L1404.3,1189.8 L1405.7,1189.3 L1407.0,1188.7 L1408.4,1188.2 L1409.8,1187.6 L1411.2,1187.1 L1412.6,1186.5 L1414.0,1186.0 L1415.4,1185.5 L1416.9,1185.0 L1418.3,1184.5 L1419.7,1184.0 L1421.1,1183.5 L1422.5,1183.0 L1423.9,1182.5 L1425.4,1182.1 L1426.8,1181.6 L1428.2,1181.2 L1429.7,1180.8 L1431.1,1180.4 L1432.6,1180.0 L1434.1,1179.7 L1435.5,1179.4 L1437.0,1179.0 L1438.5,1178.7 L1439.9,1178.4 L1441.4,1178.1 L1442.9,1177.9 L1444.3,1177.6 L1445.8,1177.3 L1447.3,1177.1 L1448.8,1176.8 L1450.3,1176.6 L1451.7,1176.3 L1453.2,1176.0 L1454.7,1175.8 L1456.2,1175.5 L1457.6,1175.2 L1459.1,1174.9 L1460.6,1174.6 L1462.0,1174.3 L1463.5,1174.0 L1465.0,1173.7 L1466.4,1173.3 L1467.9,1173.0 L1469.4,1172.7 L1470.8,1172.4 L1472.3,1172.2 L1473.8,1172.0 L1475.3,1171.9 L1476.8,1171.7 L1478.3,1171.7 L1479.8,1171.7 L1481.3,1171.7 L1482.8,1171.8 L1484.3,1171.9 L1485.8,1172.0 L1487.3,1172.1 L1488.8,1172.2 L1490.3,1172.4 L1491.8,1172.5 L1493.3,1172.6 L1494.7,1172.7 L1496.2,1172.8 L1497.7,1172.9 L1499.2,1172.9 L1500.7,1172.8 L1502.2,1172.7 L1503.7,1172.5 L1505.2,1172.3 L1506.7,1172.0 L1508.1,1171.6 L1509.6,1171.3 L1511.0,1171.0 L1512.5,1170.7 L1514.0,1170.5 L1515.5,1170.4 L1517.0,1170.4 L1518.5,1170.4 L1520.0,1170.5 L1521.5,1170.6 L1523.0,1170.7 L1524.5,1170.8 L1526.0,1171.0 L1527.5,1171.2 L1529.0,1171.4 L1530.4,1171.6 L1531.9,1171.8 L1533.4,1172.1 L1534.9,1172.3 L1536.4,1172.5 L1537.8,1172.8 L1539.3,1173.1 L1540.8,1173.3 L1542.3,1173.6 L1543.7,1173.9 L1545.2,1174.2 L1546.7,1174.5 L1548.2,1174.7 L1549.6,1175.0 L1551.1,1175.3 L1552.6,1175.6 L1554.0,1176.0 L1555.5,1176.3 L1557.0,1176.6 L1558.4,1176.9 L1559.9,1177.2 L1561.4,1177.5 L1562.8,1177.9 L1564.3,1178.2 L1565.8,1178.6 L1567.2,1178.9 L1568.7,1179.3 L1570.1,1179.7 L1571.5,1180.1 L1573.0,1180.6 L1574.4,1181.0 L1575.8,1181.4 L1577.3,1181.8 L1578.7,1182.2 L1580.2,1182.6 L1581.6,1183.0 L1583.1,1183.3 L1584.6,1183.5 L1586.1,1183.7 L1587.6,1183.9 L1589.1,1184.0 L1590.6,1184.2 L1592.1,1184.3 L1593.5,1184.4 L1595.0,1184.5 L1596.5,1184.6 L1598.0,1184.8 L1599.5,1185.1 L1601.0,1185.4 L1602.4,1185.9 L1603.8,1186.4 L1605.1,1187.0 L1606.5,1187.7 L1607.7,1188.5 L1609.0,1189.4 L1610.2,1190.3 L1611.4,1191.2 L1612.6,1192.1 L1613.8,1193.0 L1615.0,1193.9 L1616.2,1194.7 L1617.4,1195.6 L1618.6,1196.5 L1619.7,1197.5 L1620.9,1198.4 L1622.0,1199.4 L1623.2,1200.4 L1624.4,1201.3 L1625.6,1202.2 L1626.9,1203.0 L1628.2,1203.7 L1629.5,1204.4 L1630.9,1204.9 L1632.3,1205.2 L1633.8,1205.5 L1635.3,1205.5 L1636.8,1205.5 L1638.3,1205.4 L1639.8,1205.2 L1641.3,1205.1 L1642.8,1204.8 L1644.3,1204.6 L1645.7,1204.4 L1647.2,1204.3 L1648.7,1204.2 L1650.2,1204.1 L1651.7,1204.2 L1653.2,1204.2 L1654.7,1204.3 L1656.2,1204.5 L1657.7,1204.8 L1659.1,1205.2 L1660.4,1205.9 L1661.7,1206.7 L1662.8,1207.6 L1663.9,1208.6 L1665.0,1209.7 L1666.0,1210.8 L1667.0,1211.9 L1667.9,1213.1 L1668.8,1214.3 L1669.7,1215.5 L1670.6,1216.7 L1671.5,1217.9 L1672.4,1219.1 L1673.3,1220.3 L1674.2,1221.5 L1675.1,1222.7 L1676.1,1223.9 L1677.0,1225.1 L1677.9,1226.2 L1678.8,1227.5 L1679.7,1228.7 L1680.6,1229.9 L1681.4,1231.1 L1682.3,1232.3 L1683.2,1233.5 L1684.1,1234.7 L1685.0,1235.9 L1686.0,1237.1 L1686.9,1238.2 L1687.9,1239.3 L1689.0,1240.4 L1690.0,1241.5 L1691.1,1242.5 L1692.2,1243.5 L1693.4,1244.4 L1694.6,1245.3 L1695.9,1246.1 L1697.2,1246.8 L1698.6,1247.2 L1700.1,1247.3 L1701.5,1247.2 L1702.9,1246.6 L1704.2,1245.9 L1705.3,1245.0 L1706.5,1244.0 L1707.5,1243.0 L1708.6,1241.9 L1709.7,1240.9 L1710.9,1239.9 L1712.1,1239.0 L1713.3,1238.1 L1714.5,1237.2 L1715.7,1236.3 L1716.8,1235.4 L1718.0,1234.5 L1719.2,1233.6 L1720.4,1232.7 L1721.7,1231.8 L1722.9,1231.0 L1724.2,1230.3 L1725.6,1229.6 L1727.0,1229.1 L1728.4,1228.8 L1729.9,1228.7 L1731.4,1228.8 L1732.8,1229.1 L1734.2,1229.6 L1735.5,1230.3 L1736.8,1231.1 L1738.0,1232.0 L1739.2,1232.9 L1740.3,1234.0 L1741.3,1235.0 L1742.3,1236.2 L1743.2,1237.3 L1744.2,1238.5 L1745.0,1239.7 L1745.9,1240.9 L1746.7,1242.2 L1747.6,1243.4 L1748.4,1244.7 L1749.2,1245.9 L1750.0,1247.2 L1750.8,1248.5 L1751.6,1249.7 L1752.4,1251.0 L1753.2,1252.3 L1753.9,1253.6 L1754.6,1255.0 L1755.3,1256.3 L1756.0,1257.6 L1756.7,1258.9 L1757.4,1260.3 L1758.1,1261.6 L1758.8,1262.9 L1759.6,1264.2 L1760.3,1265.5 L1761.0,1266.8 L1761.8,1268.1 L1762.6,1269.4 L1763.3,1270.7 L1764.1,1272.0 L1764.8,1273.3 L1765.6,1274.6 L1766.4,1275.9 L1767.2,1277.1 L1767.9,1278.4 L1768.7,1279.7 L1769.5,1281.0 L1770.3,1282.3 L1771.0,1283.6 L1771.8,1284.9 L1772.5,1286.2 L1773.3,1287.5 L1774.0,1288.8 L1774.7,1290.1 L1775.5,1291.4 L1776.2,1292.7 L1777.0,1294.0 L1777.8,1295.2 L1778.6,1296.5 L1779.5,1297.7 L1780.5,1298.9 L1781.4,1300.0 L1782.5,1301.1 L1783.6,1302.1 L1784.7,1303.1 L1785.8,1304.1 L1787.0,1305.0 L1788.3,1305.8 L1789.5,1306.7 L1790.8,1307.4 L1792.1,1308.2 L1793.4,1308.9 L1794.8,1309.5 L1796.1,1310.1 L1797.5,1310.7 L1799.0,1311.1 L1800.4,1311.5 L1801.9,1311.8 L1803.4,1312.1 L1804.8,1312.2 L1806.3,1312.3 L1807.8,1312.4 L1809.3,1312.3 L1810.8,1312.1 L1812.2,1311.7 L1813.6,1311.1 L1815.0,1310.5 L1816.3,1309.7 L1817.6,1309.1 L1819.0,1308.4 L1820.4,1307.9 L1821.8,1307.5 L1823.3,1307.2 L1824.8,1307.0 L1826.2,1306.7 L1827.7,1306.6 L1829.2,1306.5 L1830.7,1306.5 L1832.2,1306.6 L1833.7,1306.8 L1835.1,1307.3 L1836.4,1308.0 L1837.5,1308.9 L1838.6,1309.9 L1839.7,1311.0 L1840.8,1312.0 L1841.8,1313.1 L1842.8,1314.2 L1843.8,1315.4 L1844.8,1316.5 L1845.8,1317.6 L1846.8,1318.8 L1847.7,1319.9 L1848.8,1321.0 L1849.8,1322.1 L1850.9,1323.1 L1852.0,1324.1 L1853.1,1325.1 L1854.3,1326.0 L1855.5,1326.9 L1856.8,1327.7 L1858.1,1328.5 L1859.4,1329.2 L1860.7,1330.0 L1862.0,1330.6 L1863.4,1331.3 L1864.7,1331.9 L1866.1,1332.4 L1867.5,1333.0 L1869.0,1333.5 L1870.4,1333.9 L1871.8,1334.3 L1873.3,1334.7 L1874.8,1335.0 L1876.2,1335.3 L1877.7,1335.6 L1879.2,1335.9 L1880.6,1336.2 L1882.1,1336.6 L1883.5,1336.9 L1885.0,1337.3 L1886.4,1337.7 L1887.8,1338.3 L1889.2,1338.8 L1890.6,1339.4 L1892.0,1340.0 L1893.4,1340.4 L1894.9,1340.7 L1896.4,1340.8 L1897.8,1340.6 L1899.3,1340.3 L1900.7,1339.9 L1902.1,1339.4 L1903.5,1338.7 L1904.8,1338.1 L1906.1,1337.4 L1907.4,1336.6 L1908.7,1335.8 L1909.9,1334.9 L1911.1,1334.0 L1912.3,1333.1 L1913.5,1332.2 L1914.6,1331.2 L1915.7,1330.2 L1916.8,1329.1 L1917.8,1328.0 L1918.8,1326.9 L1919.7,1325.7 L1920.5,1324.4 L1921.3,1323.1 L1922.0,1321.8 L1922.6,1320.5 L1923.2,1319.1 L1923.8,1317.7 L1924.3,1316.3 L1924.7,1314.9 L1925.2,1313.4 L1925.6,1312.0 L1926.0,1310.6 L1926.4,1309.1 L1926.8,1307.6 L1927.1,1306.2 L1927.5,1304.7 L1927.8,1303.3 L1928.1,1301.8 L1928.5,1300.3 L1928.8,1298.9 L1929.1,1297.4 L1929.5,1296.0 L1929.8,1294.5 L1930.1,1293.0 L1930.4,1291.5 L1930.7,1290.1 L1931.0,1288.6 L1931.2,1287.1 L1931.5,1285.7 L1931.8,1284.2 L1932.1,1282.7 L1932.3,1281.2 L1932.6,1279.8 L1932.9,1278.3 L1933.1,1276.8 L1933.4,1275.3 L1933.6,1273.8 L1933.9,1272.4 L1934.1,1270.9 L1934.4,1269.4 L1934.6,1267.9 L1934.9,1266.5 L1935.1,1265.0 L1935.4,1263.5 L1935.6,1262.0 L1935.9,1260.5 L1936.1,1259.1 L1936.4,1257.6 L1936.7,1256.1 L1936.9,1254.6 L1937.2,1253.1 L1937.4,1251.7 L1937.6,1250.2 L1937.9,1248.7 L1938.1,1247.2 L1938.4,1245.7 L1938.6,1244.3 L1938.9,1242.8 L1939.1,1241.3 L1939.3,1239.8 L1939.6,1238.3 L1939.8,1236.9 L1940.1,1235.4 L1940.3,1233.9 L1940.5,1232.4 L1940.8,1230.9 L1941.0,1229.5 L1941.3,1228.0 L1941.5,1226.5 L1941.7,1225.0 L1942.0,1223.5 L1942.2,1222.0 L1942.4,1220.6 L1942.7,1219.1 L1942.9,1217.6 L1943.1,1216.1 L1943.4,1214.6 L1943.6,1213.2 L1943.8,1211.7 L1944.0,1210.2 L1944.3,1208.7 L1944.5,1207.2 L1944.7,1205.7 L1944.9,1204.3 L1945.1,1202.8 L1945.4,1201.3 L1945.6,1199.8 L1945.8,1198.3 L1946.0,1196.8 L1946.2,1195.4 L1946.4,1193.9 L1946.6,1192.4 L1946.9,1190.9 L1947.1,1189.4 L1947.3,1187.9 L1947.5,1186.4 L1947.7,1185.0 L1947.9,1183.5 L1948.2,1182.0 L1948.4,1180.5 L1948.6,1179.0 L1948.9,1177.5 L1949.1,1176.1 L1949.3,1174.6 L1949.6,1173.1 L1949.8,1171.6 L1950.1,1170.1 L1950.3,1168.7 L1950.6,1167.2 L1950.8,1165.7 L1951.1,1164.2 L1951.5,1162.8 L1951.8,1161.3 L1952.2,1159.9 L1952.6,1158.4 L1953.1,1157.0 L1953.5,1155.6 L1954.0,1154.2 L1954.5,1152.7 L1955.0,1151.3 L1955.5,1149.9 L1956.0,1148.5 L1956.6,1147.1 L1957.2,1145.7 L1957.8,1144.4 L1958.5,1143.1 L1959.3,1141.9 L1960.4,1141.1 L1961.5,1141.0 L1962.5,1141.8 L1963.4,1142.9 L1964.0,1144.3 L1964.6,1145.6 L1965.2,1147.0 L1965.8,1148.4 L1966.3,1149.8 L1966.9,1151.2 L1967.5,1152.6 L1968.2,1153.9 L1968.8,1155.3 L1969.3,1156.7 L1969.8,1158.1 L1970.3,1159.5 L1970.7,1161.0 L1971.1,1162.4 L1971.4,1163.9 L1971.7,1165.3 L1972.0,1166.8 L1972.3,1168.3 L1972.5,1169.8 L1972.8,1171.3 L1973.0,1172.7 L1973.2,1174.2 L1973.4,1175.7 L1973.6,1177.2 L1973.8,1178.7 L1973.9,1180.2 L1974.1,1181.7 L1974.3,1183.2 L1974.5,1184.6 L1974.6,1186.1 L1974.8,1187.6 L1974.9,1189.1 L1975.1,1190.6 L1975.3,1192.1 L1975.4,1193.6 L1975.6,1195.1 L1975.8,1196.6 L1975.9,1198.1 L1976.1,1199.6 L1976.2,1201.1 L1976.4,1202.5 L1976.6,1204.0 L1976.7,1205.5 L1976.9,1207.0 L1977.1,1208.5 L1977.2,1210.0 L1977.4,1211.5 L1977.6,1213.0 L1977.7,1214.5 L1977.9,1216.0 L1978.1,1217.4 L1978.3,1218.9 L1978.4,1220.4 L1978.6,1221.9 L1978.8,1223.4 L1978.9,1224.9 L1979.1,1226.4 L1979.3,1227.9 L1979.4,1229.4 L1979.6,1230.9 L1979.8,1232.4 L1979.9,1233.8 L1980.1,1235.3 L1980.3,1236.8 L1980.5,1238.3 L1980.6,1239.8 L1980.8,1241.3 L1981.0,1242.8 L1981.1,1244.3 L1981.3,1245.8 L1981.5,1247.3 L1981.6,1248.7 L1981.8,1250.2 L1982.0,1251.7 L1982.1,1253.2 L1982.3,1254.7 L1982.5,1256.2 L1982.7,1257.7 L1982.8,1259.2 L1983.0,1260.7 L1983.2,1262.2 L1983.4,1263.6 L1983.5,1265.1 L1983.7,1266.6 L1983.9,1268.1 L1984.1,1269.6 L1984.2,1271.1 L1984.4,1272.6 L1984.6,1274.1 L1984.8,1275.6 L1985.0,1277.0 L1985.2,1278.5 L1985.3,1280.0 L1985.5,1281.5 L1985.7,1283.0 L1985.9,1284.5 L1986.1,1286.0 L1986.3,1287.5 L1986.4,1289.0 L1986.6,1290.4 L1986.8,1291.9 L1987.0,1293.4 L1987.2,1294.9 L1987.4,1296.4 L1987.6,1297.9 L1987.7,1299.4 L1987.9,1300.9 L1988.1,1302.4 L1988.3,1303.8 L1988.5,1305.3 L1988.7,1306.8 L1988.9,1308.3 L1989.1,1309.8 L1989.3,1311.3 L1989.5,1312.8 L1989.7,1314.3 L1989.9,1315.7 L1990.1,1317.2 L1990.3,1318.7 L1990.5,1320.2 L1990.8,1321.7 L1991.0,1323.2 L1991.2,1324.6 L1991.4,1326.1 L1991.7,1327.6 L1991.9,1329.1 L1992.2,1330.6 L1992.4,1332.0 L1992.7,1333.5 L1992.9,1335.0 L1993.2,1336.5 L1993.4,1338.0 L1993.7,1339.4 L1994.0,1340.9 L1994.2,1342.4 L1994.5,1343.9 L1994.8,1345.3 L1995.1,1346.8 L1995.4,1348.3 L1995.7,1349.7 L1996.1,1351.2 L1996.5,1352.6 L1996.8,1354.1 L1997.3,1355.5 L1997.7,1357.0 L1998.2,1358.4 L1998.7,1359.8 L1999.3,1361.2 L1999.9,1362.6 L2000.5,1363.9 L2001.2,1365.2 L2002.0,1366.5 L2002.9,1367.7 L2003.8,1368.9 L2004.9,1369.9 L2006.0,1370.9 L2007.3,1371.7 L2008.6,1372.4 L2010.0,1372.9 L2011.4,1373.1 L2012.9,1373.1 L2014.4,1372.9 L2015.9,1372.5 L2017.3,1372.1 L2018.7,1371.7 L2020.2,1371.2 L2021.6,1370.8 L2023.1,1370.5 L2024.5,1370.3 L2026.0,1370.3 L2027.5,1370.4 L2029.0,1370.7 L2030.5,1371.0 L2031.9,1371.4 L2033.3,1371.9 L2034.6,1372.6 L2036.0,1373.3 L2037.2,1374.1 L2038.4,1375.0 L2039.6,1375.9 L2040.7,1376.9 L2041.7,1378.0 L2042.7,1379.2 L2043.6,1380.3 L2044.6,1381.5 L2045.5,1382.7 L2046.4,1383.9 L2047.3,1385.1 L2048.2,1386.3 L2049.1,1387.5 L2050.0,1388.7 L2050.8,1389.9 L2051.7,1391.2 L2052.5,1392.4 L2053.3,1393.7 L2054.1,1394.9 L2055.0,1396.2 L2055.9,1397.4 L2056.8,1398.6 L2057.8,1399.7 L2058.9,1400.7 L2060.0,1401.6 L2061.3,1402.4 L2062.6,1403.1 L2064.0,1403.7 L2065.4,1404.2 L2066.9,1404.5 L2068.3,1404.9 L2069.8,1405.2 L2071.3,1405.5 L2072.8,1405.7 L2074.2,1406.0 L2075.7,1406.3 L2077.2,1406.6 L2078.6,1406.9 L2080.1,1407.1 L2081.6,1407.3 L2083.1,1407.4 L2084.6,1407.4 L2086.1,1407.2 L2087.5,1406.9 L2088.9,1406.4 L2090.3,1405.8 L2091.6,1405.1 L2092.9,1404.3 L2094.1,1403.4 L2095.3,1402.5 L2096.5,1401.6 L2097.6,1400.6 L2098.7,1399.6 L2099.8,1398.6 L2100.9,1397.5 L2102.0,1396.5 L2103.0,1395.4 L2104.1,1394.3 L2105.1,1393.2 L2106.1,1392.1 L2107.1,1391.0 L2108.1,1389.9 L2109.0,1388.7 L2110.0,1387.5 L2110.9,1386.4 L2111.9,1385.2 L2112.8,1384.0 L2113.7,1382.9 L2114.7,1381.7 L2115.5,1380.6 L2116.2,1379.8 L2117.2,1378.6" fill="none" stroke="#ff0000" stroke-width="6.0" stroke-linejoin="round" stroke-linecap="round"/>
<rect x="51" y="38" width="2067" height="1536.5" fill="none" stroke="#000" stroke-width="6.2" stroke-linejoin="round"/>
<line x1="50.3" y1="1577" x2="50.3" y2="1589.5" stroke="#000" stroke-width="6" stroke-linecap="round"/>
<line x1="363.6" y1="1577" x2="363.6" y2="1604.5" stroke="#000" stroke-width="6" stroke-linecap="round"/>
<line x1="676.9" y1="1577" x2="676.9" y2="1589.5" stroke="#000" stroke-width="6" stroke-linecap="round"/>
<line x1="990.2" y1="1577" x2="990.2" y2="1604.5" stroke="#000" stroke-width="6" stroke-linecap="round"/>
<line x1="1303.5" y1="1577" x2="1303.5" y2="1589.5" stroke="#000" stroke-width="6" stroke-linecap="round"/>
<line x1="1616.8" y1="1577" x2="1616.8" y2="1604.5" stroke="#000" stroke-width="6" stroke-linecap="round"/>
<line x1="1930.1" y1="1577" x2="1930.1" y2="1589.5" stroke="#000" stroke-width="6" stroke-linecap="round"/>
<text transform="translate(329.26 1671.40) scale(0.9477 1.0000)" font-size="63.5" xml:space="preserve">20</text>
<text transform="translate(956.47 1671.40) scale(0.9446 1.0000)" font-size="63.5" xml:space="preserve">30</text>
<text transform="translate(1583.37 1671.40) scale(0.9254 1.0000)" font-size="63.5" xml:space="preserve">40</text>
<text transform="translate(764.55 1789.40) scale(1.0174 1.0000)" font-size="72.5" xml:space="preserve">elution volume [mL]</text>
<rect x="86.5" y="121.7" width="1492.3" height="404.8" fill="none" stroke="#2a2a2a" stroke-width="3"/>
<line x1="109.4" y1="190.2" x2="215.7" y2="190.2" stroke="#ff00ff" stroke-width="5.4" stroke-linecap="round"/>
<text transform="translate(273.01 211.40) scale(0.9876 1.0000)" font-size="74" xml:space="preserve"><tspan font-weight="bold">4a</tspan>: 0.5 M, M</text>
<text transform="translate(679.50 240.40) scale(0.9677 1.0000)" font-size="44.5" xml:space="preserve">n,SEC</text>
<text transform="translate(824.41 211.00) scale(0.9971 1.0000)" font-size="74" xml:space="preserve">= 1500 g/mol</text>
<text transform="translate(1253.24 211.00) scale(0.9900 1.0000)" font-size="74" xml:space="preserve">,</text>
<text transform="translate(1296.23 211.00) scale(0.9725 1.0000)" font-size="74" xml:space="preserve"><tspan font-style="italic">&#272;</tspan></text>
<text transform="translate(1367.11 211.00) scale(0.9971 1.0000)" font-size="74" xml:space="preserve">= 2.01</text>
<line x1="113.1" y1="286.4" x2="220.2" y2="286.4" stroke="#000000" stroke-width="5.4" stroke-linecap="round"/>
<text transform="translate(269.41 306.60) scale(0.9868 1.0000)" font-size="74" xml:space="preserve"><tspan font-weight="bold">4b</tspan>: 1.0 M, M</text>
<text transform="translate(679.50 335.40) scale(0.9677 1.0000)" font-size="44.5" xml:space="preserve">n,SEC</text>
<text transform="translate(824.41 305.90) scale(0.9971 1.0000)" font-size="74" xml:space="preserve">= 2000 g/mol</text>
<text transform="translate(1253.24 305.90) scale(0.9900 1.0000)" font-size="74" xml:space="preserve">,</text>
<text transform="translate(1296.06 305.90) scale(0.9373 1.0000)" font-size="74" xml:space="preserve"><tspan font-style="italic">&#272;</tspan></text>
<text transform="translate(1366.64 305.90) scale(0.9900 1.0000)" font-size="74" xml:space="preserve">= 2.23</text>
<line x1="117.3" y1="381.3" x2="222.8" y2="381.3" stroke="#0000ff" stroke-width="5.4" stroke-linecap="round"/>
<text transform="translate(272.31 401.40) scale(0.9876 1.0000)" font-size="74" xml:space="preserve"><tspan font-weight="bold">4c</tspan>: 1.5 M, M</text>
<text transform="translate(678.08 430.40) scale(0.9734 1.0000)" font-size="44.5" xml:space="preserve">n,SEC</text>
<text transform="translate(824.11 401.00) scale(0.9979 1.0000)" font-size="74" xml:space="preserve">= 2700 g/mol</text>
<text transform="translate(1252.54 401.00) scale(0.9900 1.0000)" font-size="74" xml:space="preserve">,</text>
<text transform="translate(1295.25 401.00) scale(0.9529 1.0000)" font-size="74" xml:space="preserve"><tspan font-style="italic">&#272;</tspan></text>
<text transform="translate(1365.94 401.00) scale(0.9910 1.0000)" font-size="74" xml:space="preserve">= 2.73</text>
<line x1="117.3" y1="472.6" x2="222.8" y2="472.6" stroke="#ff0000" stroke-width="5.4" stroke-linecap="round"/>
<text transform="translate(273.31 493.00) scale(0.9860 1.0000)" font-size="74" xml:space="preserve"><tspan font-weight="bold">4d</tspan>: bulk,   M</text>
<text transform="translate(674.38 521.90) scale(0.9742 1.0000)" font-size="44.5" xml:space="preserve">n,SEC</text>
<text transform="translate(820.83 492.30) scale(0.9931 1.0000)" font-size="74" xml:space="preserve">= 2600 g/mol</text>
<text transform="translate(1249.04 492.30) scale(0.9900 1.0000)" font-size="74" xml:space="preserve">,</text>
<text transform="translate(1290.85 492.30) scale(0.9529 1.0000)" font-size="74" xml:space="preserve"><tspan font-style="italic">&#272;</tspan></text>
<text transform="translate(1362.21 492.30) scale(0.9965 1.0000)" font-size="74" xml:space="preserve">= 3.29</text>
</svg>
</body></html>
